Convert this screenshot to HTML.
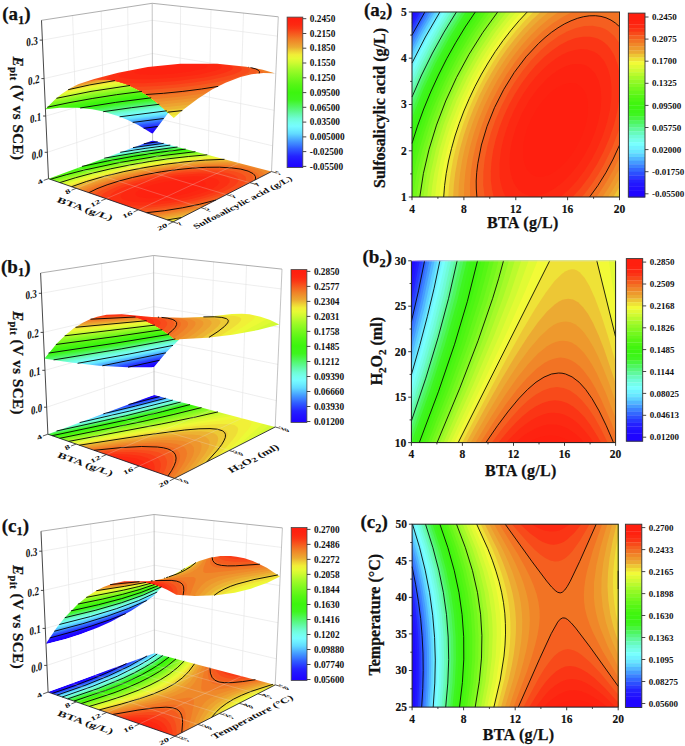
<!DOCTYPE html>
<html><head><meta charset="utf-8"><style>
html,body{margin:0;padding:0;background:#fff;}
body{width:685px;height:746px;overflow:hidden;}
svg{display:block;}
text{font-family:"Liberation Serif",serif;font-weight:bold;fill:#111;}
.h{stroke:#111;stroke-width:0.25px;}
.m{stroke:#111;stroke-width:0.15px;}
</style></head><body>
<svg width="685" height="746" viewBox="0 0 685 746">
<polyline fill="none" points="47.4,152.3 152.5,117.4 272.6,145.8" stroke="#e6e6e6" stroke-width="0.7"/>
<polyline fill="none" points="45.8,116 152.4,85.8 274.2,110.3" stroke="#e6e6e6" stroke-width="0.7"/>
<polyline fill="none" points="44.1,78.6 152.3,53.5 275.8,73.7" stroke="#e6e6e6" stroke-width="0.7"/>
<polyline fill="none" points="42.4,40.1 152.2,20.3 277.4,36.1" stroke="#e6e6e6" stroke-width="0.7"/>
<line x1="77.6" y1="168" x2="72.6" y2="15.6" stroke="#e6e6e6" stroke-width="0.7"/>
<line x1="104.5" y1="158.1" x2="101.2" y2="11.1" stroke="#e6e6e6" stroke-width="0.7"/>
<line x1="129.4" y1="148.9" x2="127.7" y2="7.1" stroke="#e6e6e6" stroke-width="0.7"/>
<line x1="179.6" y1="147.5" x2="180.6" y2="6.3" stroke="#e6e6e6" stroke-width="0.7"/>
<line x1="208.3" y1="155" x2="211" y2="9.6" stroke="#e6e6e6" stroke-width="0.7"/>
<line x1="238.9" y1="163.1" x2="243.5" y2="13" stroke="#e6e6e6" stroke-width="0.7"/>
<polyline fill="none" points="41.5,20.3 152.2,3.3 278.3,16.8" stroke="#999" stroke-width="0.8"/>
<line x1="152.6" y1="140.4" x2="152.2" y2="3.3" stroke="#aaa" stroke-width="0.7"/>
<line x1="271.5" y1="171.6" x2="278.3" y2="16.8" stroke="#aaa" stroke-width="0.7"/>
<mask id="cl1" maskUnits="userSpaceOnUse" x="0" y="0" width="685" height="746"><path fill="#fff" d="M48.5 178.7 173.1 221.9 271.5 171.6 152.6 140.4Z"/></mask>
<g mask="url(#cl1)">
<path fill="#1e00ff" d="M48.5 178.7 173.1 221.9 271.5 171.6 152.6 140.4Z"/>
<path fill-rule="evenodd" fill="#1e00ff" d="M278 171.4 157.3 140 143.3 141.9 41.7 178.9 173.9 225.2 278 171.4Z"/>
<path fill-rule="evenodd" fill="#1f06ff" d="M278 171.4 158.2 140.2 141.8 142.4 41.7 178.9 173.9 225.2 278 171.4Z"/>
<path fill-rule="evenodd" fill="#200dff" d="M278 171.4 159.1 140.4 140.2 143 41.7 178.9 173.9 225.2 278 171.4Z"/>
<path fill-rule="evenodd" fill="#2113ff" d="M278 171.4 159.9 140.7 138.7 143.5 41.7 178.9 173.9 225.2 278 171.4Z"/>
<path fill-rule="evenodd" fill="#221aff" d="M278 171.4 160.8 140.9 137.1 144.1 41.7 178.9 173.9 225.2 278 171.4Z"/>
<path fill-rule="evenodd" fill="#2425ff" d="M278 171.4 161.7 141.1 135.4 144.7 41.7 178.9 173.9 225.2 278 171.4Z"/>
<path fill-rule="evenodd" fill="#2736ff" d="M278 171.4 162.6 141.4 133.7 145.3 41.7 178.9 173.9 225.2 278 171.4Z"/>
<path fill-rule="evenodd" fill="#2b48ff" d="M278 171.4 163.6 141.6 132 146 41.7 178.9 173.9 225.2 278 171.4Z"/>
<path fill-rule="evenodd" fill="#2e59ff" d="M278 171.4 164.5 141.8 130.3 146.6 41.7 178.9 173.9 225.2 278 171.4Z"/>
<path fill-rule="evenodd" fill="#356dff" d="M278 171.4 165.4 142.1 128.5 147.3 41.7 178.9 173.9 225.2 278 171.4Z"/>
<path fill-rule="evenodd" fill="#3b80ff" d="M278 171.4 166.4 142.3 126.6 147.9 41.7 178.9 173.9 225.2 278 171.4Z"/>
<path fill-rule="evenodd" fill="#4294ff" d="M278 171.4 167.4 142.6 124.8 148.6 41.7 178.9 173.9 225.2 278 171.4Z"/>
<path fill-rule="evenodd" fill="#4aa8ff" d="M278 171.4 168.3 142.8 122.8 149.3 41.7 178.9 173.9 225.2 278 171.4Z"/>
<path fill-rule="evenodd" fill="#53bcff" d="M278 171.4 169.3 143.1 144.6 146.4 120.8 150 41.7 178.9 173.9 225.2 278 171.4Z"/>
<path fill-rule="evenodd" fill="#5cd0ff" d="M278 171.4 170.3 143.4 144.5 146.8 118.8 150.8 41.7 178.9 173.9 225.2 278 171.4Z"/>
<path fill-rule="evenodd" fill="#65e3ff" d="M278 171.4 171.4 143.6 144.3 147.2 116.6 151.6 41.7 178.9 173.9 225.2 278 171.4Z"/>
<path fill-rule="evenodd" fill="#6becff" d="M278 171.4 172.4 143.9 143.5 147.7 114.5 152.4 41.7 178.9 173.9 225.2 278 171.4Z"/>
<path fill-rule="evenodd" fill="#72f5ff" d="M278 171.4 173.5 144.2 142.4 148.3 112.2 153.2 41.7 178.9 173.9 225.2 278 171.4Z"/>
<path fill-rule="evenodd" fill="#78ffff" d="M278 171.4 174.5 144.5 142.2 148.8 109.8 154 41.7 178.9 173.9 225.2 278 171.4Z"/>
<path fill-rule="evenodd" fill="#75fef1" d="M278 171.4 175.6 144.7 141.8 149.2 107.4 154.9 41.7 178.9 173.9 225.2 278 171.4Z"/>
<path fill-rule="evenodd" fill="#72fde3" d="M278 171.4 176.8 145 140.5 149.9 104.9 155.9 41.7 178.9 173.9 225.2 278 171.4Z"/>
<path fill-rule="evenodd" fill="#6ffcd5" d="M278 171.4 177.9 145.3 139.7 150.4 102.2 156.8 41.7 178.9 173.9 225.2 278 171.4Z"/>
<path fill-rule="evenodd" fill="#69fbc0" d="M278 171.4 179 145.6 139.4 150.9 99.5 157.8 41.7 178.9 173.9 225.2 278 171.4Z"/>
<path fill-rule="evenodd" fill="#62faa8" d="M278 171.4 180.2 145.9 138.2 151.6 96.6 158.9 41.7 178.9 173.9 225.2 278 171.4Z"/>
<path fill-rule="evenodd" fill="#5cf891" d="M278 171.4 181.4 146.2 137 152.2 93.5 160 41.7 178.9 173.9 225.2 278 171.4Z"/>
<path fill-rule="evenodd" fill="#55f779" d="M278 171.4 182.6 146.6 159.3 149.4 136.5 152.8 112.9 156.8 90.3 161.2 41.7 178.9 173.9 225.2 278 171.4Z"/>
<path fill-rule="evenodd" fill="#4ff762" d="M278 171.4 183.9 146.9 158.9 149.9 134.5 153.6 110.1 157.8 86.8 162.4 41.7 178.9 173.9 225.2 278 171.4Z"/>
<path fill-rule="evenodd" fill="#49f64b" d="M278 171.4 185.1 147.2 159.9 150.3 133.8 154.2 108.2 158.7 83.1 163.8 41.7 178.9 173.9 225.2 278 171.4Z"/>
<path fill-rule="evenodd" fill="#43f533" d="M278 171.4 186.4 147.6 161.3 150.6 136.7 154.2 111.5 158.6 86.9 163.5 79.1 165.2 41.7 178.9 173.9 225.2 278 171.4Z"/>
<path fill-rule="evenodd" fill="#3ef51e" d="M278 171.4 187.8 147.9 163.9 150.7 139.4 154.3 115.6 158.3 91.6 163.1 74.8 166.8 41.7 178.9 173.9 225.2 278 171.4Z"/>
<path fill-rule="evenodd" fill="#3df519" d="M278 171.4 189.1 148.3 166.5 150.9 142.7 154.3 119.8 158.1 97.1 162.5 69.9 168.6 41.7 178.9 173.9 225.2 278 171.4Z"/>
<path fill-rule="evenodd" fill="#3df514" d="M278 171.4 190.5 148.6 168 151.2 145.7 154.3 123.9 157.9 101.3 162.2 64.4 170.6 41.7 178.9 173.9 225.2 278 171.4Z"/>
<path fill-rule="evenodd" fill="#3cf50f" d="M278 171.4 191.9 149 170.2 151.4 149.3 154.3 127.5 157.8 106.4 161.7 82.4 166.9 59.8 172.5 41.7 178.9 173.9 225.2 278 171.4Z"/>
<path fill-rule="evenodd" fill="#43f510" d="M278 171.4 193.4 149.4 152.5 154.4 111.9 161.3 90.7 165.7 70 170.5 49.6 176 41.7 178.9 173.9 225.2 278 171.4Z"/>
<path fill-rule="evenodd" fill="#4bf612" d="M278 171.4 194.9 149.8 155.2 154.5 115.1 161.2 77.4 169.4 59.2 174.1 42.1 179 173.9 225.2 278 171.4Z"/>
<path fill-rule="evenodd" fill="#53f613" d="M278 171.4 196.5 150.2 156.1 155 116.1 161.6 77.9 170 60.1 174.5 43.3 179.4 173.9 225.2 278 171.4Z"/>
<path fill-rule="evenodd" fill="#5df616" d="M278 171.4 198.1 150.6 158.5 155.2 138.4 158.3 117.8 161.9 98.3 165.9 79.2 170.3 61 175.1 44.6 179.9 173.9 225.2 278 171.4Z"/>
<path fill-rule="evenodd" fill="#68f719" d="M278 171.4 199.7 151 179.7 153.1 159.5 155.6 139.3 158.7 119.1 162.3 99.5 166.3 80.3 170.8 62.3 175.5 45.9 180.4 173.9 225.2 278 171.4Z"/>
<path fill-rule="evenodd" fill="#73f81c" d="M278 171.4 201.4 151.5 181.3 153.5 161.3 156 141.3 159 120.9 162.6 100.8 166.7 82.4 171 64.3 175.8 47.3 180.8 173.9 225.2 278 171.4Z"/>
<path fill-rule="evenodd" fill="#7ef820" d="M278 171.4 203.2 151.9 183.2 153.9 162.7 156.4 142.7 159.4 121.7 163.1 102.1 167.1 83.7 171.4 65.6 176.2 48.7 181.3 173.9 225.2 278 171.4Z"/>
<path fill-rule="evenodd" fill="#8bf923" d="M278 171.4 205 152.4 185.3 154.2 165 156.7 144.1 159.8 123.9 163.4 104.2 167.4 85 171.9 67 176.7 50.1 181.8 173.9 225.2 278 171.4Z"/>
<path fill-rule="evenodd" fill="#97fa26" d="M278 171.4 206.9 152.9 187.3 154.7 166.7 157.1 146 160.2 125.3 163.8 104.8 168 86.4 172.3 68.4 177.1 51.6 182.3 173.9 225.2 278 171.4Z"/>
<path fill-rule="evenodd" fill="#a5fa29" d="M278 171.4 208.9 153.4 189.3 155.1 168.3 157.6 147.9 160.5 127.5 164.1 107.6 168.1 87.8 172.8 69.9 177.6 53.1 182.9 173.9 225.2 278 171.4Z"/>
<path fill-rule="evenodd" fill="#b4fa2c" d="M278 171.4 211 154 191.1 155.6 169.9 158 148.9 161 128.3 164.6 107.9 168.8 89.3 173.2 71.4 178.1 54.7 183.4 173.9 225.2 278 171.4Z"/>
<path fill-rule="evenodd" fill="#c4fa2f" d="M278 171.4 213.2 154.5 193 156.1 171.9 158.5 151.1 161.4 130.5 165 110.6 169 90.8 173.7 72.9 178.7 56.3 184 173.9 225.2 278 171.4Z"/>
<path fill-rule="evenodd" fill="#d3fa32" d="M278 171.4 215.6 155.2 213.3 155.3 193.4 156.8 172.4 159.1 151.5 162.1 131 165.6 110.8 169.8 91.6 174.4 73.8 179.4 58 184.6 173.9 225.2 278 171.4Z"/>
<path fill-rule="evenodd" fill="#e0fa34" d="M278 171.4 218.1 155.8 210.1 156.3 191.1 157.8 171 160 150.4 163 130.6 166.5 110.9 170.6 92.5 175.1 75.4 180 59.7 185.2 171.8 224.5 177 223.6 278 171.4Z"/>
<path fill-rule="evenodd" fill="#ecfa36" d="M278 171.4 220.7 156.5 207.9 157.2 188.7 158.8 168.7 161.1 148.6 164.1 129.2 167.6 110.3 171.6 92.7 176 76.5 180.8 61.5 185.8 169.4 223.7 180.5 221.8 278 171.4Z"/>
<path fill-rule="evenodd" fill="#f1f037" d="M278 171.4 223.6 157.3 204.4 158.2 186.2 159.8 167.1 162.1 148.3 165 129.1 168.5 110.5 172.5 93.7 176.8 77.6 181.6 63.4 186.5 167 222.8 184.1 220 278 171.4Z"/>
<path fill-rule="evenodd" fill="#efde37" d="M278 171.4 226.8 158.1 202 159.3 184 160.9 165.6 163.2 146.9 166.1 128.9 169.4 110.8 173.4 94.1 177.8 78.7 182.4 65.4 187.2 164.4 221.9 187.9 218 278 171.4Z"/>
<path fill-rule="evenodd" fill="#edc935" d="M278 171.4 230.4 159 215.2 159.4 198.5 160.4 180.7 162.1 162.8 164.4 144.9 167.3 127.7 170.6 110.4 174.6 94.5 178.8 80 183.3 67.5 187.9 161.8 221 191.9 215.9 278 171.4Z"/>
<path fill-rule="evenodd" fill="#ecb333" d="M278 171.4 234.5 160.1 216.2 160.3 195.6 161.6 177.9 163.4 160.7 165.7 143.6 168.5 126.5 171.9 110.1 175.7 95.1 179.9 81.4 184.3 69.7 188.7 159 220 178.1 217.1 196.1 213.7 278 171.4Z"/>
<path fill-rule="evenodd" fill="#eda330" d="M278 171.4 239.6 161.4 217.1 161.3 192.8 162.8 176 164.5 158.7 166.9 142 169.8 126.3 173 110.7 176.7 96.5 180.7 83.6 185 72.1 189.5 156.1 219 178.4 215.7 200.7 211.4 278 171.4Z"/>
<path fill-rule="evenodd" fill="#ee962d" d="M271.6 169.8 246.8 163.3 239.2 162.7 226.8 162.3 213.3 162.5 184.3 164.6 152.8 168.9 122.6 175 108.5 178.6 95.9 182.3 84.6 186.3 74.6 190.4 153.1 217.9 179.5 214.1 205.7 208.8 275 173 273.4 171 271.6 169.8Z"/>
<path fill-rule="evenodd" fill="#ef892a" d="M261.8 168.2 255 166.3 247.1 164.9 237.4 164 226.8 163.6 201.3 164.3 173.6 166.9 145.4 171.3 118.7 177.2 95.6 184 85.9 187.6 77.4 191.4 149.8 216.8 157.9 215.8 185.4 211.5 211.3 205.9 270.5 175.3 269.8 173.4 268 171.5 265.2 169.7 261.8 168.2Z"/>
<path fill-rule="evenodd" fill="#f17a26" d="M257.2 169.4 251.2 167.6 243.4 166.2 233.7 165.3 222.9 164.9 197.8 165.7 171.3 168.3 144.7 172.7 118.9 178.5 107.6 181.8 96.8 185.3 88 188.8 80.4 192.5 146.2 215.5 160.6 213.9 175.5 211.7 190.5 209 204.8 205.8 218 202.4 265 178.2 265 175.6 263.6 173.2 261.1 171.2 257.2 169.4Z"/>
<path fill-rule="evenodd" fill="#f36b22" d="M249.9 169.8 243.4 168.2 235.1 167.1 225.8 166.5 215.5 166.3 192.1 167.3 167 170.2 141 174.7 117.9 180.3 98.3 186.8 90.4 190.1 83.8 193.6 142.3 214.1 167 211.3 182.9 208.8 198.3 205.6 213 202 226.9 197.8 257.5 181.9 258.7 180 259.3 178.2 259.2 176.6 258.5 174.9 257 173.3 255.1 172 249.9 169.8Z"/>
<path fill-rule="evenodd" fill="#f55b1f" d="M244.1 171 237.5 169.5 229.9 168.5 211 167.8 187.9 169 163.8 172 139.9 176.4 117.9 182 108.4 185.1 100.2 188.3 93.3 191.6 87.7 195 137.8 212.6 154.5 211.2 171.6 208.9 192.4 205.1 212 200.4 228.6 195 241.1 189.7 246.1 186.7 249.8 183.9 252 181.4 253 178.8 252.7 176.5 251.2 174.5 248.3 172.7 244.1 171Z"/>
<path fill-rule="evenodd" fill="#f84b1b" d="M239.9 173.1 234.4 171.5 227.1 170.3 218.8 169.7 208.4 169.5 186.4 170.7 161.8 173.7 138.3 178.4 117.6 184.1 109.2 187.2 102.1 190.3 96.4 193.6 92.5 196.7 132.5 210.7 152.5 209.4 174.2 206.6 192.3 203.2 209.2 199.1 223.7 194.4 235.1 189.5 239.2 187.1 242.7 184.6 245 182.2 246 180.2 246.1 178.2 245.1 176.3 243.2 174.7 239.9 173.1Z"/>
<path fill-rule="evenodd" fill="#fa3c17" d="M233.8 174.9 228.4 173.3 221.1 172.1 212.6 171.5 203 171.4 181.4 172.8 157.5 176.1 135 181.1 125.1 183.9 116.7 186.9 109.6 190.1 103.9 193.3 100.6 196.3 99 199 125.4 208.2 137.5 208.2 150.2 207.5 164.5 206 179.2 203.7 194.3 200.7 208.2 197 219.7 193.2 229.1 189 235.4 184.9 237.2 183.1 238.3 181.1 238.4 179.2 237.8 177.8 236.4 176.4 233.8 174.9Z"/>
<path fill-rule="evenodd" fill="#fc2f13" d="M226.3 176.9 221.8 175.4 215.4 174.3 207.9 173.7 199.3 173.6 178.8 174.9 157.3 178.1 137.4 182.7 128.6 185.4 121.6 188.1 116 190.8 111.8 193.6 109.5 196.2 108.9 198.8 109.5 200.1 110.6 201.2 115.3 203.3 122 204.7 131.3 205.5 142.3 205.5 155 204.7 167.8 203.2 180.6 201.2 193.2 198.5 203.9 195.7 213.9 192.3 221.6 188.8 226.8 185.5 229.4 182.4 229.7 180.7 229.3 179.3 228.2 178.2 226.3 176.9Z"/>
<path fill-rule="evenodd" fill="#fd2711" d="M216.5 179 212.6 177.7 207.7 176.8 194.6 176.2 177.9 177.3 160.4 179.8 144.2 183.6 131 188.1 126.4 190.3 122.8 192.7 120.9 194.8 120.6 196.8 121.3 198.1 122.5 199.1 126.3 200.6 132.2 201.7 139.5 202.3 148.1 202.2 158.3 201.6 168.9 200.4 179.4 198.7 189.7 196.5 198.7 194.1 206.6 191.4 212.7 188.6 217 185.8 219.1 183.3 219.3 182.2 219 181 216.5 179Z"/>
<path fill-rule="evenodd" fill="#fe2210" d="M204.3 182.1 202 181.1 198.9 180.4 189.2 179.7 177.7 180.3 164.7 182.1 153.2 184.7 143.2 188 137.1 191.4 135.8 192.8 135.5 194.4 136.9 195.9 139.3 197 143.4 197.8 148.5 198.2 161.3 197.8 176.2 195.9 189.9 192.7 200 189 203.3 187.1 205.2 185.2 205.5 183.6 204.3 182.1Z"/>
</g>
<path fill="none" stroke="#000" stroke-width="0.9" d="M157.7 141.8 143.8 143.7M163.7 143.3 133 147.6M170.3 145.1 145.1 148.4 120.2 152.3M177.5 147 140.8 151.9 104.3 158.2M185.7 149.1 160.2 152.2 133.4 156.3 107.5 161 82 166.4M195.4 151.7 157.3 156.2 119.6 162.5 83.7 170.2 66.6 174.6 50.4 179.3M207.3 154.8 188.3 156.5 169.1 158.7 149.2 161.6 129.7 165 110.7 168.8 92.6 173.1 75.6 177.7 59.8 182.6M224.5 159.3 205.3 160.1 185 161.8 164.2 164.4 143.9 167.7 123.9 171.6 104.8 176.2 86.7 181.4 71.6 186.7M167.3 219.9 181.4 217.6M255.2 180 255.6 178.1 255.4 176.6 254.5 175 253.1 173.6 248.1 171.1 240.8 169.1 231.4 167.9 219.6 167.2 206.2 167.3 192.4 168.1 176.6 169.7 161.7 171.7 147 174.3 132.4 177.5 119.4 180.9 107.1 184.8 97 188.7 88.9 192.7M146.5 212.7 164.5 210.7 182.4 207.8 199.4 204.3 215.8 200.1"/>
<line x1="77.6" y1="168" x2="201" y2="207.6" stroke="#e8e8e8" stroke-width="0.6" stroke-opacity="0.42"/>
<line x1="104.5" y1="158.1" x2="226.5" y2="194.6" stroke="#e8e8e8" stroke-width="0.6" stroke-opacity="0.42"/>
<line x1="129.4" y1="148.9" x2="249.9" y2="182.7" stroke="#e8e8e8" stroke-width="0.6" stroke-opacity="0.42"/>
<line x1="76.3" y1="188.3" x2="179.6" y2="147.5" stroke="#e8e8e8" stroke-width="0.6" stroke-opacity="0.42"/>
<line x1="106.2" y1="198.7" x2="208.3" y2="155" stroke="#e8e8e8" stroke-width="0.6" stroke-opacity="0.42"/>
<line x1="138.3" y1="209.8" x2="238.9" y2="163.1" stroke="#e8e8e8" stroke-width="0.6" stroke-opacity="0.42"/>
<polyline fill="none" points="48.5,178.7 173.1,221.9 271.5,171.6" stroke="#1a1a28" stroke-width="0.85"/>
<mask id="cl2" maskUnits="userSpaceOnUse" x="0" y="0" width="685" height="746"><path fill="#fff" d="M152.5 133.7 138.2 125 127.8 120 117.8 116 102.2 111.3 92.2 109.3 77.2 107.7 59.5 107.7 45.8 109.3 45.7 108.8 55.5 99 61.2 94.3 70.2 88.3 78.2 84.3 94.2 79 118.2 72.7 147.8 67 180.2 63.7 217.2 63.7 246.2 66.7 262.8 69.7 274.7 73.2 263.5 73 251.5 74.3 240.5 77 225.5 82.7 212.5 89.3 197.8 98.7 182.5 110.3 173.8 118 168.2 113 152.5 133.7ZM275.2 73.7 274.7 73.5 275.2 73.7Z"/></mask>
<g mask="url(#cl2)">
<path fill="#1e00ff" d="M152.5 133.7 138.2 125 127.8 120 117.8 116 102.2 111.3 92.2 109.3 77.2 107.7 59.5 107.7 45.8 109.3 45.7 108.8 55.5 99 61.2 94.3 70.2 88.3 78.2 84.3 94.2 79 118.2 72.7 147.8 67 180.2 63.7 217.2 63.7 246.2 66.7 262.8 69.7 274.7 73.2 263.5 73 251.5 74.3 240.5 77 225.5 82.7 212.5 89.3 197.8 98.7 182.5 110.3 173.8 118 168.2 113 152.5 133.7ZM275.2 73.7 274.7 73.5 275.2 73.7Z"/>
<path fill-rule="evenodd" fill="#1e00ff" d="M154.2 134.5 152.8 133.2 152.2 133.3 150.8 134.6 150.2 134.5 147.5 132.5 137.2 126.5 124.5 120.5 110.8 115.5 102.2 113.2 92.2 111.2 77.2 109.5 59.5 109.5 59.2 109.8 48.5 110.5 45.8 111.2 44.2 110.2 43.8 108.8 44.2 107.8 54.5 97.5 60.2 92.8 69.2 86.8 77.2 82.8 90.8 78.2 110.2 72.8 124.2 69.5 147.8 65.2 160.5 63.5 174.8 62.5 175.2 62.2 179.8 62.2 180.2 61.8 198.8 61.5 217.2 61.8 217.5 62.2 222.2 62.2 222.5 62.5 236.2 63.5 254.2 66.2 268.2 69.2 275.5 71.5 276.8 72.5 277.2 73.5 276.8 74.5 275.2 75.5 269.8 74.8 258.8 75.2 251.5 76.2 242.8 78.2 231.2 82.2 216.5 89.2 205.8 95.5 192.8 104.5 179.5 115.2 174.8 119.5 173.5 119.8 172.5 119.5 168.5 115.5 161.5 124.2 154.2 134.5Z"/>
<path fill-rule="evenodd" fill="#1f06ff" d="M149.5 133.8 137.2 126.5 126.8 121.5 116.8 117.5 102.2 113.2 92.2 111.2 77.2 109.5 59.5 109.5 59.2 109.8 48.5 110.5 45.8 111.2 44.2 110.2 43.8 108.8 44.2 107.8 54.5 97.5 60.2 92.8 69.2 86.8 77.2 82.8 90.8 78.2 110.2 72.8 124.2 69.5 147.8 65.2 160.5 63.5 174.8 62.5 175.2 62.2 179.8 62.2 180.2 61.8 198.8 61.5 217.2 61.8 217.5 62.2 222.2 62.2 222.5 62.5 236.2 63.5 254.2 66.2 268.2 69.2 275.5 71.5 276.8 72.5 277.2 73.5 276.8 74.5 275.2 75.5 269.8 74.8 263.5 74.8 251.5 76.2 240.5 78.8 226.5 84.2 213.5 90.8 198.8 100.2 183.5 111.8 174.8 119.5 173.5 119.8 172.5 119.5 168.5 115.5 161.5 124.2 155.2 133.2 153.5 132 150.8 132.3 149.5 133.8Z"/>
<path fill-rule="evenodd" fill="#200dff" d="M147.8 132.7 137.2 126.5 126.8 121.5 116.8 117.5 102.2 113.2 92.2 111.2 77.2 109.5 59.5 109.5 59.2 109.8 48.5 110.5 45.8 111.2 44.2 110.2 43.8 108.8 44.2 107.8 54.5 97.5 60.2 92.8 69.2 86.8 77.2 82.8 90.8 78.2 110.2 72.8 124.2 69.5 147.8 65.2 160.5 63.5 174.8 62.5 175.2 62.2 179.8 62.2 180.2 61.8 198.8 61.5 217.2 61.8 217.5 62.2 222.2 62.2 222.5 62.5 236.2 63.5 254.2 66.2 268.2 69.2 275.5 71.5 276.8 72.5 277.2 73.5 276.8 74.5 275.2 75.5 269.8 74.8 263.5 74.8 251.5 76.2 240.5 78.8 226.5 84.2 213.5 90.8 198.8 100.2 183.5 111.8 174.8 119.5 173.5 119.8 172.5 119.5 168.5 115.5 161.5 124.2 156.2 131.8 154.5 130.7 149.2 131.4 147.8 132.7Z"/>
<path fill-rule="evenodd" fill="#2113ff" d="M146.2 131.8 137.2 126.5 124.5 120.5 110.8 115.5 102.2 113.2 92.2 111.2 77.2 109.5 59.5 109.5 59.2 109.8 48.5 110.5 45.8 111.2 44.2 110.2 43.8 108.8 44.2 107.8 54.5 97.5 60.2 92.8 69.2 86.8 77.2 82.8 90.8 78.2 110.2 72.8 124.2 69.5 147.8 65.2 160.5 63.5 174.8 62.5 175.2 62.2 179.8 62.2 180.2 61.8 198.8 61.5 217.2 61.8 217.5 62.2 222.2 62.2 222.5 62.5 236.2 63.5 254.2 66.2 268.2 69.2 275.5 71.5 276.8 72.5 277.2 73.5 276.8 74.5 275.2 75.5 269.8 74.8 263.5 74.8 251.5 76.2 240.5 78.8 226.5 84.2 213.5 90.8 198.8 100.2 183.5 111.8 174.8 119.5 173.5 119.8 172.5 119.5 168.5 115.5 157.2 130.1 155.5 129.5 147.5 130.5 146.2 131.8Z"/>
<path fill-rule="evenodd" fill="#221aff" d="M145.2 131.2 137.2 126.5 124.5 120.5 110.8 115.5 99.2 112.5 87.5 110.5 77.2 109.5 59.5 109.5 59.2 109.8 48.5 110.5 45.8 111.2 44.2 110.2 43.8 108.8 44.2 107.8 54.5 97.5 60.2 92.8 69.2 86.8 77.2 82.8 90.8 78.2 110.2 72.8 124.2 69.5 147.8 65.2 160.5 63.5 174.8 62.5 175.2 62.2 179.8 62.2 180.2 61.8 198.8 61.5 217.2 61.8 217.5 62.2 222.2 62.2 222.5 62.5 236.2 63.5 254.2 66.2 268.2 69.2 275.5 71.5 276.8 72.5 277.2 73.5 276.8 74.5 275.2 75.5 269.8 74.8 263.5 74.8 251.5 76.2 240.5 78.8 226.5 84.2 213.5 90.8 198.8 100.2 183.5 111.8 174.8 119.5 173.5 119.8 172.5 119.5 168.5 115.5 161.5 124.2 157.8 129.5 156.5 128.2 146.3 129.5 145.2 131.2Z"/>
<path fill-rule="evenodd" fill="#2425ff" d="M143.5 130.2 130.5 123.2 119.5 118.5 110.8 115.5 99.2 112.5 87.5 110.5 77.2 109.5 59.5 109.5 59.2 109.8 48.5 110.5 45.8 111.2 44.2 110.2 43.8 108.8 44.2 107.8 54.5 97.5 60.2 92.8 69.2 86.8 77.2 82.8 90.8 78.2 110.2 72.8 124.2 69.5 147.8 65.2 160.5 63.5 174.8 62.5 175.2 62.2 179.8 62.2 180.2 61.8 198.8 61.5 217.2 61.8 217.5 62.2 222.2 62.2 222.5 62.5 236.2 63.5 254.2 66.2 268.2 69.2 275.5 71.5 276.8 72.5 277.2 73.5 276.8 74.5 275.2 75.5 269.8 74.8 263.5 74.8 251.5 76.2 240.5 78.8 226.5 84.2 213.5 90.8 198.8 100.2 183.5 111.8 174.8 119.5 173.5 119.8 172.5 119.5 168.5 115.5 158.8 127.7 157.2 127 144.8 128.6 143.5 130.2Z"/>
<path fill-rule="evenodd" fill="#2736ff" d="M141.8 129.2 130.5 123.2 119.5 118.5 110.8 115.5 99.2 112.5 87.5 110.5 77.2 109.5 59.5 109.5 59.2 109.8 48.5 110.5 45.8 111.2 44.2 110.2 43.8 108.8 44.2 107.8 54.5 97.5 60.2 92.8 69.2 86.8 77.2 82.8 90.8 78.2 110.2 72.8 124.2 69.5 147.8 65.2 160.5 63.5 174.8 62.5 175.2 62.2 179.8 62.2 180.2 61.8 198.8 61.5 217.2 61.8 217.5 62.2 222.2 62.2 222.5 62.5 236.2 63.5 254.2 66.2 268.2 69.2 275.5 71.5 276.8 72.5 277.2 73.5 276.8 74.5 275.2 75.5 269.8 74.8 263.5 74.8 253.5 75.8 242.8 78.2 231.2 82.2 216.5 89.2 205.8 95.5 191.5 105.5 179.5 115.2 174.8 119.5 173.5 119.8 172.5 119.5 168.5 115.5 159.8 126.5 158.2 125.7 143.2 127.6 141.8 129.2Z"/>
<path fill-rule="evenodd" fill="#2b48ff" d="M140.2 128.2 130.5 123.2 119.5 118.5 110.8 115.5 99.2 112.5 87.5 110.5 77.2 109.5 59.5 109.5 59.2 109.8 48.5 110.5 45.8 111.2 44.2 110.2 43.8 108.8 44.2 107.8 54.5 97.5 60.2 92.8 69.2 86.8 77.2 82.8 90.8 78.2 110.2 72.8 124.2 69.5 147.8 65.2 160.5 63.5 174.8 62.5 175.2 62.2 179.8 62.2 180.2 61.8 198.8 61.5 217.2 61.8 217.5 62.2 222.2 62.2 222.5 62.5 236.2 63.5 254.2 66.2 268.2 69.2 275.5 71.5 276.8 72.5 277.2 73.5 276.8 74.5 275.2 75.5 269.8 74.8 263.5 74.8 253.5 75.8 242.8 78.2 231.2 82.2 216.5 89.2 205.8 95.5 191.5 105.5 179.5 115.2 174.8 119.5 173.5 119.8 172.5 119.5 168.5 115.5 160.8 125.2 159.2 124.5 141.5 126.7 140.2 128.2Z"/>
<path fill-rule="evenodd" fill="#2e59ff" d="M138.8 127.5 126.8 121.5 116.8 117.5 106.2 114.2 94.2 111.5 77.2 109.5 59.5 109.5 59.2 109.8 48.5 110.5 45.8 111.2 44.2 110.2 43.8 108.8 44.2 107.8 54.5 97.5 60.2 92.8 69.2 86.8 77.2 82.8 90.8 78.2 110.2 72.8 124.2 69.5 147.8 65.2 160.5 63.5 174.8 62.5 175.2 62.2 179.8 62.2 180.2 61.8 198.8 61.5 217.2 61.8 217.5 62.2 222.2 62.2 222.5 62.5 236.2 63.5 254.2 66.2 268.2 69.2 275.5 71.5 276.8 72.5 277.2 73.5 276.8 74.5 275.2 75.5 269.2 74.8 255.8 75.5 242.8 78.2 232.8 81.5 216.5 89.2 205.8 95.5 191.5 105.5 179.5 115.2 174.8 119.5 173.5 119.8 172.5 119.5 168.5 115.5 161.5 124 159.8 123.3 139.6 125.8 138.8 127.5Z"/>
<path fill-rule="evenodd" fill="#356dff" d="M137.2 126.5 126.8 121.5 116.8 117.5 106.2 114.2 94.2 111.5 77.2 109.5 59.5 109.5 59.2 109.8 48.5 110.5 45.8 111.2 44.2 110.2 43.8 108.8 44.2 107.8 54.5 97.5 60.2 92.8 69.2 86.8 77.2 82.8 90.8 78.2 110.2 72.8 124.2 69.5 147.8 65.2 160.5 63.5 174.8 62.5 175.2 62.2 179.8 62.2 180.2 61.8 198.8 61.5 217.2 61.8 217.5 62.2 222.2 62.2 222.5 62.5 236.2 63.5 254.2 66.2 268.2 69.2 275.5 71.5 276.8 72.5 277.2 73.5 276.8 74.5 275.2 75.5 269.2 74.8 255.8 75.5 242.8 78.2 232.8 81.5 216.5 89.2 205.8 95.5 191.5 105.5 179.5 115.2 174.8 119.5 173.5 119.8 172.5 119.5 168.5 115.5 162.5 123.2 160.8 122 142.2 124.3 138.5 124.8 137.2 126.5Z"/>
<path fill-rule="evenodd" fill="#3b80ff" d="M135.2 125.5 126.8 121.5 116.8 117.5 106.2 114.2 94.2 111.5 77.2 109.5 59.5 109.5 59.2 109.8 48.5 110.5 45.8 111.2 44.2 110.2 43.8 108.8 44.2 107.8 54.5 97.5 60.2 92.8 69.2 86.8 77.2 82.8 90.8 78.2 110.2 72.8 124.2 69.5 147.8 65.2 160.5 63.5 174.8 62.5 175.2 62.2 179.8 62.2 180.2 61.8 198.8 61.5 217.2 61.8 217.5 62.2 222.2 62.2 222.5 62.5 236.2 63.5 254.2 66.2 268.2 69.2 275.5 71.5 276.8 72.5 277.2 73.5 276.8 74.5 275.2 75.5 269.8 74.8 263.5 74.8 251.5 76.2 240.5 78.8 226.5 84.2 213.5 90.8 198.8 100.2 183.5 111.8 174.8 119.5 173.5 119.8 172.5 119.5 168.5 115.5 163.5 121.8 161.8 120.8 144.5 122.9 136.5 124 135.2 125.5Z"/>
<path fill-rule="evenodd" fill="#4294ff" d="M133.2 124.5 124.5 120.5 110.8 115.5 94.2 111.5 77.2 109.5 59.5 109.5 59.2 109.8 48.5 110.5 45.8 111.2 44.2 110.2 43.8 108.8 44.2 107.8 54.5 97.5 60.2 92.8 69.2 86.8 77.2 82.8 90.8 78.2 110.2 72.8 124.2 69.5 147.8 65.2 160.5 63.5 174.8 62.5 175.2 62.2 179.8 62.2 180.2 61.8 198.8 61.5 217.2 61.8 217.5 62.2 222.2 62.2 222.5 62.5 236.2 63.5 254.2 66.2 268.2 69.2 275.5 71.5 276.8 72.5 277.2 73.5 276.8 74.5 275.2 75.5 269.8 74.8 263.5 74.8 251.5 76.2 240.5 78.8 226.5 84.2 213.5 90.8 198.8 100.2 183.5 111.8 174.8 119.5 173.5 119.8 172.5 119.5 168.5 115.5 164.2 120.8 162.8 119.5 158.2 120.1 134.5 123.1 133.2 124.5Z"/>
<path fill-rule="evenodd" fill="#4aa8ff" d="M131.8 123.8 119.5 118.5 110.8 115.5 94.2 111.5 77.2 109.5 59.5 109.5 59.2 109.8 48.5 110.5 45.8 111.2 44.2 110.2 43.8 108.8 44.2 107.8 54.5 97.5 60.2 92.8 69.2 86.8 77.2 82.8 90.8 78.2 110.2 72.8 124.2 69.5 147.8 65.2 160.5 63.5 174.8 62.5 175.2 62.2 179.8 62.2 180.2 61.8 198.8 61.5 217.2 61.8 217.5 62.2 222.2 62.2 222.5 62.5 236.2 63.5 254.2 66.2 268.2 69.2 275.5 71.5 276.8 72.5 277.2 73.5 276.8 74.5 275.2 75.5 269.8 74.8 263.5 74.8 251.5 76.2 240.5 78.8 226.5 84.2 213.5 90.8 198.8 100.2 183.5 111.8 174.8 119.5 173.5 119.8 172.5 119.5 168.5 115.5 165.2 119.5 163.8 118.3 142.2 120.9 132.7 122.2 131.8 123.8Z"/>
<path fill-rule="evenodd" fill="#53bcff" d="M129.5 122.8 119.5 118.5 110.8 115.5 102.2 113.2 92.2 111.2 76.5 109.5 59.5 109.5 59.2 109.8 48.5 110.5 45.8 111.2 44.2 110.2 43.8 108.8 44.2 107.8 54.5 97.5 60.2 92.8 69.2 86.8 77.2 82.8 90.8 78.2 110.2 72.8 124.2 69.5 147.8 65.2 160.5 63.5 174.8 62.5 175.2 62.2 179.8 62.2 180.2 61.8 198.8 61.5 217.2 61.8 217.5 62.2 222.2 62.2 222.5 62.5 236.2 63.5 254.2 66.2 268.2 69.2 275.5 71.5 276.8 72.5 277.2 73.5 276.8 74.5 275.2 75.5 269.8 74.8 263.5 74.8 251.5 76.2 240.5 78.8 226.5 84.2 213.5 90.8 198.8 100.2 183.5 111.8 174.8 119.5 173.5 119.8 172.5 119.5 168.5 115.5 166.2 117.9 164.5 117 136.8 120.5 130.8 121.3 129.5 122.8Z"/>
<path fill-rule="evenodd" fill="#5cd0ff" d="M127.5 121.8 110.8 115.5 102.2 113.2 92.2 111.2 76.5 109.5 59.5 109.5 59.2 109.8 48.5 110.5 45.8 111.2 44.2 110.2 43.8 108.8 44.2 107.8 54.5 97.5 60.2 92.8 69.2 86.8 77.2 82.8 90.8 78.2 110.2 72.8 124.2 69.5 147.8 65.2 160.5 63.5 174.8 62.5 175.2 62.2 179.8 62.2 180.2 61.8 198.8 61.5 217.2 61.8 217.5 62.2 222.2 62.2 222.5 62.5 236.2 63.5 257.8 66.8 268.2 69.2 275.5 71.5 276.8 72.5 277.2 73.5 276.8 74.5 275.2 75.5 269.8 74.8 263.5 74.8 263.2 75.2 255.8 75.5 248.2 76.8 235.5 80.5 226.5 84.2 213.5 90.8 198.8 100.2 188.5 107.8 174.8 119.5 173.8 119.8 172.5 119.5 168.5 115.5 167.5 116.5 165.8 115.8 128.8 120.4 127.5 121.8Z"/>
<path fill-rule="evenodd" fill="#65e3ff" d="M125.8 121.2 110.8 115.5 102.2 113.2 92.2 111.2 76.5 109.5 59.5 109.5 59.2 109.8 48.5 110.5 45.8 111.2 44.2 110.2 43.8 108.8 44.2 107.8 54.5 97.5 60.2 92.8 69.2 86.8 77.2 82.8 90.8 78.2 110.2 72.8 124.2 69.5 147.8 65.2 160.5 63.5 174.8 62.5 175.2 62.2 179.8 62.2 180.2 61.8 198.8 61.5 217.2 61.8 217.5 62.2 222.2 62.2 222.5 62.5 236.2 63.5 257.8 66.8 268.2 69.2 275.5 71.5 276.8 72.5 277.2 73.5 276.8 74.5 275.2 75.5 269.8 74.8 263.5 74.8 263.2 75.2 255.8 75.5 248.2 76.8 235.5 80.5 226.5 84.2 213.5 90.8 198.8 100.2 188.5 107.8 174.8 119.5 173.8 119.8 172.5 119.5 168.5 115.5 168.2 115.8 166.8 114.5 126.9 119.5 125.8 121.2Z"/>
<path fill-rule="evenodd" fill="#6becff" d="M123.5 120.2 116.8 117.5 106.2 114.2 94.2 111.5 87.5 110.5 77.2 109.5 59.5 109.5 59.2 109.8 48.5 110.5 45.8 111.2 44.2 110.2 43.8 108.8 44.2 107.8 54.5 97.5 60.2 92.8 69.2 86.8 77.2 82.8 90.8 78.2 110.2 72.8 124.2 69.5 147.8 65.2 160.5 63.5 174.8 62.5 175.2 62.2 179.8 62.2 180.2 61.8 198.8 61.5 217.2 61.8 217.5 62.2 222.2 62.2 222.5 62.5 236.2 63.5 257.8 66.8 268.2 69.2 275.5 71.5 276.8 72.5 277.2 73.5 276.8 74.5 275.2 75.5 269.8 74.8 263.5 74.8 263.2 75.2 255.8 75.5 248.2 76.8 235.5 80.5 226.5 84.2 213.5 90.8 198.8 100.2 188.5 107.8 174.8 119.5 173.8 119.8 172.5 119.5 168.5 115.5 167.8 113.3 124.8 118.6 123.5 120.2Z"/>
<path fill-rule="evenodd" fill="#72f5ff" d="M173.8 119.8 172.5 119.5 168.5 115.5 168.2 112.8 167.5 112.2 122.5 117.8 121.5 119.5 116.8 117.5 106.2 114.2 94.2 111.5 87.5 110.5 77.2 109.5 59.5 109.5 59.2 109.8 48.5 110.5 45.8 111.2 44.2 110.2 43.8 108.8 44.2 107.8 54.5 97.5 60.2 92.8 69.2 86.8 77.2 82.8 90.8 78.2 110.2 72.8 124.2 69.5 147.8 65.2 160.5 63.5 174.8 62.5 175.2 62.2 179.8 62.2 180.2 61.8 198.8 61.5 217.2 61.8 217.5 62.2 222.2 62.2 222.5 62.5 236.2 63.5 254.2 66.2 268.2 69.2 275.5 71.5 276.8 72.5 277.2 73.5 276.8 74.5 275.2 75.5 269.8 74.8 263.5 74.8 251.5 76.2 240.5 78.8 226.5 84.2 213.5 90.8 198.8 100.2 188.5 107.8 174.8 119.5 173.8 119.8Z"/>
<path fill-rule="evenodd" fill="#78ffff" d="M173.8 119.8 172.5 119.5 168.5 115.5 168.2 112.8 166.5 111.2 120.8 116.9 119.8 118.6 106.2 114.2 94.2 111.5 87.5 110.5 77.2 109.5 59.5 109.5 59.2 109.8 48.5 110.5 45.8 111.2 44.2 110.2 43.8 108.8 44.2 107.8 54.5 97.5 60.2 92.8 69.2 86.8 77.2 82.8 90.8 78.2 110.2 72.8 124.2 69.5 147.8 65.2 160.5 63.5 174.8 62.5 175.2 62.2 179.8 62.2 180.2 61.8 198.8 61.5 217.2 61.8 217.5 62.2 222.2 62.2 222.5 62.5 236.2 63.5 254.2 66.2 268.2 69.2 275.5 71.5 276.8 72.5 277.2 73.5 276.8 74.5 275.2 75.5 269.8 74.8 263.5 74.8 251.5 76.2 240.5 78.8 226.5 84.2 213.5 90.8 198.8 100.2 188.5 107.8 174.8 119.5 173.8 119.8Z"/>
<path fill-rule="evenodd" fill="#75fef1" d="M173.8 119.8 172.5 119.5 168.8 115.8 168.2 112.8 165.2 110.2 118.2 116.1 117.2 117.8 110.8 115.5 102.2 113.2 84.8 110.2 77.5 109.8 77.2 109.5 59.5 109.5 59.2 109.8 48.5 110.5 45.8 111.2 44.2 110.2 43.8 108.8 44.2 107.8 54.5 97.5 60.2 92.8 69.2 86.8 77.2 82.8 90.8 78.2 110.2 72.8 124.2 69.5 147.8 65.2 160.5 63.5 174.8 62.5 175.2 62.2 179.8 62.2 180.2 61.8 198.8 61.5 217.2 61.8 217.5 62.2 222.2 62.2 222.5 62.5 236.2 63.5 254.2 66.2 268.2 69.2 275.5 71.5 276.8 72.5 277.2 73.5 276.8 74.5 275.2 75.5 269.8 74.8 263.5 74.8 251.5 76.2 240.5 78.8 226.5 84.2 213.5 90.8 198.8 100.2 188.5 107.8 174.8 119.5 173.8 119.8Z"/>
<path fill-rule="evenodd" fill="#72fde3" d="M173.8 119.8 172.5 119.5 168.8 115.8 168.2 112.8 163.8 109.1 116.2 115.2 115.2 117 102.2 113.2 84.8 110.2 77.5 109.8 77.2 109.5 59.5 109.5 59.2 109.8 48.5 110.5 45.8 111.2 44.2 110.2 43.8 108.8 44.2 107.8 54.5 97.5 60.2 92.8 69.2 86.8 77.2 82.8 90.8 78.2 110.2 72.8 124.2 69.5 147.8 65.2 160.5 63.5 174.8 62.5 175.2 62.2 179.8 62.2 180.2 61.8 198.8 61.5 217.2 61.8 217.5 62.2 222.2 62.2 222.5 62.5 236.2 63.5 254.2 66.2 268.2 69.2 275.5 71.5 276.8 72.5 277.2 73.5 276.8 74.5 275.2 75.5 269.8 74.8 263.5 74.8 251.5 76.2 240.5 78.8 226.5 84.2 213.5 90.8 198.8 100.2 188.5 107.8 174.8 119.5 173.8 119.8Z"/>
<path fill-rule="evenodd" fill="#6ffcd5" d="M173.8 119.8 172.5 119.5 168.8 115.8 168.2 112.8 162.8 108.1 113.2 114.5 112.2 116.1 99.2 112.5 84.8 110.2 77.5 109.8 77.2 109.5 59.5 109.5 59.2 109.8 48.5 110.5 45.8 111.2 44.2 110.2 43.8 108.8 44.2 107.8 54.5 97.5 60.2 92.8 69.2 86.8 77.2 82.8 90.8 78.2 110.2 72.8 124.2 69.5 147.8 65.2 160.5 63.5 174.8 62.5 175.2 62.2 179.8 62.2 180.2 61.8 198.8 61.5 217.2 61.8 217.5 62.2 222.2 62.2 222.5 62.5 236.2 63.5 254.2 66.2 268.2 69.2 275.5 71.5 276.8 72.5 277.2 73.5 276.8 74.5 275.2 75.5 269.8 74.8 263.5 74.8 251.5 76.2 240.5 78.8 226.5 84.2 213.5 90.8 198.8 100.2 188.5 107.8 174.8 119.5 173.8 119.8Z"/>
<path fill-rule="evenodd" fill="#69fbc0" d="M173.8 119.8 172.5 119.5 168.6 115.5 168.2 112.8 162.5 107.5 161.5 107.1 111.2 113.6 110 115.5 99.2 112.5 84.8 110.2 77.5 109.8 77.2 109.5 59.5 109.5 59.2 109.8 48.5 110.5 45.8 111.2 44.2 110.2 43.8 108.8 44.2 107.8 54.5 97.5 60.2 92.8 69.2 86.8 77.2 82.8 90.8 78.2 110.2 72.8 124.2 69.5 147.8 65.2 160.5 63.5 174.8 62.5 175.2 62.2 179.8 62.2 180.2 61.8 198.8 61.5 217.2 61.8 217.5 62.2 222.2 62.2 222.5 62.5 236.2 63.5 254.2 66.2 268.2 69.2 275.5 71.5 276.8 72.5 277.2 73.5 276.8 74.5 275.2 75.5 269.8 74.8 263.5 74.8 251.5 76.2 240.5 78.8 226.5 84.2 213.5 90.8 198.8 100.2 188.5 107.8 174.8 119.5 173.8 119.8Z"/>
<path fill-rule="evenodd" fill="#62faa8" d="M173.8 119.8 172.5 119.5 168.8 115.8 168.2 112.8 160.5 106 108.4 112.8 107.6 114.8 102.2 113.2 94.2 111.5 81.5 109.8 59.5 109.5 59.2 109.8 48.5 110.5 45.8 111.2 44.2 110.2 43.8 108.8 44.2 107.8 54.5 97.5 60.2 92.8 69.2 86.8 77.2 82.8 90.8 78.2 110.2 72.8 124.2 69.5 147.8 65.2 160.5 63.5 174.8 62.5 175.2 62.2 179.8 62.2 180.2 61.8 198.8 61.5 217.2 61.8 217.5 62.2 222.2 62.2 222.5 62.5 236.2 63.5 254.2 66.2 268.2 69.2 275.5 71.5 276.8 72.5 277.2 73.5 276.8 74.5 275.2 75.5 269.8 74.8 263.5 74.8 251.5 76.2 240.5 78.8 226.5 84.2 213.5 90.8 198.8 100.2 188.5 107.8 174.8 119.5 173.8 119.8Z"/>
<path fill-rule="evenodd" fill="#5cf891" d="M173.8 119.8 172.5 119.5 168.8 115.8 168.2 112.8 159.8 105.2 159.2 105 105.2 112.2 104.2 113.8 92.2 111.2 77.2 109.5 59.5 109.5 59.2 109.8 48.5 110.5 45.8 111.2 44.2 110.2 43.8 108.8 44.2 107.8 54.5 97.5 60.2 92.8 69.2 86.8 77.2 82.8 90.8 78.2 110.2 72.8 124.2 69.5 147.8 65.2 160.5 63.5 174.8 62.5 175.2 62.2 179.8 62.2 180.2 61.8 198.8 61.5 217.2 61.8 217.5 62.2 222.2 62.2 222.5 62.5 236.2 63.5 254.2 66.2 268.2 69.2 275.5 71.5 276.8 72.5 277.2 73.5 276.8 74.5 275.2 75.5 269.8 74.8 263.5 74.8 251.5 76.2 240.5 78.8 226.5 84.2 213.5 90.8 198.8 100.2 188.5 107.8 174.8 119.5 173.8 119.8Z"/>
<path fill-rule="evenodd" fill="#55f779" d="M173.8 119.8 172.5 119.5 168.8 115.8 168.3 112.8 158.2 103.9 130.2 107.4 102.5 111.4 101.4 113.2 92.2 111.2 77.2 109.5 59.5 109.5 59.2 109.8 48.5 110.5 45.8 111.2 44.2 110.2 43.8 108.8 44.2 107.8 54.5 97.5 60.2 92.8 69.2 86.8 77.2 82.8 90.8 78.2 110.2 72.8 124.2 69.5 147.8 65.2 160.5 63.5 174.8 62.5 175.2 62.2 179.8 62.2 180.2 61.8 198.8 61.5 217.2 61.8 217.5 62.2 222.2 62.2 222.5 62.5 236.2 63.5 254.2 66.2 268.2 69.2 275.5 71.5 276.8 72.5 277.2 73.5 276.8 74.5 275.2 75.5 269.8 74.8 263.5 74.8 251.5 76.2 240.5 78.8 226.5 84.2 213.5 90.8 198.8 100.2 188.5 107.8 174.8 119.5 173.8 119.8Z"/>
<path fill-rule="evenodd" fill="#4ff762" d="M173.8 119.8 172.5 119.5 168.8 115.8 168.2 112.7 156.8 102.9 128.2 106.5 99.5 110.7 98.4 112.5 87.5 110.5 77.2 109.5 59.5 109.5 59.2 109.8 48.5 110.5 45.8 111.2 44.2 110.2 43.8 108.8 44.2 107.8 54.5 97.5 60.2 92.8 69.2 86.8 77.2 82.8 90.8 78.2 110.2 72.8 124.2 69.5 147.8 65.2 160.5 63.5 174.8 62.5 175.2 62.2 179.8 62.2 180.2 61.8 198.8 61.5 217.2 61.8 217.5 62.2 222.2 62.2 222.5 62.5 236.2 63.5 254.2 66.2 268.2 69.2 275.5 71.5 276.8 72.5 277.2 73.5 276.8 74.5 275.2 75.5 269.8 74.8 263.5 74.8 251.5 76.2 240.5 78.8 226.5 84.2 213.5 90.8 198.8 100.2 188.5 107.8 174.8 119.5 173.8 119.8Z"/>
<path fill-rule="evenodd" fill="#49f64b" d="M173.8 119.8 172.5 119.5 168.8 115.8 168.3 112.8 166.5 111.1 159.8 105.1 155.5 101.9 125.5 105.7 96.2 110 95.1 111.8 87.5 110.5 77.2 109.5 59.5 109.5 59.2 109.8 48.5 110.5 45.8 111.2 44.2 110.2 43.8 108.8 44.2 107.8 54.5 97.5 60.2 92.8 69.2 86.8 77.2 82.8 90.8 78.2 110.2 72.8 124.2 69.5 147.8 65.2 160.5 63.5 174.8 62.5 175.2 62.2 179.8 62.2 180.2 61.8 198.8 61.5 217.2 61.8 217.5 62.2 222.2 62.2 222.5 62.5 236.2 63.5 254.2 66.2 268.2 69.2 275.5 71.5 276.8 72.5 277.2 73.5 276.8 74.5 275.2 75.5 269.8 74.8 263.5 74.8 251.5 76.2 240.5 78.8 226.5 84.2 213.5 90.8 198.8 100.2 188.5 107.8 174.8 119.5 173.8 119.8Z"/>
<path fill-rule="evenodd" fill="#43f533" d="M173.8 119.8 172.5 119.5 168.8 115.8 168.3 112.8 166.5 111.1 154.5 100.9 124.5 104.6 94.8 109.1 92.5 109.5 91.5 111.2 76.5 109.5 59.5 109.5 59.2 109.8 48.5 110.5 45.8 111.2 44.2 110.2 43.8 108.8 44.2 107.8 54.5 97.5 60.2 92.8 69.2 86.8 77.2 82.8 90.8 78.2 110.2 72.8 124.2 69.5 147.8 65.2 160.5 63.5 174.8 62.5 175.2 62.2 179.8 62.2 180.2 61.8 198.8 61.5 217.2 61.8 217.5 62.2 222.2 62.2 222.5 62.5 236.2 63.5 254.2 66.2 268.2 69.2 275.5 71.5 276.8 72.5 277.2 73.5 276.8 74.5 275.2 75.5 269.8 74.8 263.5 74.8 251.5 76.2 240.5 78.8 226.5 84.2 213.5 90.8 198.8 100.2 188.5 107.8 174.8 119.5 173.8 119.8Z"/>
<path fill-rule="evenodd" fill="#3ef51e" d="M173.8 119.8 172.5 119.5 168.8 115.8 168.3 112.8 166.5 111.1 153.2 99.9 120.8 104 89.2 108.8 88.9 110.8 77.2 109.5 59.5 109.5 59.2 109.8 48.5 110.5 45.8 111.2 44.2 110.2 43.8 108.8 44.2 107.8 54.5 97.5 60.2 92.8 69.2 86.8 77.2 82.8 90.8 78.2 110.2 72.8 124.2 69.5 147.8 65.2 160.5 63.5 174.8 62.5 175.2 62.2 179.8 62.2 180.2 61.8 198.8 61.5 217.2 61.8 217.5 62.2 222.2 62.2 222.5 62.5 236.2 63.5 254.2 66.2 268.2 69.2 275.5 71.5 276.8 72.5 277.2 73.5 276.8 74.5 275.2 75.5 269.8 74.8 263.5 74.8 251.5 76.2 240.5 78.8 226.5 84.2 213.5 90.8 198.8 100.2 188.5 107.8 174.8 119.5 173.8 119.8Z"/>
<path fill-rule="evenodd" fill="#3df519" d="M173.8 119.8 172.5 119.5 168.8 115.8 168.3 112.8 166.5 111 159.8 105.1 151.8 98.8 121.2 102.7 90.8 107.4 85.2 108.3 84.1 110.2 77.2 109.5 59.5 109.5 59.2 109.8 48.5 110.5 45.8 111.2 44.2 110.2 43.8 108.8 44.2 107.8 54.5 97.5 60.2 92.8 69.2 86.8 77.2 82.8 90.8 78.2 110.2 72.8 124.2 69.5 147.8 65.2 160.5 63.5 174.8 62.5 175.2 62.2 179.8 62.2 180.2 61.8 198.8 61.5 217.2 61.8 217.5 62.2 222.2 62.2 222.5 62.5 236.2 63.5 254.2 66.2 268.2 69.2 275.5 71.5 276.8 72.5 277.2 73.5 276.8 74.5 275.2 75.5 269.8 74.8 263.5 74.8 251.5 76.2 240.5 78.8 226.5 84.2 213.5 90.8 198.8 100.2 188.5 107.8 174.8 119.5 173.8 119.8Z"/>
<path fill-rule="evenodd" fill="#3df514" d="M173.8 119.8 172.5 119.5 168.8 115.8 168.3 112.8 166.5 111 157.8 103.4 150.5 97.8 117.8 102 86.2 107 81.3 107.8 80.6 109.8 59.5 109.5 59.2 109.8 48.5 110.5 45.8 111.2 44.2 110.2 43.8 108.8 44.2 107.8 54.5 97.5 60.2 92.8 69.2 86.8 77.2 82.8 90.8 78.2 110.2 72.8 124.2 69.5 147.8 65.2 160.5 63.5 174.8 62.5 175.2 62.2 179.8 62.2 180.2 61.8 198.8 61.5 217.2 61.8 217.5 62.2 222.2 62.2 222.5 62.5 236.2 63.5 254.2 66.2 268.2 69.2 275.5 71.5 276.8 72.5 277.2 73.5 276.8 74.5 275.2 75.5 269.8 74.8 263.5 74.8 251.5 76.2 240.5 78.8 226.5 84.2 213.5 90.8 198.8 100.2 188.5 107.8 174.8 119.5 173.8 119.8Z"/>
<path fill-rule="evenodd" fill="#3cf50f" d="M173.8 119.8 172.5 119.5 168.8 115.8 168.3 112.8 166.5 111 157.8 103.4 149.2 96.8 116.5 101 84.5 106.1 76.6 107.5 76.2 109.5 59.5 109.5 59.2 109.8 48.5 110.5 45.8 111.2 44.2 110.2 43.8 108.8 44.2 107.8 54.5 97.5 60.2 92.8 69.2 86.8 77.2 82.8 90.8 78.2 110.2 72.8 124.2 69.5 147.8 65.2 160.5 63.5 174.8 62.5 175.2 62.2 179.8 62.2 180.2 61.8 198.8 61.5 217.2 61.8 217.5 62.2 222.2 62.2 222.5 62.5 236.2 63.5 254.2 66.2 268.2 69.2 275.5 71.5 276.8 72.5 277.2 73.5 276.8 74.5 275.2 75.5 269.8 74.8 263.5 74.8 251.5 76.2 240.5 78.8 226.5 84.2 213.5 90.8 198.8 100.2 188.5 107.8 174.8 119.5 173.8 119.8Z"/>
<path fill-rule="evenodd" fill="#43f510" d="M173.8 119.8 172.5 119.5 168.8 115.8 168.3 112.8 166.5 111 157.8 103.4 147.5 95.9 113.8 100.3 81.5 105.5 70.3 107.5 70.3 109.5 59.5 109.5 59.2 109.8 48.5 110.5 45.8 111.2 44.2 110.2 43.8 108.8 44.2 107.8 54.5 97.5 60.2 92.8 69.2 86.8 77.2 82.8 90.8 78.2 110.2 72.8 124.2 69.5 147.8 65.2 160.5 63.5 174.8 62.5 175.2 62.2 179.8 62.2 180.2 61.8 198.8 61.5 217.2 61.8 217.5 62.2 222.2 62.2 222.5 62.5 236.2 63.5 254.2 66.2 268.2 69.2 275.5 71.5 276.8 72.5 277.2 73.5 276.8 74.5 275.2 75.5 269.8 74.8 263.5 74.8 251.5 76.2 240.5 78.8 226.5 84.2 213.5 90.8 198.8 100.2 188.5 107.8 174.8 119.5 173.8 119.8Z"/>
<path fill-rule="evenodd" fill="#4bf612" d="M173.8 119.8 172.5 119.5 168.8 115.8 168.3 112.8 162.5 107.4 154.5 100.8 146.2 94.8 112.5 99.3 79.8 104.6 64.3 107.5 64.3 109.5 54.8 109.8 45.8 111.2 44.2 110.2 43.8 108.8 44.2 107.8 54.5 97.5 60.2 92.8 69.2 86.8 77.2 82.8 90.8 78.2 110.2 72.8 124.2 69.5 147.8 65.2 160.5 63.5 174.8 62.5 175.2 62.2 179.8 62.2 180.2 61.8 198.8 61.5 217.2 61.8 217.5 62.2 222.2 62.2 222.5 62.5 236.2 63.5 254.2 66.2 268.2 69.2 275.5 71.5 276.8 72.5 277.2 73.5 276.8 74.5 275.2 75.5 269.8 74.8 263.5 74.8 251.5 76.2 240.5 78.8 226.5 84.2 213.5 90.8 198.8 100.2 188.5 107.8 174.8 119.5 173.8 119.8Z"/>
<path fill-rule="evenodd" fill="#53f613" d="M173.8 119.8 172.5 119.5 168.8 115.8 168.4 112.8 162.5 107.4 154.5 100.7 144.5 93.9 110.2 98.4 77.5 103.8 56.9 107.8 56.9 109.8 48.5 110.5 45.8 111.2 44.2 110.2 43.8 108.8 44.2 107.8 54.5 97.5 60.2 92.8 69.2 86.8 77.2 82.8 90.8 78.2 110.2 72.8 124.2 69.5 147.8 65.2 160.5 63.5 174.8 62.5 175.2 62.2 179.8 62.2 180.2 61.8 198.8 61.5 217.2 61.8 217.5 62.2 222.2 62.2 222.5 62.5 236.2 63.5 254.2 66.2 268.2 69.2 275.5 71.5 276.8 72.5 277.2 73.5 276.8 74.5 275.2 75.5 269.8 74.8 263.5 74.8 251.5 76.2 240.5 78.8 226.5 84.2 213.5 90.8 198.8 100.2 188.5 107.8 174.8 119.5 173.8 119.8Z"/>
<path fill-rule="evenodd" fill="#5df616" d="M173.8 119.8 172.5 119.5 168.8 115.8 168.4 112.8 162.5 107.3 154.5 100.7 143.2 92.9 110.5 97.2 79.2 102.4 47 108.8 46.8 110.3 46.2 109.1 43.8 108.8 44.2 107.8 54.5 97.5 60.2 92.8 69.2 86.8 77.2 82.8 90.8 78.2 110.2 72.8 124.2 69.5 147.8 65.2 160.5 63.5 174.8 62.5 175.2 62.2 179.8 62.2 180.2 61.8 198.8 61.5 217.2 61.8 217.5 62.2 222.2 62.2 222.5 62.5 236.2 63.5 254.2 66.2 268.2 69.2 275.5 71.5 276.8 72.5 277.2 73.5 276.8 74.5 275.2 75.5 269.8 74.8 263.5 74.8 251.5 76.2 240.5 78.8 226.5 84.2 213.5 90.8 198.8 100.2 188.5 107.8 174.8 119.5 173.8 119.8Z"/>
<path fill-rule="evenodd" fill="#68f719" d="M173.8 119.8 172.5 119.5 168.8 115.8 168.4 112.8 159.8 105 149.2 96.8 141.5 91.9 92.2 98.9 68.8 103.2 47.2 107.7 45.8 106.2 54.5 97.5 61.5 91.8 69.2 86.8 77.2 82.8 90.8 78.2 110.2 72.8 124.2 69.5 147.8 65.2 160.5 63.5 174.8 62.5 175.2 62.2 179.8 62.2 180.2 61.8 198.8 61.5 217.2 61.8 217.5 62.2 222.2 62.2 222.5 62.5 236.2 63.5 254.2 66.2 268.2 69.2 275.5 71.5 276.8 72.5 277.2 73.5 276.8 74.5 275.2 75.5 269.8 74.8 263.5 74.8 251.5 76.2 240.5 78.8 226.5 84.2 213.5 90.8 198.8 100.2 188.5 107.8 174.8 119.5 173.8 119.8Z"/>
<path fill-rule="evenodd" fill="#73f81c" d="M173.8 119.8 172.5 119.5 168.8 115.8 168.4 112.8 159.8 105 149.2 96.7 139.8 90.9 91.8 97.8 69.5 101.9 48.5 106.3 47.2 104.8 54.5 97.5 63.8 90.2 71.5 85.5 80.5 81.5 101.2 75.2 118.2 70.8 135.8 67.2 152.5 64.5 170.8 62.5 187.2 61.8 187.5 61.5 217.2 61.8 217.5 62.2 222.2 62.2 222.5 62.5 236.2 63.5 254.2 66.2 268.2 69.2 275.5 71.5 276.8 72.5 277.2 73.5 276.8 74.5 275.2 75.5 269.8 74.8 263.5 74.8 251.5 76.2 240.5 78.8 226.5 84.2 213.5 90.8 198.8 100.2 188.5 107.8 174.8 119.5 173.8 119.8Z"/>
<path fill-rule="evenodd" fill="#7ef820" d="M173.8 119.8 172.5 119.5 168.8 115.8 168.4 112.8 159.8 105 149.2 96.7 143.2 92.8 137.8 90 91.5 96.7 49.8 104.9 48.5 103.5 54.5 97.5 63.8 90.2 71.5 85.5 80.5 81.5 101.2 75.2 118.2 70.8 135.8 67.2 152.5 64.5 170.8 62.5 187.2 61.8 187.5 61.5 217.2 61.8 217.5 62.2 222.2 62.2 222.5 62.5 236.2 63.5 254.2 66.2 268.2 69.2 275.5 71.5 276.8 72.5 277.2 73.5 276.8 74.5 275.2 75.5 269.8 74.8 263.5 74.8 251.5 76.2 240.5 78.8 226.5 84.2 213.5 90.8 198.8 100.2 188.5 107.8 174.8 119.5 173.8 119.8Z"/>
<path fill-rule="evenodd" fill="#8bf923" d="M173.8 119.8 172.5 119.5 168.8 115.8 168.4 112.8 157.8 103.3 145.2 94.1 136.2 89.1 91.5 95.6 51.2 103.5 49.8 102.2 56.8 95.5 63.8 90.2 71.5 85.5 80.5 81.5 101.2 75.2 118.2 70.8 135.8 67.2 152.5 64.5 170.8 62.5 187.2 61.8 187.5 61.5 217.2 61.8 217.5 62.2 222.2 62.2 222.5 62.5 236.2 63.5 254.2 66.2 268.2 69.2 275.5 71.5 276.8 72.5 277.2 73.5 276.8 74.5 275.2 75.5 269.8 74.8 263.5 74.8 251.5 76.2 240.5 78.8 226.5 84.2 213.5 90.8 198.8 100.2 188.5 107.8 174.8 119.5 173.8 119.8Z"/>
<path fill-rule="evenodd" fill="#97fa26" d="M173.8 119.8 172.5 119.5 168.8 115.8 168.4 112.8 157.8 103.3 146.2 94.7 134.8 88.2 92.5 94.3 52.8 102.1 51.5 100.5 56.8 95.5 65.8 88.8 74.8 83.8 80.5 81.5 101.2 75.2 118.2 70.8 141.5 66.2 160.5 63.5 174.8 62.5 175.2 62.2 179.8 62.2 180.2 61.8 187.2 61.8 187.5 61.5 209.8 61.5 210.2 61.8 226.5 62.5 241.5 64.2 257.8 66.8 270.5 69.8 275.5 71.5 276.8 72.5 277.2 73.5 276.8 74.5 275.2 75.5 269.8 74.8 263.5 74.8 251.5 76.2 240.5 78.8 226.5 84.2 213.5 90.8 198.8 100.2 188.5 107.8 174.8 119.5 173.8 119.8Z"/>
<path fill-rule="evenodd" fill="#a5fa29" d="M173.8 119.8 172.5 119.5 168.8 115.8 168.4 112.8 157.8 103.3 143.2 92.7 132.8 87.2 91.2 93.4 54.2 100.7 52.8 99.2 60.2 92.8 69.2 86.8 74.8 83.8 85.5 79.8 104.8 74.2 124.2 69.5 141.5 66.2 160.5 63.5 174.8 62.5 175.2 62.2 179.8 62.2 180.2 61.8 187.2 61.8 187.5 61.5 209.8 61.5 210.2 61.8 226.5 62.5 241.5 64.2 257.8 66.8 270.5 69.8 275.5 71.5 276.8 72.5 277.2 73.5 276.8 74.5 275.2 75.5 269.8 74.8 263.5 74.8 251.5 76.2 240.5 78.8 226.5 84.2 213.5 90.8 198.8 100.2 188.5 107.8 174.8 119.5 173.8 119.8Z"/>
<path fill-rule="evenodd" fill="#b4fa2c" d="M173.8 119.8 172.5 119.5 168.8 115.8 168.4 112.8 166.5 110.9 154.5 100.6 143.2 92.7 130.8 86.3 91.2 92.3 55.5 99.4 54.2 97.8 61.5 91.8 69.2 86.8 74.8 83.8 85.5 79.8 104.8 74.2 124.2 69.5 141.5 66.2 160.5 63.5 174.8 62.5 175.2 62.2 179.8 62.2 180.2 61.8 187.2 61.8 187.5 61.5 209.8 61.5 210.2 61.8 226.5 62.5 241.5 64.2 257.8 66.8 270.5 69.8 275.5 71.5 276.8 72.5 277.2 73.5 276.8 74.5 275.2 75.5 269.8 74.8 263.5 74.8 251.5 76.2 240.5 78.8 226.5 84.2 213.5 90.8 198.8 100.2 188.5 107.8 174.8 119.5 173.8 119.8Z"/>
<path fill-rule="evenodd" fill="#c4fa2f" d="M173.8 119.8 172.5 119.5 168.8 115.8 168.4 112.8 166.5 110.9 154.5 100.6 143.2 92.7 137.5 89.4 129.2 85.5 92.5 90.9 57.2 98 55.8 96.5 63.8 90.2 71.5 85.5 77.2 82.8 85.5 79.8 104.8 74.2 124.2 69.5 141.5 66.2 160.5 63.5 174.8 62.5 175.2 62.2 179.8 62.2 180.2 61.8 187.2 61.8 187.5 61.5 209.8 61.5 210.2 61.8 226.5 62.5 241.5 64.2 257.8 66.8 270.5 69.8 275.5 71.5 276.8 72.5 277.2 73.5 276.8 74.5 275.2 75.5 269.8 74.8 263.5 74.8 251.5 76.2 240.5 78.8 226.5 84.2 213.5 90.8 198.8 100.2 188.5 107.8 174.8 119.5 173.8 119.8Z"/>
<path fill-rule="evenodd" fill="#d3fa32" d="M173.8 119.8 172.5 119.5 168.8 115.8 168.5 112.8 166.5 110.9 154.5 100.6 149.2 96.7 139.8 90.7 126.8 84.5 90.5 90.2 58.8 96.6 57.5 95.2 63.8 90.2 71.5 85.5 80.5 81.5 90.8 78.2 104.8 74.2 124.2 69.5 141.5 66.2 160.5 63.5 174.8 62.5 175.2 62.2 179.8 62.2 180.2 61.8 187.2 61.8 187.5 61.5 209.8 61.5 210.2 61.8 226.5 62.5 241.5 64.2 257.8 66.8 270.5 69.8 275.5 71.5 276.8 72.5 277.2 73.5 276.8 74.5 275.2 75.5 269.8 74.8 263.5 74.8 251.5 76.2 240.5 78.8 226.5 84.2 213.5 90.8 198.8 100.2 188.5 107.8 174.8 119.5 173.8 119.8Z"/>
<path fill-rule="evenodd" fill="#e0fa34" d="M173.8 119.8 172.5 119.5 168.8 115.8 168.5 112.8 166.5 110.9 157.8 103.3 149.2 96.6 137.5 89.4 130.8 86.1 124.8 83.8 91.9 88.8 60.5 95.2 59.2 93.8 65.8 88.8 74.8 83.8 80.5 81.5 94.2 77.2 118.2 70.8 135.8 67.2 152.5 64.5 167.2 62.8 179.8 62.2 180.2 61.8 187.2 61.8 187.5 61.5 209.8 61.5 210.2 61.8 226.5 62.5 241.5 64.2 257.8 66.8 270.5 69.8 275.5 71.5 276.8 72.5 277.2 73.5 276.8 74.5 275.2 75.5 269.8 74.8 263.5 74.8 251.5 76.2 240.5 78.8 226.5 84.2 213.5 90.8 198.8 100.2 188.5 107.8 174.8 119.5 173.8 119.8Z"/>
<path fill-rule="evenodd" fill="#ecfa36" d="M173.8 119.8 172.5 119.5 168.8 115.8 168.5 112.8 166.5 110.9 157.8 103.2 149.2 96.6 137.5 89.4 130.8 86.1 123.2 83.2 118.5 83.5 94.5 87.3 62.2 93.9 60.8 92.5 65.8 88.8 74.8 83.8 85.5 79.8 101.2 75.2 118.2 70.8 135.8 67.2 152.5 64.5 167.2 62.8 179.8 62.2 180.2 61.8 187.2 61.8 187.5 61.5 209.8 61.5 210.2 61.8 226.5 62.5 241.5 64.2 257.8 66.8 270.5 69.8 275.5 71.5 276.8 72.5 277.2 73.5 276.8 74.5 275.2 75.5 269.8 74.8 263.5 74.8 251.5 76.2 240.5 78.8 226.5 84.2 213.5 90.8 198.8 100.2 188.5 107.8 174.8 119.5 173.8 119.8Z"/>
<path fill-rule="evenodd" fill="#f1f037" d="M173.8 119.8 172.5 119.5 168.8 115.8 168.5 112.8 166.5 110.9 157.8 103.2 149.2 96.6 139.8 90.7 132.8 87 126.8 84.4 119.8 82.2 90.2 87 64.5 92.4 63.2 90.8 71.5 85.5 80.5 81.5 104.8 74.2 118.2 70.8 135.8 67.2 152.5 64.5 170.8 62.5 187.2 61.8 187.5 61.5 199.5 61.5 209.8 61.5 210.2 61.8 226.5 62.5 241.5 64.2 257.8 66.8 270.5 69.8 275.5 71.5 276.8 72.5 277.2 73.5 276.8 74.5 275.2 75.5 269.8 74.8 263.5 74.8 251.5 76.2 240.5 78.8 226.5 84.2 213.5 90.8 198.8 100.2 188.5 107.8 174.8 119.5 173.8 119.8Z"/>
<path fill-rule="evenodd" fill="#efde37" d="M169.8 116.7 168.8 115.8 168.5 112.8 166.5 110.9 157.8 103.2 149.2 96.6 139.8 90.6 130.8 86 124.2 83.4 117.5 81.5 90.8 85.9 66.5 91.1 66.2 90.8 65.8 91.2 64.5 89.8 71.5 85.5 80.5 81.5 104.8 74.2 118.2 70.8 135.8 67.2 152.5 64.5 170.8 62.5 187.2 61.8 187.5 61.5 199.5 61.5 209.8 61.5 210.2 61.8 226.5 62.5 241.5 64.2 257.8 66.8 270.5 69.8 275.5 71.5 276.8 72.5 277.2 73.5 276.8 74.5 275.2 75.5 269.8 74.8 263.5 74.8 253.5 75.8 242.8 78.2 231.2 82.2 216.5 89.2 205.8 95.5 191.5 105.5 178.8 115.8 177.2 114.7 171.2 115.4 169.8 116.7Z"/>
<path fill-rule="evenodd" fill="#edc935" d="M182.8 112.5 181.5 111.3 168.5 112.7 154.5 100.6 149.2 96.6 139.8 90.6 126.8 84.4 114.5 80.8 89.5 85.1 68.5 89.7 67.2 88.2 74.8 83.8 80.5 81.5 101.2 75.2 118.2 70.8 147.8 65.2 175.2 62.2 187.2 61.8 187.5 61.5 209.8 61.5 210.2 61.8 217.2 61.8 217.5 62.2 233.2 63.2 246.2 64.8 262.8 67.8 275.5 71.5 276.8 72.5 277.2 73.5 276.8 74.5 275.2 75.5 269.8 74.8 263.5 74.8 253.5 75.8 242.8 78.2 231.2 82.2 216.5 89.2 205.8 95.5 192.8 104.5 182.8 112.5Z"/>
<path fill-rule="evenodd" fill="#ecb333" d="M167.8 109.8 165.5 110.1 157.8 103.2 149.2 96.6 137.5 89.3 126.8 84.4 117.5 81.4 110.5 80.4 89.5 84.2 70.8 88.4 70.5 88.1 70.2 88.5 68.8 87.2 74.8 83.8 85.5 79.8 101.2 75.2 118.2 70.8 147.8 65.2 175.2 62.2 187.2 61.8 187.5 61.5 209.8 61.5 210.2 61.8 217.2 61.8 217.5 62.2 233.2 63.2 246.2 64.8 262.8 67.8 275.5 71.5 276.8 72.5 277.2 73.5 276.8 74.5 275.2 75.5 269.2 74.8 255.8 75.5 248.2 76.8 235.5 80.5 226.5 84.2 213.5 90.8 198.8 100.2 187.2 109.2 186.6 109.2 185.5 107.9 167.8 109.8Z"/>
<path fill-rule="evenodd" fill="#eda330" d="M164.8 107.2 162.2 107.2 157.8 103.2 149.2 96.6 137.5 89.3 126.8 84.3 117.5 81.4 107.8 79.9 88.6 83.5 73.2 87.1 72.8 86.8 72.5 87.2 71.2 85.8 80.5 81.5 90.8 78.2 104.8 74.2 124.2 69.5 152.5 64.5 180.2 61.8 209.8 61.5 210.2 61.8 217.2 61.8 217.5 62.2 222.2 62.2 222.5 62.5 236.2 63.5 262.8 67.8 275.5 71.5 276.8 72.5 277.2 73.5 276.8 74.5 275.2 75.5 269.8 74.8 263.5 74.8 251.5 76.2 240.5 78.8 232.8 81.5 226.5 84.2 213.5 90.8 198.8 100.2 191.8 105.5 189.8 104.4 164.8 107.2Z"/>
<path fill-rule="evenodd" fill="#ee962d" d="M161.2 104.5 159.2 104.5 149.2 96.5 137.5 89.3 126.8 84.3 117.5 81.4 107.8 79.8 102.8 79.8 75.8 85.7 75.5 85.5 75.2 85.9 74 84.5 80.5 81.5 94.2 77.2 124.2 69.5 152.5 64.5 180.2 61.8 209.8 61.5 210.2 61.8 217.2 61.8 217.5 62.2 222.2 62.2 222.5 62.5 236.2 63.5 262.8 67.8 275.5 71.5 276.8 72.5 277.2 73.5 276.8 74.5 275.2 75.5 269.2 74.8 255.8 75.5 248.2 76.8 235.5 80.5 226.5 84.2 216.5 89.2 205.8 95.5 196.2 102.2 194.8 100.9 161.2 104.5Z"/>
<path fill-rule="evenodd" fill="#ef892a" d="M156.8 101.9 155.8 101.8 149.2 96.5 137.5 89.2 126.8 84.3 117.5 81.4 107.8 79.8 98.3 79.8 79.2 84.3 78.5 83.8 78.2 84.6 77 83.2 80.5 81.5 94.2 77.2 124.2 69.5 152.5 64.5 180.2 61.8 209.8 61.5 210.2 61.8 217.2 61.8 217.5 62.2 222.2 62.2 222.5 62.5 236.2 63.5 254.2 66.2 268.2 69.2 271.5 70.2 271.3 72.2 273.2 73.2 273.2 75.2 263.5 74.8 263.2 75.2 255.8 75.5 248.2 76.8 235.5 80.5 226.5 84.2 216.5 89.2 205.8 95.5 202.2 98.2 200.2 97.2 178.8 99.8 156.8 101.9Z"/>
<path fill-rule="evenodd" fill="#f17a26" d="M156.2 98.9 152.5 99.1 143.2 92.5 137.5 89.2 126.8 84.3 117.5 81.3 107.8 79.7 97.5 79.8 93.5 80.2 84.5 82.4 84.2 82.2 82.5 83 81.8 82.4 81.5 83.3 80.3 81.8 85.5 79.8 101.2 75.2 124.2 69.5 152.5 64.5 180.2 61.8 209.8 61.5 210.2 61.8 217.2 61.8 217.5 62.2 222.2 62.2 222.5 62.5 236.2 63.5 261.1 67.5 261.1 69.5 262.2 68.2 262.5 69.8 263.2 70 263.6 69.5 263.6 70.2 267 71.5 268.8 72.8 268.8 74.8 258.8 75.2 251.5 76.2 242.8 78.2 235.5 80.5 226.5 84.2 216.5 89.2 207.8 94.5 207.3 94.5 206.2 93.3 181.2 96.5 156.2 98.9Z"/>
<path fill-rule="evenodd" fill="#f36b22" d="M150.2 96.2 147.8 95.8 139.8 90.5 130.8 85.9 124.2 83.3 117.5 81.3 107.8 79.7 96.2 79.7 89.5 81 88.2 80.4 87.8 81.3 86.9 80.5 86.8 79.5 104.8 74.2 118.2 70.8 135.8 67.2 160.5 63.5 174.8 62.5 175.2 62.2 179.8 62.2 180.2 61.8 187.2 61.8 187.5 61.5 209.8 61.5 210.2 61.8 222.2 62.2 238.8 63.8 254.2 66.2 255.7 66.5 255.7 68.5 256.3 68.5 256.8 67.3 257 68.8 262.4 71.2 264.2 74.5 263.2 75.2 258.8 75.2 251.5 76.2 240.5 78.8 226.5 84.2 213.8 90.8 212.5 89.2 182.2 93.3 150.2 96.2ZM85.5 81.9 84.6 81.2 84.5 80.2 85.7 79.8 85.5 81.9Z"/>
<path fill-rule="evenodd" fill="#f55b1f" d="M147.2 93.2 143.8 93.2 137.5 89.2 130.8 85.9 124.2 83.2 117.5 81.3 107.8 79.6 96.2 79.6 89.2 80.9 88.1 80.2 87.8 79.2 89.8 78.7 90 79.5 90.8 80.2 90.9 78.2 94.2 77.2 118.2 70.8 135.8 67.2 160.5 63.5 174.8 62.5 175.2 62.2 179.8 62.2 180.2 61.8 187.2 61.8 187.5 61.5 217.2 61.8 243.8 64.5 246.1 64.8 246.2 66.8 247.2 65.2 248 65.2 248.2 67.2 249.6 65.5 249.6 67.5 250.5 67.7 250.8 67.1 251 67.8 254.7 69.2 256.2 70.2 256.9 71.5 256 73.5 256.5 75.5 248.2 76.8 240.5 78.8 231.2 82.2 223.5 85.8 223 85.8 222.3 84.5 221.8 84.4 204.8 87.3 186.2 89.8 147.2 93.2Z"/>
<path fill-rule="evenodd" fill="#f84b1b" d="M141.8 90.2 138.8 90.2 126.8 84.2 114.5 80.6 107.8 79.6 96.2 79.6 92.3 80.2 95.2 78.7 95.8 78.8 95.8 78.1 96.8 78.5 96.8 76.5 97.8 76.3 98.8 77.8 98.9 75.8 124.2 69.5 152.5 64.5 180.2 61.8 209.8 61.5 210.2 61.8 217.2 61.8 217.5 62.2 222.2 62.2 222.5 62.5 236.2 63.5 240.9 64.2 240.9 66.2 241.8 66.4 242.7 65.2 242.7 66.5 247.9 68.2 249.3 69.2 249.8 70.2 249.4 71.5 247.8 72.9 241.2 76 230.3 79.2 216.2 82.2 199.2 84.9 180.5 87.3 160.8 89.1 141.8 90.2Z"/>
<path fill-rule="evenodd" fill="#fa3c17" d="M139.8 86.8 132.5 86.8 124.2 83.2 114.5 80.5 107.8 79.5 97.7 79.5 103.5 76.5 105.4 76.2 105.5 75.5 106.5 75.8 106.5 74.1 106.5 74.8 107.6 75.5 107.7 73.5 118.2 70.8 147.8 65.2 175.2 62.2 187.2 61.8 187.5 61.5 209.8 61.5 210.2 61.8 226.5 62.5 232.4 63.2 232.4 65.2 233.5 65.4 234.5 64.2 234.5 65.5 239.4 66.8 241.2 67.8 241.9 68.8 241.5 70.2 240 71.5 234.1 74.2 223.5 77.1 209.8 79.9 193.5 82.4 175.7 84.5 157.5 86 139.8 86.8Z"/>
<path fill-rule="evenodd" fill="#fc2f13" d="M143.5 83.2 123.5 83 114.5 80.5 106.6 79.5 106.4 78.5 107.5 77.2 109.7 75.8 115.1 73.8 115.1 73.5 115.5 73.7 116.2 73.2 117.4 73.2 117.5 72.5 118.2 73 118.6 72.8 118.8 70.9 119.8 72.5 120.2 70.6 120.4 71.5 121.3 72.2 121.3 70.2 147.8 65.2 170.8 62.5 187.2 61.8 187.5 61.5 209.8 61.5 210.2 61.8 221.3 62.2 221.3 64.2 222.5 64.3 223.4 62.5 224.1 62.5 224.1 64.5 230.2 65.8 232.2 66.8 232.8 67.8 232.5 68.8 230.9 70.2 225.4 72.5 216.2 75 204.2 77.4 174.5 81.2 143.5 83.2Z"/>
<path fill-rule="evenodd" fill="#fd2711" d="M150.8 79.2 137.2 79.3 126.8 78.6 120.5 77.3 119 76.5 118.6 75.5 119.7 74.2 122.4 72.8 128.7 70.8 128.7 70.5 130.1 70.5 130.2 69.8 130.8 70.4 131.4 70.2 131.5 68.5 131.5 69.2 132.5 70 132.9 69.8 133.2 68.1 133.3 68.8 134.5 69.5 134.5 67.5 135.8 69.3 136.1 67.2 137.8 66.8 140.5 66.5 141.5 68.2 141.6 66.2 170.8 62.5 187.2 61.8 187.5 61.5 207.3 61.5 207.3 63.5 210.2 63.7 211.1 61.8 212.1 61.8 212.1 63.8 219.7 65.2 221.2 65.8 221.9 66.8 220.7 68.5 216.2 70.5 199.5 74.4 175.8 77.5 150.8 79.2Z"/>
<path fill-rule="evenodd" fill="#fe2210" d="M154.5 74.8 139.5 74.3 135.5 73.4 134.5 72.8 134.2 72.2 135.8 70.8 139.3 69.5 149.8 67.2 149.8 66.8 150.2 67.1 151.8 66.8 151.8 66.2 152.5 66.8 154 66.5 154 64.8 155.2 66.4 156.3 66.2 156.3 64.2 157.8 66 158.7 65.8 158.7 63.8 159.6 64.2 159.6 64.8 160.5 65.7 161.4 65.5 161.4 63.5 162.7 63.5 163.7 65.2 164.4 65.2 164.4 63.2 166 63.2 167.2 64.9 167.7 64.8 167.7 62.8 169.7 62.8 170.8 64.6 171.5 64.5 171.5 62.5 174 62.5 175.2 64.3 176 64.2 176 62.2 179 62.2 180.2 64 182.2 63.8 182.2 61.8 186.3 61.8 187.5 63.7 202.1 64.2 206.6 65.2 207.6 66.2 206.4 67.5 203.1 68.8 190.5 71.6 172.5 73.8 154.5 74.8Z"/>
</g>
<path fill="none" stroke="#000" stroke-width="0.9" d="M157.7 126.5 143.7 128.3M163.7 118.5 132.7 122.4M166.8 110.8 119.6 116.8M159.3 104.3 131.4 107.7 103.2 111.7M151.2 97.8 115.5 102.4 80.2 108M141.9 91.4 116.4 94.7 92.2 98.5 69 102.7 47.3 107.2M130 85.5 91 91.4 56.4 98.3M114.9 80.6 89.8 84.9 68.1 89.7M167.6 112.2 182.3 110.6M259.2 73.4 259.5 71.7 258.4 70.3 255.7 68.9 251.2 67.7M250.4 67.5 250 67.4M248.6 67.2 248.2 67.1M85.8 81.8 85.8 81.8M145.8 94.5 163.6 93.3 182.8 91.4 201.5 89 218.2 86.4"/>
<line x1="48.5" y1="178.7" x2="41.5" y2="20.3" stroke="#333" stroke-width="0.9"/>
<line x1="44.7" y1="152.3" x2="47.4" y2="152.3" stroke="#333" stroke-width="0.9"/>
<text transform="matrix(0.740 -0.246 -0.000 1.000 42.8 156.5)" font-size="12" text-anchor="end">0.0</text>
<line x1="43.1" y1="116" x2="45.8" y2="116" stroke="#333" stroke-width="0.9"/>
<text transform="matrix(0.751 -0.212 -0.000 1.000 41.2 120.2)" font-size="12" text-anchor="end">0.1</text>
<line x1="41.4" y1="78.6" x2="44.1" y2="78.6" stroke="#333" stroke-width="0.9"/>
<text transform="matrix(0.760 -0.176 -0.000 1.000 39.5 82.8)" font-size="12" text-anchor="end">0.2</text>
<line x1="39.7" y1="40.1" x2="42.4" y2="40.1" stroke="#333" stroke-width="0.9"/>
<text transform="matrix(0.768 -0.139 -0.000 1.000 37.8 44.3)" font-size="12" text-anchor="end">0.3</text>
<line x1="48.5" y1="178.7" x2="43.7" y2="180.4" stroke="#333" stroke-width="0.8"/>
<text transform="matrix(0.846 -0.432 0.275 0.479 42.5 180.9)" font-size="11" text-anchor="end" dy="3">4</text>
<line x1="76.3" y1="188.3" x2="71.5" y2="190.2" stroke="#333" stroke-width="0.8"/>
<text transform="matrix(0.846 -0.432 0.275 0.479 70.2 190.7)" font-size="11" text-anchor="end" dy="3">8</text>
<line x1="106.2" y1="198.7" x2="101.3" y2="200.7" stroke="#333" stroke-width="0.8"/>
<text transform="matrix(0.846 -0.432 0.275 0.479 100.1 201.3)" font-size="11" text-anchor="end" dy="3">12</text>
<line x1="138.3" y1="209.8" x2="133.5" y2="212.1" stroke="#333" stroke-width="0.8"/>
<text transform="matrix(0.846 -0.432 0.275 0.479 132.3 212.6)" font-size="11" text-anchor="end" dy="3">16</text>
<line x1="173.1" y1="221.9" x2="168.3" y2="224.3" stroke="#333" stroke-width="0.8"/>
<text transform="matrix(0.846 -0.432 0.275 0.479 167.1 224.9)" font-size="11" text-anchor="end" dy="3">20</text>
<line x1="173.1" y1="221.9" x2="178.1" y2="223.7" stroke="#333" stroke-width="0.8"/>
<text transform="matrix(0.897 0.312 0.225 0.445 177.4 223.4)" font-size="11" text-anchor="start" dy="2.6">1</text>
<line x1="201" y1="207.6" x2="206" y2="209.3" stroke="#333" stroke-width="0.8"/>
<text transform="matrix(0.897 0.312 0.225 0.445 205.3 209)" font-size="11" text-anchor="start" dy="2.6">2</text>
<line x1="226.5" y1="194.6" x2="231.4" y2="196.1" stroke="#333" stroke-width="0.8"/>
<text transform="matrix(0.897 0.312 0.225 0.445 230.7 195.9)" font-size="11" text-anchor="start" dy="2.6">3</text>
<line x1="249.9" y1="182.7" x2="254.8" y2="184" stroke="#333" stroke-width="0.8"/>
<text transform="matrix(0.897 0.312 0.225 0.445 254.1 183.8)" font-size="11" text-anchor="start" dy="2.6">4</text>
<line x1="271.5" y1="171.6" x2="276.2" y2="172.9" stroke="#333" stroke-width="0.8"/>
<text transform="matrix(0.897 0.312 0.225 0.445 275.6 172.7)" font-size="11" text-anchor="start" dy="2.6">5</text>
<text transform="matrix(0.945 0.328 -0.310 0.539 85 209)" font-size="13.5" text-anchor="middle" dy="4.3">BTA (g/L)</text>
<text transform="matrix(0.891 -0.455 0.525 0.532 242.6 202.6)" font-size="10.92" text-anchor="middle" dy="3.6">Sulfosalicylic acid (g/L)</text>
<defs><linearGradient id="cbA" x1="0" y1="0" x2="0" y2="1"><stop offset="0.000" stop-color="#ff1e0f"/><stop offset="0.025" stop-color="#fe2110"/><stop offset="0.050" stop-color="#fd2811"/><stop offset="0.075" stop-color="#fa3715"/><stop offset="0.100" stop-color="#f7501c"/><stop offset="0.125" stop-color="#f46922"/><stop offset="0.150" stop-color="#f08228"/><stop offset="0.175" stop-color="#ee972d"/><stop offset="0.200" stop-color="#ecac32"/><stop offset="0.225" stop-color="#eed036"/><stop offset="0.250" stop-color="#f1ee37"/><stop offset="0.275" stop-color="#e6fa35"/><stop offset="0.300" stop-color="#d2fa32"/><stop offset="0.325" stop-color="#b9fa2d"/><stop offset="0.350" stop-color="#a0fa28"/><stop offset="0.375" stop-color="#8cf923"/><stop offset="0.400" stop-color="#78f81e"/><stop offset="0.425" stop-color="#66f719"/><stop offset="0.450" stop-color="#55f614"/><stop offset="0.475" stop-color="#48f611"/><stop offset="0.500" stop-color="#3cf50e"/><stop offset="0.525" stop-color="#3df516"/><stop offset="0.550" stop-color="#3ef51e"/><stop offset="0.575" stop-color="#48f643"/><stop offset="0.600" stop-color="#51f769"/><stop offset="0.625" stop-color="#5bf88e"/><stop offset="0.650" stop-color="#66fab4"/><stop offset="0.675" stop-color="#6ffcd7"/><stop offset="0.700" stop-color="#74feed"/><stop offset="0.725" stop-color="#76fcff"/><stop offset="0.750" stop-color="#6cedff"/><stop offset="0.775" stop-color="#61daff"/><stop offset="0.800" stop-color="#52baff"/><stop offset="0.825" stop-color="#449aff"/><stop offset="0.850" stop-color="#3a7bff"/><stop offset="0.875" stop-color="#2f5bff"/><stop offset="0.900" stop-color="#293fff"/><stop offset="0.925" stop-color="#2423ff"/><stop offset="0.950" stop-color="#2215ff"/><stop offset="0.975" stop-color="#200bff"/><stop offset="1.000" stop-color="#1e00ff"/></linearGradient></defs>
<rect x="287.1" y="17.1" width="15.7" height="150.5" fill="url(#cbA)" stroke="#444" stroke-width="0.8"/>
<line x1="302.8" y1="18.7" x2="306.3" y2="18.7" stroke="#333" stroke-width="0.9"/>
<text x="309.8" y="21.9" font-size="9.3">0.2450</text>
<line x1="302.8" y1="33.5" x2="306.3" y2="33.5" stroke="#333" stroke-width="0.9"/>
<text x="309.8" y="36.6" font-size="9.3">0.2150</text>
<line x1="302.8" y1="48.2" x2="306.3" y2="48.2" stroke="#333" stroke-width="0.9"/>
<text x="309.8" y="51.4" font-size="9.3">0.1850</text>
<line x1="302.8" y1="63" x2="306.3" y2="63" stroke="#333" stroke-width="0.9"/>
<text x="309.8" y="66.2" font-size="9.3">0.1550</text>
<line x1="302.8" y1="77.8" x2="306.3" y2="77.8" stroke="#333" stroke-width="0.9"/>
<text x="309.8" y="80.9" font-size="9.3">0.1250</text>
<line x1="302.8" y1="92.6" x2="306.3" y2="92.6" stroke="#333" stroke-width="0.9"/>
<text x="309.8" y="95.7" font-size="9.3">0.09500</text>
<line x1="302.8" y1="107.3" x2="306.3" y2="107.3" stroke="#333" stroke-width="0.9"/>
<text x="309.8" y="110.5" font-size="9.3">0.06500</text>
<line x1="302.8" y1="122.1" x2="306.3" y2="122.1" stroke="#333" stroke-width="0.9"/>
<text x="309.8" y="125.3" font-size="9.3">0.03500</text>
<line x1="302.8" y1="136.9" x2="306.3" y2="136.9" stroke="#333" stroke-width="0.9"/>
<text x="309.8" y="140" font-size="9.3">0.005000</text>
<line x1="302.8" y1="151.6" x2="306.3" y2="151.6" stroke="#333" stroke-width="0.9"/>
<text x="309.8" y="154.8" font-size="9.3">-0.02500</text>
<line x1="302.8" y1="166.4" x2="306.3" y2="166.4" stroke="#333" stroke-width="0.9"/>
<text x="309.8" y="169.6" font-size="9.3">-0.05500</text>
<polyline fill="none" points="46.7,407.2 154.1,371.6 276.3,400.6" stroke="#e6e6e6" stroke-width="0.7"/>
<polyline fill="none" points="45,370.3 153.9,339.5 277.9,364.4" stroke="#e6e6e6" stroke-width="0.7"/>
<polyline fill="none" points="43.3,332.4 153.8,306.6 279.5,327.2" stroke="#e6e6e6" stroke-width="0.7"/>
<polyline fill="none" points="41.5,293.3 153.7,272.9 281.1,288.9" stroke="#e6e6e6" stroke-width="0.7"/>
<line x1="105" y1="413.2" x2="101.6" y2="263.6" stroke="#e6e6e6" stroke-width="0.7"/>
<line x1="181.6" y1="402.4" x2="182.6" y2="258.6" stroke="#e6e6e6" stroke-width="0.7"/>
<line x1="210.8" y1="410" x2="213.5" y2="261.8" stroke="#e6e6e6" stroke-width="0.7"/>
<line x1="242" y1="418.2" x2="246.5" y2="265.3" stroke="#e6e6e6" stroke-width="0.7"/>
<polyline fill="none" points="40.6,273 153.6,255.5 282,269.1" stroke="#999" stroke-width="0.8"/>
<line x1="154.1" y1="395.1" x2="153.6" y2="255.5" stroke="#aaa" stroke-width="0.7"/>
<line x1="275.2" y1="427" x2="282" y2="269.1" stroke="#aaa" stroke-width="0.7"/>
<mask id="cl3" maskUnits="userSpaceOnUse" x="0" y="0" width="685" height="746"><path fill="#fff" d="M47.9 434.2 174.5 478.4 275.2 427 154.1 395.1Z"/></mask>
<g mask="url(#cl3)">
<path fill="#1e00ff" d="M47.9 434.2 174.5 478.4 275.2 427 154.1 395.1Z"/>
<path fill-rule="evenodd" fill="#1e00ff" d="M281.9 426.8 157.9 394.4 132.6 401 40.9 434.4 175.3 481.8 281.9 426.8Z"/>
<path fill-rule="evenodd" fill="#1f06ff" d="M281.9 426.8 158.8 394.6 128.5 402.5 40.9 434.4 175.3 481.8 281.9 426.8Z"/>
<path fill-rule="evenodd" fill="#200dff" d="M281.9 426.8 159.7 394.9 124.5 403.9 40.9 434.4 175.3 481.8 281.9 426.8Z"/>
<path fill-rule="evenodd" fill="#2113ff" d="M281.9 426.8 160.6 395.1 120.6 405.4 40.9 434.4 175.3 481.8 281.9 426.8Z"/>
<path fill-rule="evenodd" fill="#221aff" d="M281.9 426.8 161.5 395.3 116.6 406.8 40.9 434.4 175.3 481.8 281.9 426.8Z"/>
<path fill-rule="evenodd" fill="#2425ff" d="M281.9 426.8 162.4 395.6 112.8 408.2 40.9 434.4 175.3 481.8 281.9 426.8Z"/>
<path fill-rule="evenodd" fill="#2736ff" d="M281.9 426.8 163.4 395.8 108.9 409.6 40.9 434.4 175.3 481.8 281.9 426.8Z"/>
<path fill-rule="evenodd" fill="#2b48ff" d="M281.9 426.8 164.3 396.1 105.1 411 40.9 434.4 175.3 481.8 281.9 426.8Z"/>
<path fill-rule="evenodd" fill="#2e59ff" d="M281.9 426.8 165.3 396.3 134.9 404.2 101.4 412.4 40.9 434.4 175.3 481.8 281.9 426.8Z"/>
<path fill-rule="evenodd" fill="#356dff" d="M281.9 426.8 166.3 396.6 134 405 97.6 413.7 40.9 434.4 175.3 481.8 281.9 426.8Z"/>
<path fill-rule="evenodd" fill="#3b80ff" d="M281.9 426.8 167.3 396.8 133 405.7 93.9 415.1 40.9 434.4 175.3 481.8 281.9 426.8Z"/>
<path fill-rule="evenodd" fill="#4294ff" d="M281.9 426.8 168.3 397.1 132 406.5 90.3 416.4 40.9 434.4 175.3 481.8 281.9 426.8Z"/>
<path fill-rule="evenodd" fill="#4aa8ff" d="M281.9 426.8 169.3 397.4 131.1 407.3 86.6 417.8 40.9 434.4 175.3 481.8 281.9 426.8Z"/>
<path fill-rule="evenodd" fill="#53bcff" d="M281.9 426.8 170.4 397.7 130.1 408 83 419.1 40.9 434.4 175.3 481.8 281.9 426.8Z"/>
<path fill-rule="evenodd" fill="#5cd0ff" d="M281.9 426.8 171.4 397.9 129.1 408.8 79.3 420.4 40.9 434.4 175.3 481.8 281.9 426.8Z"/>
<path fill-rule="evenodd" fill="#65e3ff" d="M281.9 426.8 172.5 398.2 128.2 409.6 75.8 421.7 40.9 434.4 175.3 481.8 281.9 426.8Z"/>
<path fill-rule="evenodd" fill="#6becff" d="M281.9 426.8 173.6 398.5 127.2 410.4 72.2 423 40.9 434.4 175.3 481.8 281.9 426.8Z"/>
<path fill-rule="evenodd" fill="#72f5ff" d="M281.9 426.8 174.8 398.8 126.2 411.2 68.6 424.3 40.9 434.4 175.3 481.8 281.9 426.8Z"/>
<path fill-rule="evenodd" fill="#78ffff" d="M281.9 426.8 175.9 399.1 125.2 412 65.1 425.6 40.9 434.4 175.3 481.8 281.9 426.8Z"/>
<path fill-rule="evenodd" fill="#75fef1" d="M281.9 426.8 177.1 399.4 124.9 412.6 61.5 426.9 40.9 434.4 175.3 481.8 281.9 426.8Z"/>
<path fill-rule="evenodd" fill="#72fde3" d="M281.9 426.8 178.3 399.7 124 413.4 58 428.2 40.9 434.4 175.3 481.8 281.9 426.8Z"/>
<path fill-rule="evenodd" fill="#6ffcd5" d="M281.9 426.8 179.5 400 123.7 414.1 54.5 429.5 40.9 434.4 175.3 481.8 281.9 426.8Z"/>
<path fill-rule="evenodd" fill="#69fbc0" d="M281.9 426.8 180.7 400.4 153.1 407.6 123.4 414.8 51 430.7 40.9 434.4 175.3 481.8 281.9 426.8Z"/>
<path fill-rule="evenodd" fill="#62faa8" d="M281.9 426.8 182 400.7 153.6 408.1 122.5 415.6 47.5 432 40.9 434.4 175.3 481.8 281.9 426.8Z"/>
<path fill-rule="evenodd" fill="#5cf891" d="M281.9 426.8 183.3 401 157.5 407.8 128.6 414.8 89.5 423.6 44.1 433.3 40.9 434.4 175.3 481.8 281.9 426.8Z"/>
<path fill-rule="evenodd" fill="#55f779" d="M281.9 426.8 184.6 401.4 155.5 408.9 122 417 41 434.5 175.3 481.8 281.9 426.8Z"/>
<path fill-rule="evenodd" fill="#4ff762" d="M281.9 426.8 186 401.7 156.8 409.3 123.2 417.3 84.8 425.9 42 434.8 175.3 481.8 281.9 426.8Z"/>
<path fill-rule="evenodd" fill="#49f64b" d="M281.9 426.8 187.4 402.1 157.5 409.8 124.4 417.7 85.9 426.2 43 435.2 175.3 481.8 281.9 426.8Z"/>
<path fill-rule="evenodd" fill="#43f533" d="M281.9 426.8 188.8 402.5 158.9 410.2 125.7 418.1 87.8 426.4 44.1 435.5 175.3 481.8 281.9 426.8Z"/>
<path fill-rule="evenodd" fill="#3ef51e" d="M281.9 426.8 190.3 402.9 160.9 410.5 127 418.5 89 426.8 45.1 435.9 175.3 481.8 281.9 426.8Z"/>
<path fill-rule="evenodd" fill="#3df519" d="M281.9 426.8 191.8 403.3 162.4 410.9 129.8 418.5 91.8 426.9 46.2 436.3 175.3 481.8 281.9 426.8Z"/>
<path fill-rule="evenodd" fill="#3df514" d="M281.9 426.8 193.4 403.7 164.5 411.1 131.2 418.9 93.1 427.3 47.3 436.7 175.3 481.8 281.9 426.8Z"/>
<path fill-rule="evenodd" fill="#3cf50f" d="M281.9 426.8 195 404.1 166.7 411.4 133.3 419.2 94.3 427.7 48.4 437.1 175.3 481.8 281.9 426.8Z"/>
<path fill-rule="evenodd" fill="#43f510" d="M281.9 426.8 196.7 404.5 167.6 412 134 419.8 94.8 428.3 49.5 437.5 175.3 481.8 281.9 426.8Z"/>
<path fill-rule="evenodd" fill="#4bf612" d="M281.9 426.8 198.4 405 169.9 412.3 137 419.9 97.7 428.3 50.7 437.9 175.3 481.8 281.9 426.8Z"/>
<path fill-rule="evenodd" fill="#53f613" d="M281.9 426.8 200.2 405.5 171.6 412.7 137.8 420.5 99.1 428.8 51.8 438.3 175.3 481.8 281.9 426.8Z"/>
<path fill-rule="evenodd" fill="#5df616" d="M281.9 426.8 202.1 406 174.1 413.1 140.1 420.8 99.7 429.4 53 438.7 175.3 481.8 281.9 426.8Z"/>
<path fill-rule="evenodd" fill="#68f719" d="M281.9 426.8 204.1 406.5 175.9 413.6 142.5 421.2 102.8 429.5 54.3 439.1 175.3 481.8 281.9 426.8Z"/>
<path fill-rule="evenodd" fill="#73f81c" d="M281.9 426.8 206.2 407 178.5 414 145 421.5 105.1 429.8 55.5 439.6 175.3 481.8 281.9 426.8Z"/>
<path fill-rule="evenodd" fill="#7ef820" d="M281.9 426.8 208.4 407.6 179.9 414.7 146.8 422 56.8 440 175.3 481.8 281.9 426.8Z"/>
<path fill-rule="evenodd" fill="#8bf923" d="M281.9 426.8 210.8 408.2 183.4 414.9 149.4 422.4 58.1 440.5 175.3 481.8 281.9 426.8Z"/>
<path fill-rule="evenodd" fill="#97fa26" d="M281.9 426.8 213.3 408.9 186.3 415.4 152.9 422.7 59.5 441 175.3 481.8 281.9 426.8Z"/>
<path fill-rule="evenodd" fill="#a5fa29" d="M281.9 426.8 216 409.6 189.5 415.9 156.5 423 60.8 441.4 175.3 481.8 281.9 426.8Z"/>
<path fill-rule="evenodd" fill="#b4fa2c" d="M281.9 426.8 219 410.4 192.8 416.5 159.4 423.5 62.3 441.9 175.3 481.8 281.9 426.8Z"/>
<path fill-rule="evenodd" fill="#c4fa2f" d="M279.7 426.2 222.3 411.2 196.3 417.1 163.3 423.9 63.7 442.5 175.3 481.8 269 433.4 280.4 426.4 279.7 426.2Z"/>
<path fill-rule="evenodd" fill="#d3fa32" d="M276 425.3 226.2 412.2 201.7 417.5 167.4 424.3 65.2 443 175.3 481.8 251.2 442.6 263.8 433.4 276 425.3Z"/>
<path fill-rule="evenodd" fill="#e0fa34" d="M270.9 423.9 230.8 413.4 175.8 424.1 66.8 443.5 175.3 481.8 238.5 449.2 256 435 270.9 423.9Z"/>
<path fill-rule="evenodd" fill="#ecfa36" d="M263.8 422.1 237.1 415.1 68.4 444.1 175.3 481.8 227.8 454.7 264.3 422.2 263.8 422.1Z"/>
<path fill-rule="evenodd" fill="#f1f037" d="M248.9 419.8 244.2 419 236.5 419 224.5 420.1 209.4 422.1 159.8 429.7 70.1 444.7 175.3 481.8 218.2 459.7 237.6 441.2 247.9 429.8 250.5 425.9 251.4 423.3 251 421.4 248.9 419.8Z"/>
<path fill-rule="evenodd" fill="#efde37" d="M234.5 425.1 229 424 220.5 423.9 208.9 424.7 194.2 426.3 147.3 433.1 71.8 445.3 175.3 481.8 209.4 464.2 210.8 462.8 227 446.5 232.3 440.3 235.6 435.9 237.6 432.1 238.2 429.1 237.3 426.9 234.5 425.1Z"/>
<path fill-rule="evenodd" fill="#edc935" d="M224.3 429.9 218.7 428.3 210.8 427.8 200 428.2 186.1 429.4 142.3 435.2 73.6 445.9 175.3 481.8 201.1 468.5 211.3 458.1 220.9 447.2 224.3 442.6 226.4 438.7 227.4 435.8 227.4 433.2 226.5 431.5 224.3 429.9Z"/>
<path fill-rule="evenodd" fill="#ecb333" d="M214.3 433.5 208.6 431.9 201 431.3 190.4 431.5 176.9 432.5 137.3 437.3 75.5 446.6 175.3 481.8 193.2 472.6 203 462.3 209.7 454.6 215.6 446.3 217.1 443.2 218 440.5 218.1 438.2 217.5 436.3 216.2 434.8 214.3 433.5Z"/>
<path fill-rule="evenodd" fill="#eda330" d="M205 436.8 199.3 435.2 191.7 434.5 181.4 434.5 168.1 435.4 130.7 439.6 77.4 447.3 175.3 481.8 185.7 476.5 197.2 464 205.1 453.8 208.6 447.4 209.6 442.9 209.4 441.3 208.5 439.5 207.1 438 205 436.8Z"/>
<path fill-rule="evenodd" fill="#ee962d" d="M197.5 440.3 192.2 438.5 185 437.5 175.1 437.3 163.7 437.8 129.2 441.2 79.5 448 175.3 481.8 178.4 480.2 187.7 470.1 194.6 461.5 199.3 454.3 201.2 449.6 201.6 445.6 200.5 442.8 197.5 440.3Z"/>
<path fill-rule="evenodd" fill="#ef892a" d="M188.1 442.5 183 441.1 175.6 440.2 166.7 440 155.4 440.4 124.3 443.2 81.6 448.8 173.8 481.3 181.4 472.7 186.5 466.2 190.9 459.7 193.2 454.9 194.1 450.9 193.6 447.2 191.7 444.7 188.1 442.5Z"/>
<path fill-rule="evenodd" fill="#f17a26" d="M181.4 445.6 176.5 444.1 169.4 443 160.9 442.6 149.9 442.8 122.7 444.9 84 449.6 170.9 480.3 177.1 472.9 181.5 466.8 184.6 461.5 186.4 457 187 453.2 186.3 450 184.4 447.5 181.4 445.6Z"/>
<path fill-rule="evenodd" fill="#f36b22" d="M174.3 448.3 169.5 446.7 163.5 445.7 155.3 445.1 145.8 445.1 121 446.7 86.4 450.5 167.9 479.2 172.5 473.2 176.3 467.5 178.6 462.9 179.9 459 180.1 455.9 179.3 452.8 177.4 450.3 174.3 448.3Z"/>
<path fill-rule="evenodd" fill="#f55b1f" d="M168.6 451.5 164.2 449.7 158.6 448.4 151.8 447.7 142.9 447.4 120.6 448.4 89.1 451.4 164.7 478.1 170.5 469.1 172.3 465.1 173.3 461.5 173.5 458.5 172.8 455.9 171.3 453.7 168.6 451.5Z"/>
<path fill-rule="evenodd" fill="#f84b1b" d="M159 452.6 154.5 451.4 149.3 450.5 135.3 449.7 115.8 450.4 92 452.4 161.3 476.9 164 472.3 165.8 468.2 166.8 464.7 167 461.6 166.4 458.9 164.7 456.2 162.5 454.4 159 452.6Z"/>
<path fill-rule="evenodd" fill="#fa3c17" d="M154.4 455.9 150.4 454.3 145.5 453.2 133.6 452.1 116.5 452.2 95.2 453.6 157.5 475.5 160.2 469.1 160.7 466.4 160.7 463.4 160.1 461.3 158.7 459 157 457.5 154.4 455.9Z"/>
<path fill-rule="evenodd" fill="#fc2f13" d="M147.5 457.9 140.1 455.7 129.5 454.4 115.5 454.1 98.9 454.9 153.4 474.1 154.6 468.7 154.6 466.3 154 464.2 153 462.3 151.6 460.6 147.5 457.9Z"/>
<path fill-rule="evenodd" fill="#fd2711" d="M142.4 460.8 136.3 458.5 127.5 456.9 116.7 456.3 103.2 456.4 148.5 472.4 148.5 468.6 147.5 465.5 145.4 462.9 142.4 460.8Z"/>
<path fill-rule="evenodd" fill="#fe2210" d="M134.5 462.1 130.2 460.7 124.2 459.5 117.3 458.7 108.7 458.3 142.5 470.2 141.5 467.7 139.8 465.5 137.4 463.7 134.5 462.1Z"/>
</g>
<path fill="none" stroke="#000" stroke-width="0.9" d="M159.5 396.6 128.5 404.5M165.8 398.2 135.6 406 103.4 413.8M172.8 400.1 129.8 411 79.6 422.6M180.7 402.1 125.4 415.9 56.5 431M190 404.6 162.5 411.6 131 419 52.1 435.7M201.5 407.6 173.9 414.4 142.1 421.6 59.7 438.3M218 411.9 193.3 417.5 161.3 424 68.6 441.4M206.8 461.9 217.5 450.1 221.6 444.7 223.9 440.8 225.3 437.5 225.5 434.8 224.7 432.6 222.3 430.7 217.2 429.2 210 428.6 198.9 428.8 184.6 430 143.7 435.3 79.4 445.2M167.9 476.1 171.6 470.6 174.2 465.7 175.7 461.5 176.1 458.1 175.5 454.9 173.9 452.4 171.3 450.5 167.8 448.9 163.4 447.8 157.4 447 141.6 446.5 121.2 447.6 94 450.3"/>
<line x1="105" y1="413.2" x2="229.2" y2="450.5" stroke="#e8e8e8" stroke-width="0.6" stroke-opacity="0.42"/>
<line x1="76.1" y1="444.1" x2="181.6" y2="402.4" stroke="#e8e8e8" stroke-width="0.6" stroke-opacity="0.42"/>
<line x1="106.4" y1="454.6" x2="210.8" y2="410" stroke="#e8e8e8" stroke-width="0.6" stroke-opacity="0.42"/>
<line x1="139.1" y1="466.1" x2="242" y2="418.2" stroke="#e8e8e8" stroke-width="0.6" stroke-opacity="0.42"/>
<polyline fill="none" points="47.9,434.2 174.5,478.4 275.2,427" stroke="#1a1a28" stroke-width="0.85"/>
<mask id="cl4" maskUnits="userSpaceOnUse" x="0" y="0" width="685" height="746"><path fill="#fff" d="M153.8 367.3 127.2 367.3 98.8 365.7 68.8 362.3 45.2 358.7 44.7 358.2 57 343.2 65.8 334.7 73.8 328.3 82.8 322.7 90.5 319 97.2 316.7 106.5 314.7 121.8 314.3 151.8 317 182.2 317.7 207.8 316.7 231.8 314 241.8 313.7 249.5 314.3 260.5 316.7 270.2 320 279.3 324.5 258.2 330 232.5 334.7 207.5 337.7 179.5 339.3 166.3 352.2 153.8 367.3Z"/></mask>
<g mask="url(#cl4)">
<path fill="#1e00ff" d="M153.8 367.3 127.2 367.3 98.8 365.7 68.8 362.3 45.2 358.7 44.7 358.2 57 343.2 65.8 334.7 73.8 328.3 82.8 322.7 90.5 319 97.2 316.7 106.5 314.7 121.8 314.3 151.8 317 182.2 317.7 207.8 316.7 231.8 314 241.8 313.7 249.5 314.3 260.5 316.7 270.2 320 279.3 324.5 258.2 330 232.5 334.7 207.5 337.7 179.5 339.3 166.3 352.2 153.8 367.3Z"/>
<path fill-rule="evenodd" fill="#1e00ff" d="M151.8 369.2 127.2 369.2 126.8 368.8 112.5 368.5 112.2 368.2 107.5 368.2 107.2 367.8 91.5 366.8 68.8 364.2 45.2 360.5 43.5 359.5 42.8 358.2 44.5 355.2 55.5 342.2 64.8 333.2 72.8 326.8 81.8 321.2 89.5 317.5 97.2 314.8 106.5 312.8 121.8 312.5 132.5 313.8 151.5 314.8 151.8 315.2 182.2 315.8 182.5 315.5 195.8 315.5 196.2 315.2 207.8 314.8 208.2 314.5 223.2 313.5 231.8 312.2 241.8 311.8 242.2 312.2 249.5 312.5 260.5 314.8 271.2 318.5 279.8 322.5 280.8 323.5 281.2 324.5 280.8 325.5 278.5 326.8 258.2 331.8 240.8 335.2 227.8 337.2 207.5 339.5 180.2 341.2 167.8 353.2 155.8 367.8 154.5 366.6 151.9 367.2 151.8 369.2Z"/>
<path fill-rule="evenodd" fill="#1f06ff" d="M147.5 369.2 118.8 368.8 118.5 368.5 112.5 368.5 112.2 368.2 107.5 368.2 107.2 367.8 91.5 366.8 68.8 364.2 45.2 360.5 43.5 359.5 42.8 358.2 44.5 355.2 55.5 342.2 64.8 333.2 72.8 326.8 81.8 321.2 89.5 317.5 97.2 314.8 106.5 312.8 121.8 312.5 132.5 313.8 151.5 314.8 151.8 315.2 182.2 315.8 182.5 315.5 195.8 315.5 196.2 315.2 207.8 314.8 208.2 314.5 223.2 313.5 231.8 312.2 241.8 311.8 242.2 312.2 249.5 312.5 260.5 314.8 271.2 318.5 279.8 322.5 280.8 323.5 281.2 324.5 280.8 325.5 278.5 326.8 258.2 331.8 240.8 335.2 227.8 337.2 207.5 339.5 180.2 341.2 167.8 353.2 156.8 366.5 155.2 365.5 147.8 367.2 147.5 369.2Z"/>
<path fill-rule="evenodd" fill="#200dff" d="M143.5 369.2 118.8 368.8 118.5 368.5 107.5 368.2 107.2 367.8 102.8 367.8 102.5 367.5 85.2 366.2 68.8 364.2 45.2 360.5 43.5 359.5 42.8 358.2 44.5 355.2 55.5 342.2 64.8 333.2 72.8 326.8 81.8 321.2 89.5 317.5 97.2 314.8 106.5 312.8 121.8 312.5 132.5 313.8 151.5 314.8 151.8 315.2 182.2 315.8 182.5 315.5 195.8 315.5 196.2 315.2 207.8 314.8 208.2 314.5 223.2 313.5 231.8 312.2 241.8 311.8 253.5 313.2 263.8 315.8 271.2 318.5 279.8 322.5 281.2 324.5 280.2 326.2 276.2 327.5 258.2 331.8 236.8 335.8 207.5 339.5 180.2 341.2 167.8 353.2 157.8 365.2 155.8 364.4 143.5 367.2 143.5 369.2Z"/>
<path fill-rule="evenodd" fill="#2113ff" d="M139.2 369.2 112.5 368.5 112.2 368.2 102.8 367.8 82.2 365.8 45.2 360.5 43.5 359.5 42.8 358.2 44.5 355.2 55.5 342.2 64.8 333.2 72.8 326.8 81.8 321.2 89.5 317.5 97.2 314.8 106.5 312.8 121.8 312.5 132.5 313.8 151.5 314.8 151.8 315.2 182.2 315.8 182.5 315.5 195.8 315.5 196.2 315.2 207.8 314.8 208.2 314.5 223.2 313.5 231.8 312.2 241.8 311.8 253.5 313.2 263.8 315.8 271.2 318.5 279.8 322.5 281.2 324.5 280.2 326.2 276.2 327.5 258.2 331.8 236.8 335.8 207.5 339.5 180.2 341.2 167.8 353.2 158.8 363.8 157.2 363.1 139.2 367.2 139.2 369.2Z"/>
<path fill-rule="evenodd" fill="#221aff" d="M134.5 369.2 107.5 368.2 76.5 365.2 45.2 360.5 43.5 359.5 42.8 358.2 44.5 355.2 55.5 342.2 64.8 333.2 72.8 326.8 81.8 321.2 89.5 317.5 97.2 314.8 106.5 312.8 121.8 312.5 132.5 313.8 151.5 314.8 151.8 315.2 182.2 315.8 182.5 315.5 195.8 315.5 196.2 315.2 207.8 314.8 208.2 314.5 223.2 313.5 231.8 312.2 241.8 311.8 253.5 313.2 263.8 315.8 271.2 318.5 279.8 322.5 281.2 324.5 280.2 326.2 276.2 327.5 258.2 331.8 236.8 335.8 207.5 339.5 180.2 341.2 167.8 353.2 159.5 363.2 157.8 362 134.7 367.2 134.5 369.2Z"/>
<path fill-rule="evenodd" fill="#2425ff" d="M129.8 369.2 102.8 367.8 73.8 364.8 45.2 360.5 43.5 359.5 42.8 358.2 44.5 355.2 55.5 342.2 64.8 333.2 72.8 326.8 81.8 321.2 89.5 317.5 97.2 314.8 106.5 312.8 121.8 312.5 132.5 313.8 151.5 314.8 151.8 315.2 182.2 315.8 182.5 315.5 195.8 315.5 196.2 315.2 207.8 314.8 208.2 314.5 223.2 313.5 231.8 312.2 241.8 311.8 253.5 313.2 263.8 315.8 271.2 318.5 279.8 322.5 281.2 324.5 280.2 326.2 276.2 327.5 258.2 331.8 236.8 335.8 207.5 339.5 180.2 341.2 167.8 353.2 160.5 361.8 158.8 360.8 130.1 367.2 129.8 369.2Z"/>
<path fill-rule="evenodd" fill="#2736ff" d="M125.8 368.8 118.8 368.8 118.5 368.5 102.8 367.8 73.8 364.8 45.2 360.5 43.5 359.5 42.8 358.2 44.5 355.2 55.5 342.2 64.8 333.2 72.8 326.8 81.8 321.2 89.5 317.5 97.2 314.8 106.5 312.8 121.8 312.5 132.5 313.8 151.5 314.8 151.8 315.2 182.2 315.8 182.5 315.5 195.8 315.5 196.2 315.2 207.8 314.8 208.2 314.5 223.2 313.5 231.8 312.2 241.8 311.8 253.5 313.2 263.8 315.8 271.2 318.5 279.8 322.5 281.2 324.5 280.2 326.2 276.2 327.5 258.2 331.8 236.8 335.8 207.5 339.5 180.2 341.2 167.8 353.2 161.5 360.4 159.8 359.7 126.9 366.8 125.8 368.8Z"/>
<path fill-rule="evenodd" fill="#2b48ff" d="M121.8 368.8 98.8 367.5 68.8 364.2 45.2 360.5 43.5 359.5 42.8 358.2 44.5 355.2 55.5 342.2 64.8 333.2 72.8 326.8 81.8 321.2 89.5 317.5 97.2 314.8 106.5 312.8 121.8 312.5 132.5 313.8 151.5 314.8 151.8 315.2 182.2 315.8 182.5 315.5 195.8 315.5 196.2 315.2 207.8 314.8 208.2 314.5 223.2 313.5 231.8 312.2 241.8 311.8 253.5 313.2 263.8 315.8 271.2 318.5 279.8 322.5 281.2 324.5 280.2 326.2 276.2 327.5 258.2 331.8 236.8 335.8 207.5 339.5 180.2 341.2 167.8 353.2 162.5 359.5 160.8 358.5 122.1 366.8 121.8 368.8Z"/>
<path fill-rule="evenodd" fill="#2e59ff" d="M117.5 368.5 98.8 367.5 68.8 364.2 45.2 360.5 43.5 359.5 42.8 358.2 44.5 355.2 55.5 342.2 64.8 333.2 72.8 326.8 81.8 321.2 89.5 317.5 97.2 314.8 106.5 312.8 121.8 312.5 132.5 313.8 151.5 314.8 151.8 315.2 182.2 315.8 182.5 315.5 195.8 315.5 196.2 315.2 207.8 314.8 208.2 314.5 223.2 313.5 231.8 312.2 241.8 311.8 253.5 313.2 263.8 315.8 271.2 318.5 279.8 322.5 281.2 324.5 280.2 326.2 276.2 327.5 258.2 331.8 236.8 335.8 207.5 339.5 180.2 341.2 167.8 353.2 163.5 358.2 161.5 357.4 118.7 366.5 117.5 368.5Z"/>
<path fill-rule="evenodd" fill="#356dff" d="M113.5 368.5 91.5 366.8 59.5 362.8 45.2 360.5 43.5 359.5 42.8 358.2 44.5 355.2 55.5 342.2 64.8 333.2 72.8 326.8 81.8 321.2 89.5 317.5 97.2 314.8 106.5 312.8 121.8 312.5 132.5 313.8 151.5 314.8 151.8 315.2 182.2 315.8 182.5 315.5 195.8 315.5 196.2 315.2 207.8 314.8 208.2 314.5 223.2 313.5 231.8 312.2 241.8 311.8 253.5 313.2 263.8 315.8 271.2 318.5 279.8 322.5 281.2 324.5 280.2 326.2 276.2 327.5 258.2 331.8 236.8 335.8 207.5 339.5 180.2 341.2 167.8 353.2 164.5 357.2 162.8 356.2 113.6 366.5 113.5 368.5Z"/>
<path fill-rule="evenodd" fill="#3b80ff" d="M109.8 368.2 85.2 366.2 59.5 362.8 45.2 360.5 43.5 359.5 42.8 358.2 44.5 355.2 55.5 342.2 64.8 333.2 72.8 326.8 81.8 321.2 89.5 317.5 97.2 314.8 106.5 312.8 121.8 312.5 132.5 313.8 151.5 314.8 151.8 315.2 182.2 315.8 182.5 315.5 195.8 315.5 196.2 315.2 207.8 314.8 208.2 314.5 223.2 313.5 231.8 312.2 241.8 311.8 253.5 313.2 263.8 315.8 271.2 318.5 279.8 322.5 281.2 324.5 280.2 326.2 276.2 327.5 258.2 331.8 236.8 335.8 207.5 339.5 180.2 341.2 165.5 355.8 163.5 355.1 110.1 366.2 109.8 368.2Z"/>
<path fill-rule="evenodd" fill="#4294ff" d="M106.2 367.8 85.2 366.2 59.5 362.8 45.2 360.5 43.5 359.5 42.8 358.2 44.5 355.2 55.5 342.2 64.8 333.2 72.8 326.8 81.8 321.2 89.5 317.5 97.2 314.8 106.5 312.8 121.8 312.5 132.5 313.8 151.5 314.8 151.8 315.2 182.2 315.8 182.5 315.5 195.8 315.5 196.2 315.2 207.8 314.8 208.2 314.5 223.2 313.5 231.8 312.2 241.8 311.8 253.5 313.2 263.8 315.8 271.2 318.5 279.8 322.5 281.2 324.5 280.2 326.2 276.2 327.5 258.2 331.8 236.8 335.8 207.5 339.5 180.2 341.2 166.5 354.8 164.8 353.8 106.4 365.8 106.2 367.8Z"/>
<path fill-rule="evenodd" fill="#4aa8ff" d="M101.5 367.5 82.2 365.8 55.2 362.2 45.2 360.5 43.5 359.5 42.8 358.2 44.5 355.2 55.5 342.2 64.8 333.2 72.8 326.8 81.8 321.2 89.5 317.5 97.2 314.8 106.5 312.8 121.8 312.5 132.5 313.8 151.5 314.8 151.8 315.2 182.2 315.8 182.5 315.5 195.8 315.5 196.2 315.2 207.8 314.8 208.2 314.5 223.2 313.5 231.8 312.2 241.8 311.8 253.5 313.2 263.8 315.8 271.2 318.5 279.8 322.5 281.2 324.5 280.2 326.2 276.2 327.5 258.2 331.8 236.8 335.8 207.5 339.5 180.2 341.2 167.5 353.8 165.8 352.7 102.7 365.5 101.5 367.5Z"/>
<path fill-rule="evenodd" fill="#53bcff" d="M97.5 367.2 76.5 365.2 55.2 362.2 45.2 360.5 43.5 359.5 42.8 358.2 44.5 355.2 55.5 342.2 64.8 333.2 72.8 326.8 81.8 321.2 89.5 317.5 97.2 314.8 106.5 312.8 121.8 312.5 132.5 313.8 151.5 314.8 151.8 315.2 182.2 315.8 182.5 315.5 195.8 315.5 196.2 315.2 207.8 314.8 208.2 314.5 223.2 313.5 231.8 312.2 241.8 311.8 253.5 313.2 263.8 315.8 271.2 318.5 279.8 322.5 281.2 324.5 280.2 326.2 276.2 327.5 258.2 331.8 236.8 335.8 207.5 339.5 180.2 341.2 168.2 352.8 166.8 351.5 98.8 365.2 97.5 367.2Z"/>
<path fill-rule="evenodd" fill="#5cd0ff" d="M93.8 366.8 73.8 364.8 45.2 360.5 43.5 359.5 42.8 358.2 44.5 355.2 55.5 342.2 64.8 333.2 72.8 326.8 81.8 321.2 89.5 317.5 97.2 314.8 106.5 312.8 121.8 312.5 132.5 313.8 151.5 314.8 151.8 315.2 182.2 315.8 182.5 315.5 195.8 315.5 196.2 315.2 207.8 314.8 208.2 314.5 223.2 313.5 231.8 312.2 241.8 311.8 253.5 313.2 263.8 315.8 271.2 318.5 279.8 322.5 281.2 324.5 280.2 326.2 276.2 327.5 258.2 331.8 236.8 335.8 207.5 339.5 180.2 341.2 169.5 351.5 167.8 350.4 94.9 364.8 93.8 366.8Z"/>
<path fill-rule="evenodd" fill="#65e3ff" d="M90.2 366.5 68.8 364.2 45.2 360.5 43.5 359.5 42.8 358.2 44.5 355.2 55.5 342.2 64.8 333.2 72.8 326.8 79.5 322.5 87.2 318.5 97.2 314.8 102.5 313.5 109.2 312.5 121.8 312.5 132.5 313.8 151.5 314.8 151.8 315.2 182.2 315.8 182.5 315.5 195.8 315.5 196.2 315.2 207.8 314.8 208.2 314.5 223.2 313.5 231.8 312.2 241.8 311.8 253.5 313.2 263.8 315.8 271.2 318.5 279.8 322.5 281.2 324.5 280.2 326.2 276.2 327.5 258.2 331.8 236.8 335.8 207.5 339.5 180.2 341.2 170.8 350.2 169.2 349.1 132.5 356.6 90.8 364.5 90.2 366.5Z"/>
<path fill-rule="evenodd" fill="#6becff" d="M86.5 366.2 68.8 364.2 45.2 360.5 43.5 359.5 42.8 358.2 44.5 355.2 55.5 342.2 64.8 333.2 72.8 326.8 79.5 322.5 87.2 318.5 97.2 314.8 102.5 313.5 109.2 312.5 121.8 312.5 132.5 313.8 151.5 314.8 151.8 315.2 182.2 315.8 182.5 315.5 195.8 315.5 196.2 315.2 207.8 314.8 208.2 314.5 223.2 313.5 231.8 312.2 241.8 311.8 253.5 313.2 263.8 315.8 271.2 318.5 279.8 322.5 281.2 324.5 280.2 326.2 276.2 327.5 258.2 331.8 236.8 335.8 207.5 339.5 180.2 341.2 171.8 349.2 170.2 348 131.2 355.9 86.6 364.2 86.5 366.2Z"/>
<path fill-rule="evenodd" fill="#72f5ff" d="M82.2 365.8 45.2 360.5 43.5 359.5 42.8 358.2 44.5 355.2 55.5 342.2 64.8 333.2 72.8 326.8 79.5 322.5 87.2 318.5 97.2 314.8 102.5 313.5 109.2 312.5 121.8 312.5 132.5 313.8 151.5 314.8 151.8 315.2 182.2 315.8 182.5 315.5 195.8 315.5 196.2 315.2 207.8 314.8 208.2 314.5 223.2 313.5 231.8 312.2 241.8 311.8 253.5 313.2 263.8 315.8 271.2 318.5 279.8 322.5 281.2 324.5 280.2 326.2 276.2 327.5 258.2 331.8 236.8 335.8 207.5 339.5 180.2 341.2 173.2 347.8 171.5 346.8 130.2 355.1 82.3 363.8 82.2 365.8Z"/>
<path fill-rule="evenodd" fill="#78ffff" d="M78.2 365.2 68.8 364.2 45.2 360.5 43.5 359.5 42.8 358.2 44.5 355.2 55.5 342.2 64.8 333.2 72.8 326.8 79.5 322.5 87.2 318.5 97.2 314.8 102.5 313.5 109.2 312.5 121.8 312.5 132.5 313.8 151.5 314.8 151.8 315.2 182.2 315.8 182.5 315.5 195.8 315.5 196.2 315.2 207.8 314.8 208.2 314.5 223.2 313.5 231.8 312.2 241.8 311.8 253.5 313.2 263.8 315.8 271.2 318.5 279.8 322.5 281.2 324.5 280.2 326.2 276.2 327.5 258.2 331.8 236.8 335.8 207.5 339.5 180.2 341.2 174.2 346.8 172.5 345.7 129.5 354.2 79.5 363.2 78.2 365.2Z"/>
<path fill-rule="evenodd" fill="#75fef1" d="M75.2 364.8 45.2 360.5 43.5 359.5 42.8 358.2 44.5 355.2 55.5 342.2 64.8 333.2 72.8 326.8 79.5 322.5 87.2 318.5 97.2 314.8 102.5 313.5 109.2 312.5 121.8 312.5 132.5 313.8 151.5 314.8 151.8 315.2 182.2 315.8 182.5 315.5 195.8 315.5 196.2 315.2 207.8 314.8 208.2 314.5 223.2 313.5 231.8 312.2 241.8 311.8 253.5 313.2 263.8 315.8 271.2 318.5 279.8 322.5 281.2 324.5 280.2 326.2 276.2 327.5 258.2 331.8 236.8 335.8 207.5 339.5 180.2 341.2 175.5 345.5 173.8 344.5 128.5 353.4 75.2 362.8 75.2 364.8Z"/>
<path fill-rule="evenodd" fill="#72fde3" d="M70.2 364.2 45.2 360.5 43.5 359.5 42.8 358.2 44.5 355.2 55.5 342.2 64.8 333.2 72.8 326.8 79.5 322.5 87.2 318.5 97.2 314.8 102.5 313.5 109.2 312.5 121.8 312.5 132.5 313.8 151.5 314.8 151.8 315.2 182.2 315.8 182.5 315.5 195.8 315.5 196.2 315.2 207.8 314.8 208.2 314.5 223.2 313.5 231.8 312.2 241.8 311.8 253.5 313.2 263.8 315.8 271.2 318.5 279.8 322.5 281.2 324.5 280.2 326.2 276.2 327.5 246.5 334.2 232.5 336.5 214.2 338.8 199.8 339.8 199.5 340.2 195.2 340.2 194.8 340.5 180.2 341.2 176.5 344.5 174.8 343.3 127.5 352.5 71.5 362.3 70.2 364.2Z"/>
<path fill-rule="evenodd" fill="#6ffcd5" d="M67.5 363.8 45.2 360.5 43.5 359.5 42.8 358.2 44.5 355.2 55.5 342.2 64.8 333.2 72.8 326.8 79.5 322.5 87.2 318.5 97.2 314.8 102.5 313.5 109.2 312.5 121.8 312.5 132.5 313.8 151.5 314.8 151.8 315.2 182.2 315.8 182.5 315.5 195.8 315.5 196.2 315.2 207.8 314.8 208.2 314.5 223.2 313.5 231.8 312.2 241.8 311.8 253.5 313.2 263.8 315.8 271.2 318.5 279.8 322.5 281.2 324.5 280.2 326.2 276.2 327.5 246.5 334.2 232.5 336.5 214.2 338.8 199.8 339.8 199.5 340.2 195.2 340.2 194.8 340.5 180.2 341.2 177.8 343.2 176.2 342.1 126.8 351.6 67.7 361.8 67.5 363.8Z"/>
<path fill-rule="evenodd" fill="#69fbc0" d="M62.8 363.2 45.2 360.5 43.5 359.5 42.8 358.2 44.5 355.2 55.5 342.2 64.8 333.2 72.8 326.8 79.5 322.5 87.2 318.5 97.2 314.8 102.5 313.5 109.2 312.5 121.8 312.5 132.5 313.8 151.5 314.8 151.8 315.2 182.2 315.8 182.5 315.5 195.8 315.5 196.2 315.2 207.8 314.8 208.2 314.5 223.2 313.5 231.8 312.2 241.8 311.8 253.5 313.2 263.8 315.8 271.2 318.5 279.8 322.5 281.2 324.5 280.2 326.2 276.2 327.5 246.5 334.2 227.8 337.2 207.5 339.5 189.5 340.5 189.2 340.8 182.8 340.8 180.2 341.2 178.8 342.2 177.2 341 126.2 350.7 64.2 361.3 62.8 363.2Z"/>
<path fill-rule="evenodd" fill="#62faa8" d="M59.5 362.8 45.2 360.5 43.5 359.5 42.8 358.2 44.5 355.2 55.5 342.2 64.8 333.2 72.8 326.8 79.5 322.5 87.2 318.5 97.2 314.8 102.5 313.5 109.2 312.5 121.8 312.5 132.5 313.8 151.5 314.8 151.8 315.2 182.2 315.8 182.5 315.5 195.8 315.5 196.2 315.2 207.8 314.8 208.2 314.5 223.2 313.5 231.8 312.2 241.8 311.8 253.5 313.2 263.8 315.8 271.2 318.5 279.8 322.5 281.2 324.5 280.2 326.2 276.2 327.5 258.2 331.8 240.8 335.2 217.2 338.5 199.8 339.8 199.5 340.2 180.2 341.2 178.8 339.8 125.5 349.8 59.7 360.8 59.5 362.8Z"/>
<path fill-rule="evenodd" fill="#5cf891" d="M56.2 362.2 45.2 360.5 43.5 359.5 42.8 358.2 44.5 355.2 55.5 342.2 67.2 331.2 77.8 323.5 89.5 317.5 102.5 313.5 109.2 312.5 121.8 312.5 132.5 313.8 151.5 314.8 151.8 315.2 182.2 315.8 182.5 315.5 195.8 315.5 196.2 315.2 207.8 314.8 208.2 314.5 223.2 313.5 231.8 312.2 241.8 311.8 253.5 313.2 263.8 315.8 271.2 318.5 279.8 322.5 281.2 324.5 280.2 326.2 276.2 327.5 258.2 331.8 240.8 335.2 217.2 338.5 199.8 339.8 199.5 340.2 195.2 340.2 194.8 340.5 180.2 341.2 179.5 339.5 175.7 339.5 122.2 349.4 56.6 360.2 56.2 362.2Z"/>
<path fill-rule="evenodd" fill="#55f779" d="M51.8 361.5 44.2 360.2 43.2 359.2 42.8 358.2 43.2 357.2 52.2 345.8 64.8 333.2 72.8 326.8 77.8 323.5 87.2 318.5 97.2 314.8 106.5 312.8 121.8 312.5 132.5 313.8 151.5 314.8 151.8 315.2 182.2 315.8 182.5 315.5 195.8 315.5 196.2 315.2 207.8 314.8 208.2 314.5 223.2 313.5 231.8 312.2 241.8 311.8 253.5 313.2 263.8 315.8 271.2 318.5 279.8 322.5 281.2 324.5 280.2 326.2 276.2 327.5 258.2 331.8 236.8 335.8 207.5 339.5 189.5 340.5 189.2 340.8 182.8 340.8 182.5 341.2 180.2 341.2 179.5 339.5 174.8 339.5 174.2 338.9 120.2 348.7 53.2 359.5 51.8 361.5Z"/>
<path fill-rule="evenodd" fill="#4ff762" d="M47.8 360.8 45.2 360.5 43.5 359.5 42.8 358.2 43.5 356.5 55.5 342.2 67.2 331.2 77.8 323.5 87.2 318.5 97.2 314.8 106.5 312.8 121.8 312.5 132.5 313.8 151.5 314.8 151.8 315.2 182.2 315.8 182.5 315.5 195.8 315.5 196.2 315.2 207.8 314.8 208.2 314.5 223.2 313.5 231.8 312.2 241.8 311.8 253.5 313.2 263.8 315.8 271.2 318.5 279.8 322.5 281.2 324.5 280.2 326.2 276.2 327.5 258.2 331.8 236.8 335.8 207.5 339.5 189.5 340.5 189.2 340.8 182.8 340.8 182.5 341.2 180.2 341.2 179.5 339.5 174.8 339.5 173.1 338.2 117.8 348 49.2 359 47.8 360.8Z"/>
<path fill-rule="evenodd" fill="#49f64b" d="M43.8 359.7 42.8 358.2 43.5 356.5 52.2 345.8 61.5 336.2 72.8 326.8 81.8 321.2 89.5 317.5 97.2 314.8 106.5 312.8 121.8 312.5 132.5 313.8 151.5 314.8 151.8 315.2 182.2 315.8 182.5 315.5 195.8 315.5 196.2 315.2 207.8 314.8 208.2 314.5 223.2 313.5 231.8 312.2 241.8 311.8 253.5 313.2 263.8 315.8 271.2 318.5 279.8 322.5 281.2 324.5 280.8 325.5 279.5 326.5 264.2 330.5 246.5 334.2 232.5 336.5 207.5 339.5 189.5 340.5 189.2 340.8 182.8 340.8 182.5 341.2 180.2 341.2 179.5 339.5 174.8 339.5 172.2 337.4 115.8 347.3 45.2 358.4 43.8 359.7Z"/>
<path fill-rule="evenodd" fill="#43f533" d="M47.5 356.8 45.8 357.1 44.5 355.8 44.5 355.2 50.2 348.2 61.5 336.2 72.8 326.8 81.8 321.2 89.5 317.5 97.2 314.8 106.5 312.8 121.8 312.5 132.5 313.8 151.5 314.8 151.8 315.2 182.2 315.8 182.5 315.5 195.8 315.5 196.2 315.2 207.8 314.8 208.2 314.5 223.2 313.5 231.8 312.2 241.8 311.8 253.5 313.2 263.8 315.8 271.2 318.5 279.8 322.5 281.2 324.5 280.8 325.5 279.5 326.5 264.2 330.5 246.5 334.2 227.8 337.2 207.5 339.5 180.2 341.2 179.5 339.4 174.8 339.5 171.2 336.7 116.2 346.2 47.5 356.8Z"/>
<path fill-rule="evenodd" fill="#3ef51e" d="M48.5 355.5 46.8 355.7 45.5 354.2 50.2 348.2 61.5 336.2 72.8 326.8 81.8 321.2 89.5 317.5 97.2 314.8 106.5 312.8 121.8 312.5 132.5 313.8 151.5 314.8 151.8 315.2 182.2 315.8 182.5 315.5 195.8 315.5 196.2 315.2 207.8 314.8 208.2 314.5 223.2 313.5 231.8 312.2 241.8 311.8 253.5 313.2 263.8 315.8 271.2 318.5 279.8 322.5 281.2 324.5 280.8 325.5 279.5 326.5 264.2 330.5 246.5 334.2 227.8 337.2 207.5 339.5 180.2 341.2 179.5 339.4 174.8 339.4 170.2 336 116.2 345.2 48.5 355.5Z"/>
<path fill-rule="evenodd" fill="#3df519" d="M49.5 354.2 47.8 354.4 46.5 352.8 50.2 348.2 61.5 336.2 72.8 326.8 81.8 321.2 89.5 317.5 97.2 314.8 106.5 312.8 121.8 312.5 132.5 313.8 151.5 314.8 151.8 315.2 182.2 315.8 182.5 315.5 195.8 315.5 196.2 315.2 207.8 314.8 208.2 314.5 223.2 313.5 231.8 312.2 241.8 311.8 253.5 313.2 263.8 315.8 271.2 318.5 279.8 322.5 281.2 324.5 280.8 325.5 279.5 326.5 264.2 330.5 246.5 334.2 227.8 337.2 207.5 339.5 180.2 341.2 179.5 339.4 174.8 339.4 169.5 335.2 116.2 344.1 49.5 354.2Z"/>
<path fill-rule="evenodd" fill="#3df514" d="M50.5 352.8 48.2 353 47.2 351.8 55.5 342.2 61.5 336.2 72.8 326.8 81.8 321.2 91.2 316.8 102.5 313.5 109.2 312.5 121.8 312.5 132.5 313.8 151.5 314.8 151.8 315.2 182.2 315.8 182.5 315.5 195.8 315.5 196.2 315.2 207.8 314.8 208.2 314.5 223.2 313.5 231.8 312.2 241.8 311.8 253.5 313.2 263.8 315.8 271.2 318.5 279.8 322.5 281.2 324.5 280.2 326.2 278.5 326.8 258.2 331.8 236.8 335.8 217.2 338.5 199.8 339.8 199.5 340.2 180.3 341.2 179.5 339.4 174.8 339.4 168.3 334.5 116.2 343.1 50.5 352.8Z"/>
<path fill-rule="evenodd" fill="#3cf50f" d="M51.5 351.5 49.5 351.4 48.5 350.7 48.5 350.2 55.5 342.2 61.5 336.2 72.8 326.8 81.8 321.2 91.2 316.8 102.5 313.5 109.2 312.5 121.8 312.5 132.5 313.8 151.5 314.8 151.8 315.2 182.2 315.8 182.5 315.5 195.8 315.5 196.2 315.2 207.8 314.8 208.2 314.5 223.2 313.5 231.8 312.2 241.8 311.8 253.5 313.2 263.8 315.8 271.2 318.5 279.8 322.5 281.2 324.5 280.2 326.2 278.5 326.8 258.2 331.8 236.8 335.8 217.2 338.5 199.8 339.8 199.5 340.2 180.3 341.2 179.5 339.4 174.8 339.4 169.2 334.8 167.2 333.8 115.8 342.1 51.5 351.5Z"/>
<path fill-rule="evenodd" fill="#43f510" d="M52.5 350.2 51.2 350.4 49.8 348.8 55.5 342.2 67.2 331.2 77.8 323.5 91.2 316.8 102.5 313.5 109.2 312.5 121.8 312.5 132.5 313.8 151.5 314.8 151.8 315.2 182.2 315.8 182.5 315.5 195.8 315.5 196.2 315.2 207.8 314.8 208.2 314.5 223.2 313.5 231.8 312.2 241.8 311.8 253.5 313.2 263.8 315.8 271.2 318.5 279.8 322.5 281.2 324.5 280.2 326.2 278.5 326.8 258.2 331.8 236.8 335.8 217.2 338.5 199.8 339.8 199.5 340.2 180.3 341.2 179.5 339.4 174.8 339.4 169.2 334.8 166.2 333 115.8 341 52.5 350.2Z"/>
<path fill-rule="evenodd" fill="#4bf612" d="M53.5 348.8 52.2 349 50.8 347.5 55.5 342.2 67.2 331.2 77.8 323.5 91.2 316.8 102.5 313.5 109.2 312.5 121.8 312.5 132.5 313.8 151.5 314.8 151.8 315.2 182.2 315.8 182.5 315.5 195.8 315.5 196.2 315.2 207.8 314.8 208.2 314.5 223.2 313.5 231.8 312.2 241.8 311.8 253.5 313.2 263.8 315.8 271.2 318.5 279.8 322.5 281.2 324.5 280.2 326.2 278.5 326.8 258.2 331.8 236.8 335.8 214.2 338.8 199.8 339.8 199.5 340.2 195.2 340.2 194.8 340.5 180.3 341.2 179.5 339.4 174.8 339.4 169.2 334.8 165.2 332.3 115.5 340 53.5 348.8Z"/>
<path fill-rule="evenodd" fill="#53f613" d="M54.5 347.5 53.5 347.7 52.2 346.5 52.2 345.8 55.5 342.2 67.2 331.2 77.8 323.5 91.2 316.8 102.5 313.5 109.2 312.5 121.8 312.5 132.5 313.8 151.5 314.8 151.8 315.2 182.2 315.8 182.5 315.5 195.8 315.5 196.2 315.2 207.8 314.8 208.2 314.5 223.2 313.5 231.8 312.2 241.8 311.8 253.5 313.2 263.8 315.8 271.2 318.5 279.8 322.5 281.2 324.5 280.2 326.2 278.5 326.8 258.2 331.8 236.8 335.8 214.2 338.8 199.8 339.8 199.5 340.2 195.2 340.2 194.8 340.5 180.3 341.2 179.5 339.4 174.8 339.4 164.5 331.5 115.8 338.9 54.5 347.5Z"/>
<path fill-rule="evenodd" fill="#5df616" d="M55.5 346.2 54.5 346.3 53.2 344.8 55.5 342.2 67.2 331.2 77.8 323.5 91.2 316.8 102.5 313.5 109.2 312.5 121.8 312.5 132.5 313.8 151.5 314.8 151.8 315.2 182.2 315.8 182.5 315.5 195.8 315.5 196.2 315.2 207.8 314.8 208.2 314.5 223.2 313.5 231.8 312.2 241.8 311.8 253.5 313.2 263.8 315.8 271.2 318.5 279.8 322.5 281.2 324.5 280.2 326.2 278.5 326.8 258.2 331.8 232.5 336.5 207.5 339.5 180.3 341.2 179.5 339.4 174.8 339.4 169.2 334.8 163.1 330.8 115.5 338 55.5 346.2Z"/>
<path fill-rule="evenodd" fill="#68f719" d="M56.8 344.8 55.8 345 54.5 343.7 55.5 342.2 67.2 331.2 77.8 323.5 91.2 316.8 102.5 313.5 109.2 312.5 121.8 312.5 132.5 313.8 151.5 314.8 151.8 315.2 182.2 315.8 182.5 315.5 195.8 315.5 196.2 315.2 207.8 314.8 208.2 314.5 223.2 313.5 231.8 312.2 241.8 311.8 253.5 313.2 263.8 315.8 271.2 318.5 279.8 322.5 281.2 324.5 280.2 326.2 278.5 326.8 258.2 331.8 232.5 336.5 207.5 339.5 180.3 341.2 179.5 339.4 174.8 339.4 169.2 334.7 162.5 330.2 161.8 330.1 56.8 344.8Z"/>
<path fill-rule="evenodd" fill="#73f81c" d="M57.8 343.5 56.5 343.4 55.5 342.7 55.5 342.2 67.2 331.2 77.8 323.5 91.2 316.8 102.5 313.5 109.2 312.5 121.8 312.5 132.5 313.8 151.5 314.8 151.8 315.2 182.2 315.8 182.5 315.5 195.8 315.5 196.2 315.2 207.8 314.8 208.2 314.5 223.2 313.5 231.8 312.2 241.8 311.8 253.5 313.2 263.8 315.8 271.2 318.5 279.8 322.5 281.2 324.5 280.2 326.2 278.5 326.8 258.2 331.8 232.5 336.5 207.5 339.5 180.3 341.2 179.5 339.3 174.8 339.3 169.2 334.7 160.8 329.4 57.8 343.5Z"/>
<path fill-rule="evenodd" fill="#7ef820" d="M59.2 342.2 58.2 342.3 56.8 340.8 61.5 336.2 68.8 329.8 79.5 322.5 91.2 316.8 102.5 313.5 109.2 312.5 121.8 312.5 132.5 313.8 151.5 314.8 151.8 315.2 182.2 315.8 182.5 315.5 195.8 315.5 196.2 315.2 207.8 314.8 208.2 314.5 223.2 313.5 231.8 312.2 241.8 311.8 253.5 313.2 263.8 315.8 271.2 318.5 279.8 322.5 281.2 324.5 280.2 326.2 276.2 327.5 246.5 334.2 227.8 337.2 199.5 340.2 180.3 341.2 179.5 339.3 174.8 339.3 169.2 334.7 159.8 328.6 59.2 342.2Z"/>
<path fill-rule="evenodd" fill="#8bf923" d="M182.5 341.2 180.4 341.2 179.5 339.3 174.8 339.3 169.2 334.7 158.8 327.9 59.5 340.9 58.2 339.5 68.8 329.8 81.8 321.2 89.5 317.5 97.2 314.8 109.2 312.5 121.8 312.5 132.5 313.8 151.5 314.8 151.8 315.2 182.2 315.8 182.5 315.5 195.8 315.5 196.2 315.2 207.8 314.8 208.2 314.5 223.2 313.5 231.8 312.2 241.8 311.8 253.5 313.2 263.8 315.8 271.2 318.5 279.8 322.5 281.2 324.5 280.2 326.2 276.2 327.5 258.2 331.8 240.8 335.2 214.2 338.8 199.8 339.8 199.5 340.2 195.2 340.2 194.8 340.5 182.8 340.8 182.5 341.2Z"/>
<path fill-rule="evenodd" fill="#97fa26" d="M182.5 341.2 180.4 341.2 179.5 339.3 174.8 339.3 164.5 331.4 157.5 327.2 60.8 339.6 59.5 338.2 68.8 329.8 81.8 321.2 89.5 317.5 97.2 314.8 109.2 312.5 121.8 312.5 132.5 313.8 151.5 314.8 151.8 315.2 182.2 315.8 182.5 315.5 195.8 315.5 196.2 315.2 207.8 314.8 208.2 314.5 223.2 313.5 231.8 312.2 241.8 311.8 253.5 313.2 263.8 315.8 271.2 318.5 279.8 322.5 281.2 324.5 280.2 326.2 276.2 327.5 258.2 331.8 240.8 335.2 214.2 338.8 199.8 339.8 199.5 340.2 195.2 340.2 194.8 340.5 182.8 340.8 182.5 341.2Z"/>
<path fill-rule="evenodd" fill="#a5fa29" d="M182.5 341.2 180.4 341.2 179.5 339.3 174.8 339.3 164.5 331.4 156.5 326.5 62.2 338.3 60.8 336.8 72.8 326.8 81.8 321.2 89.5 317.5 97.2 314.8 109.2 312.5 121.8 312.5 132.5 313.8 151.5 314.8 151.8 315.2 182.2 315.8 182.5 315.5 195.8 315.5 196.2 315.2 207.8 314.8 208.2 314.5 223.2 313.5 231.8 312.2 241.8 311.8 253.5 313.2 263.8 315.8 271.2 318.5 279.8 322.5 281.2 324.5 280.2 326.2 276.2 327.5 258.2 331.8 240.8 335.2 214.2 338.8 199.8 339.8 199.5 340.2 195.2 340.2 194.8 340.5 182.8 340.8 182.5 341.2Z"/>
<path fill-rule="evenodd" fill="#b4fa2c" d="M182.5 341.2 180.4 341.2 179.5 339.3 174.8 339.3 164.5 331.4 154.8 325.8 63.8 336.9 62.5 335.5 67.2 331.2 72.8 326.8 79.5 322.5 87.2 318.5 97.2 314.8 109.2 312.5 121.8 312.5 132.5 313.8 151.5 314.8 151.8 315.2 182.2 315.8 182.5 315.5 195.8 315.5 196.2 315.2 207.8 314.8 208.2 314.5 223.2 313.5 231.8 312.2 241.8 311.8 253.5 313.2 263.8 315.8 277.2 321.2 279.8 322.5 281.2 324.5 280.2 326.2 276.2 327.5 258.2 331.8 240.8 335.2 214.2 338.8 199.8 339.8 199.5 340.2 195.2 340.2 194.8 340.5 182.8 340.8 182.5 341.2Z"/>
<path fill-rule="evenodd" fill="#c4fa2f" d="M182.5 341.2 180.4 341.2 179.5 339.3 174.8 339.3 164.5 331.4 157.2 326.8 153.5 325.1 65.2 335.6 63.8 334.2 72.8 326.8 79.5 322.5 87.2 318.5 97.2 314.8 109.2 312.5 121.8 312.5 132.5 313.8 151.5 314.8 151.8 315.2 182.2 315.8 182.5 315.5 195.8 315.5 196.2 315.2 207.8 314.8 208.2 314.5 223.2 313.5 231.8 312.2 241.8 311.8 253.5 313.2 263.8 315.8 277.2 321.2 279.8 322.5 281.2 324.5 280.2 326.2 276.2 327.5 258.2 331.8 240.8 335.2 214.2 338.8 199.8 339.8 199.5 340.2 195.2 340.2 194.8 340.5 182.8 340.8 182.5 341.2Z"/>
<path fill-rule="evenodd" fill="#d3fa32" d="M182.5 341.2 180.4 341.2 179.5 339.3 174.8 339.3 169.2 334.6 162.5 330 154.8 325.5 152.2 324.4 66.8 334.2 65.5 332.8 68.8 329.8 77.8 323.5 87.2 318.5 97.2 314.8 109.2 312.5 121.8 312.5 132.5 313.8 151.5 314.8 151.8 315.2 182.2 315.8 182.5 315.5 195.8 315.5 196.2 315.2 207.8 314.8 208.2 314.5 223.2 313.5 231.8 312.2 241.8 311.8 242.2 312.2 249.5 312.5 260.5 314.8 269.5 317.8 279.2 322.2 278.5 323.9 271.9 326.5 272 328.5 246.5 334.2 232.5 336.5 214.2 338.8 199.8 339.8 199.5 340.2 195.2 340.2 194.8 340.5 182.8 340.8 182.5 341.2Z"/>
<path fill-rule="evenodd" fill="#e0fa34" d="M182.5 341.2 180.4 341.2 179.5 339.3 174.8 339.3 169.2 334.6 161.5 329.4 154.8 325.4 150.8 323.7 68.2 332.9 66.8 331.5 77.8 323.5 87.2 318.5 97.2 314.8 109.2 312.5 121.8 312.5 132.5 313.8 151.5 314.8 151.8 315.2 182.2 315.8 182.5 315.5 195.8 315.5 196.2 315.2 207.8 314.8 208.2 314.5 223.2 313.5 231.8 312.2 241.8 311.8 242.2 312.2 249.5 312.5 260.5 314.8 269.5 317.8 273.8 319.8 273.1 321.5 254 330.5 254.3 332.5 253.2 332.8 236.8 335.8 217.2 338.5 199.8 339.8 199.5 340.2 195.2 340.2 194.8 340.5 182.8 340.8 182.5 341.2Z"/>
<path fill-rule="evenodd" fill="#ecfa36" d="M182.5 341.2 180.4 341.2 179.5 339.2 174.8 339.2 169.2 334.6 161.5 329.4 154.8 325.4 149.5 323 69.8 331.5 68.5 330.2 77.8 323.5 87.2 318.5 97.2 314.8 109.2 312.5 121.8 312.5 132.5 313.8 151.5 314.8 151.8 315.2 182.2 315.8 182.5 315.5 195.8 315.5 196.2 315.2 207.8 314.8 223.5 313.2 225.1 313.2 226.2 314.9 226.4 312.8 228.1 312.8 229.2 314.6 229.5 314.5 229.5 312.5 230.7 312.5 231.8 314.3 232.7 314.2 232.7 312.2 241.8 311.8 255.2 313.5 267.5 317.2 266.8 318.9 240.6 333.2 240.6 335.2 214.2 338.8 199.8 339.8 199.5 340.2 195.2 340.2 194.8 340.5 182.8 340.8 182.5 341.2Z"/>
<path fill-rule="evenodd" fill="#f1f037" d="M182.5 341.2 180.4 341.2 179.5 339.2 174.8 339.2 169.2 334.6 161.5 329.3 154.8 325.4 148.2 322.3 71.8 330.2 70.8 328.5 79.5 322.5 89.5 317.5 97.2 314.8 109.2 312.5 121.8 312.5 128.8 313.5 145.8 314.5 146.2 314.8 159.2 315.2 159.5 315.5 173.2 315.5 173.5 315.8 195.8 315.5 196.2 315.2 202.5 315.2 202.8 314.8 215.5 314.2 216.5 315.9 216.6 313.8 219.1 313.8 220.1 315.5 220.8 315.5 220.8 313.5 222.3 313.5 223.5 315.3 225.2 315.2 225.2 313.5 225.2 314.2 226.2 315.1 246.8 314.3 247.6 312.5 254.5 313.5 254.2 315.5 254.8 316.2 254.9 317.2 252.9 319.8 245.2 325.5 229.7 334.8 229.7 336.8 207.5 339.5 189.5 340.5 189.2 340.8 182.8 340.8 182.5 341.2Z"/>
<path fill-rule="evenodd" fill="#efde37" d="M182.5 341.2 180.4 341.2 179.5 339.2 174.8 339.2 169.2 334.6 161.5 329.3 154.8 325.4 146.8 321.6 73.5 328.9 72.2 327.5 79.5 322.5 89.5 317.5 97.2 314.8 109.2 312.5 121.8 312.5 132.5 313.8 151.5 314.8 151.8 315.2 159.2 315.2 159.5 315.5 182.2 315.8 182.5 315.5 195.8 315.5 196.2 315.2 207.2 314.8 208.2 316.5 208.2 314.5 211.7 314.5 212.8 316.3 214.1 316.2 214.1 314.2 215.2 314.2 216.5 316.1 227.2 315.8 234.8 316.1 239.2 317 241.2 318.5 241 320.5 238.4 323.5 231.4 328.8 219.8 336.2 219.8 338.2 199.5 340.2 182.8 340.8 182.5 341.2Z"/>
<path fill-rule="evenodd" fill="#edc935" d="M182.5 341.2 180.5 341.2 179.5 339.2 174.8 339.2 169.2 334.6 158.8 327.7 151.5 323.7 145.2 321 75.5 327.5 74.5 325.8 81.8 321.2 91.2 316.8 102.5 313.5 109.2 312.5 121.8 312.5 132.5 313.8 151.5 314.8 151.8 315.2 159.2 315.2 159.5 315.5 182.2 315.8 182.5 315.5 201.7 315.2 202.8 316.9 203.8 316.8 203.8 314.8 206.9 314.8 208.2 316.8 223.3 317.2 227.8 318.2 230.1 319.8 229.9 322.2 227.6 325.2 221.4 330.2 210.7 337.2 210.7 339.2 195.2 340.2 194.8 340.5 182.8 340.8 182.5 341.2Z"/>
<path fill-rule="evenodd" fill="#ecb333" d="M182.5 341.2 180.5 341.2 179.5 339.2 174.8 339.2 169.2 334.6 158.8 327.6 150.8 323.4 143.8 320.3 77.5 326.2 76.4 324.8 76.8 324.2 81.8 321.2 91.2 316.8 102.5 313.5 109.2 312.5 121.8 312.5 132.5 313.8 151.5 314.8 151.8 315.2 159.2 315.2 159.5 315.5 181.5 315.8 182.5 315.5 195.1 315.5 196.2 317.3 207.2 317.3 215.1 318.2 218.4 319.2 220.3 320.8 220.3 323.2 218.1 326.2 212.2 331.2 202.4 337.8 202.4 339.8 189.5 340.5 189.2 340.8 182.8 340.8 182.5 341.2Z"/>
<path fill-rule="evenodd" fill="#eda330" d="M182.5 341.2 180.5 341.2 179.5 339.2 174.8 339.2 169.2 334.6 158.8 327.6 146.2 321.1 142.2 319.7 79.5 324.9 78.4 323.5 81.8 321.2 91.2 316.8 102.5 313.5 109.2 312.5 121.8 312.5 132.5 313.8 151.5 314.8 151.8 315.2 159.2 315.2 159.5 315.5 181.5 315.8 182.5 315.5 194.3 315.5 194.3 317.5 205.4 318.5 208.9 319.5 211.3 321.2 211.6 323.5 209.5 326.8 203.8 331.8 194.1 338.5 194.1 340.5 182.8 340.8 182.5 341.2Z"/>
<path fill-rule="evenodd" fill="#ee962d" d="M182.5 341.2 180.5 341.2 179.5 339.2 174.8 339.2 169.2 334.5 158.8 327.6 146.2 321.1 141.2 319.2 81.8 323.6 80.7 322.2 81.8 321.2 91.2 316.8 102.5 313.5 109.2 312.5 121.8 312.5 132.5 313.8 151.5 314.8 151.8 315.2 181.4 315.8 182.5 317.6 195.6 318.5 199.7 319.5 202.6 321.2 203.4 322.5 203.3 324.2 202.2 326.2 200.2 328.5 194.7 333.2 186.5 338.8 186.5 340.8 182.8 340.8 182.5 341.2Z"/>
<path fill-rule="evenodd" fill="#ef892a" d="M178.8 339.2 174.8 339.2 169.2 334.5 157.2 326.6 146.2 321 139.5 318.5 84.2 322.3 83 320.8 91.2 316.8 102.5 313.5 109.2 312.5 121.8 312.5 132.5 313.8 151.5 314.8 151.8 315.2 173 315.5 173.2 317.5 174.2 315.8 181.1 315.8 181.1 317.8 190.3 319.2 194.6 321.2 195.5 322.5 195.5 324.2 193.4 327.8 187.5 333.2 178.8 339.2Z"/>
<path fill-rule="evenodd" fill="#f17a26" d="M173.8 337.9 173.5 338.1 164.5 331.2 154.8 325.3 146.2 321 137.5 317.9 86.8 321.1 85.6 319.5 91.2 316.8 102.5 313.5 109.2 312.5 121.8 312.5 128.8 313.5 145.8 314.5 146.2 314.8 169.4 315.5 169.4 317.5 173.5 317.8 174.5 316.5 174.5 317.8 181.4 318.8 186.5 320.8 187.8 322.2 188.1 323.5 187.8 325.2 186.7 327.2 182.1 331.8 173.8 337.9Z"/>
<path fill-rule="evenodd" fill="#f36b22" d="M170.2 335.5 164.5 331.2 154.8 325.2 146.2 321 136.5 317.5 120.8 317.9 89.2 319.9 88.2 318.2 97.2 314.8 109.2 312.5 121.8 312.5 141.2 314.5 165.3 315.5 165.3 317.5 171.2 318.2 176.8 319.5 179.4 320.8 180.9 322.8 180.7 325.2 178.8 328.2 175 331.8 170.2 335.5Z"/>
<path fill-rule="evenodd" fill="#f55b1f" d="M166.5 332.8 161.5 329.2 154.8 325.2 143.8 320 134.2 316.8 92.2 318.7 91 317.2 97.2 314.8 109.2 312.5 121.8 312.5 141.2 314.5 157.5 315.2 157.5 317.2 159.2 317.4 159.7 317.2 160.5 315.5 161 315.5 161 317.5 170.3 319.5 172.6 320.8 173.8 322.5 173.9 324.5 172.5 327.2 169.5 330.5 166.5 332.8Z"/>
<path fill-rule="evenodd" fill="#f84b1b" d="M162.8 330.2 154.8 325.2 146.2 320.9 139.5 318.3 132.8 316.5 119.5 316.5 96.2 317.5 95.8 317.2 95.2 317.5 94.2 315.8 102.5 313.5 109.2 312.5 121.8 312.5 132.5 313.8 150.9 314.8 150.9 316.8 151.5 316.9 152 316.8 152.7 315.2 154.2 315.2 154.2 317.2 162.4 318.8 165.2 320.2 166.8 321.8 167.2 323.5 166.7 325.5 165.1 327.8 162.8 330.2Z"/>
<path fill-rule="evenodd" fill="#fa3c17" d="M158.5 327.5 154.8 325.2 146.2 320.9 139.5 318.3 131.5 316.1 121.8 315.8 99.8 316.4 98.6 314.5 109.2 312.5 121.8 312.5 132.5 313.8 145.1 314.5 145.1 316.5 145.8 316.6 146.3 316.5 147.1 314.8 148 314.8 148 316.8 155.8 318.5 159.7 320.8 160.5 322.2 160.5 323.8 158.5 327.5Z"/>
<path fill-rule="evenodd" fill="#fc2f13" d="M153.5 324.5 142.2 319.2 130.2 315.7 122.2 315.2 104.5 315.4 103.2 313.5 109.2 312.5 121.8 312.5 128.8 313.5 136.5 313.8 136.5 315.8 137.5 314.2 139.9 314.2 139.9 316.2 141.2 316.4 142.4 314.5 142.4 316.5 148.5 317.8 152.6 319.8 154.1 322.2 153.5 324.5Z"/>
<path fill-rule="evenodd" fill="#fd2711" d="M125.5 315 122.7 314.8 122.5 314.2 122.2 314.8 109.2 314.6 108.1 312.8 109.2 312.5 121.8 312.5 125.2 312.8 126.4 313.2 125.5 315ZM147.5 321.5 136.5 317.2 130.2 315.6 127.2 315.3 126.9 313.2 135 313.8 135 315.8 140.3 316.8 144.2 318.2 146.7 319.8 147.5 321.5Z"/>
<path fill-rule="evenodd" fill="#fe2210" d="M122.2 314.6 121.4 314.5 121.4 312.5 122.9 312.8 122.2 314.6ZM125.5 314.9 124.7 314.8 124.7 312.8 126.2 313.2 125.5 314.9ZM127.8 315.2 127.1 315.2 127.1 313.2 128 313.2 127.8 315.2ZM130.2 315.5 128.8 315.5 129.7 313.5 130.3 313.5 130.2 315.5ZM137.5 317.5 130.5 315.9 130.5 315.6 137.5 317.5ZM138.2 317.8 137.8 317.6 138.2 317.8Z"/>
</g>
<path fill="none" stroke="#000" stroke-width="0.9" d="M159.5 360.3 128 367.2M165.9 352.8 102.3 365.8M173 345.4 129.3 354 77.6 363.3M175.4 339 121.2 348.9 53.6 359.9M169 334.4 115.1 343.2 48.5 353.1M162.3 329.7 115 336.6 55.9 344.5M154.9 325.1 64.7 335.8M208.9 337.4 218 331.5 224.4 326.5 227.6 322.9 228.2 321.4 228.2 320.4 227.6 319.5 226.3 318.6 221.8 317.4 214.4 316.8 203.4 316.9M146.6 320.7 75.5 327.3M168.1 334 172.5 330.3 175.3 327.3 176.6 324.7 176.6 322.5 175.2 320.8 172.2 319.3 167.8 318.2 161.5 317.4M159.1 317.2 157.9 317.1M135.5 317 90.5 319.2"/>
<line x1="47.9" y1="434.2" x2="40.6" y2="273" stroke="#333" stroke-width="0.9"/>
<line x1="44" y1="407.2" x2="46.7" y2="407.2" stroke="#333" stroke-width="0.9"/>
<text transform="matrix(0.740 -0.246 -0.000 1.000 42.1 411.4)" font-size="12" text-anchor="end">0.0</text>
<line x1="42.3" y1="370.3" x2="45" y2="370.3" stroke="#333" stroke-width="0.9"/>
<text transform="matrix(0.751 -0.212 -0.000 1.000 40.4 374.5)" font-size="12" text-anchor="end">0.1</text>
<line x1="40.6" y1="332.4" x2="43.3" y2="332.4" stroke="#333" stroke-width="0.9"/>
<text transform="matrix(0.760 -0.177 -0.000 1.000 38.7 336.6)" font-size="12" text-anchor="end">0.2</text>
<line x1="38.8" y1="293.3" x2="41.5" y2="293.3" stroke="#333" stroke-width="0.9"/>
<text transform="matrix(0.767 -0.139 -0.000 1.000 36.9 297.5)" font-size="12" text-anchor="end">0.3</text>
<line x1="47.9" y1="434.2" x2="42.9" y2="436" stroke="#333" stroke-width="0.8"/>
<text transform="matrix(0.846 -0.432 0.275 0.479 41.7 436.5)" font-size="11" text-anchor="end" dy="3">4</text>
<line x1="76.1" y1="444.1" x2="71.1" y2="446" stroke="#333" stroke-width="0.8"/>
<text transform="matrix(0.846 -0.432 0.275 0.479 69.9 446.5)" font-size="11" text-anchor="end" dy="3">8</text>
<line x1="106.4" y1="454.6" x2="101.5" y2="456.8" stroke="#333" stroke-width="0.8"/>
<text transform="matrix(0.846 -0.432 0.275 0.479 100.3 457.3)" font-size="11" text-anchor="end" dy="3">12</text>
<line x1="139.1" y1="466.1" x2="134.3" y2="468.3" stroke="#333" stroke-width="0.8"/>
<text transform="matrix(0.846 -0.432 0.275 0.479 133 468.9)" font-size="11" text-anchor="end" dy="3">16</text>
<line x1="174.5" y1="478.4" x2="169.7" y2="480.9" stroke="#333" stroke-width="0.8"/>
<text transform="matrix(0.846 -0.432 0.275 0.479 168.5 481.5)" font-size="11" text-anchor="end" dy="3">20</text>
<line x1="174.5" y1="478.4" x2="179.7" y2="480.2" stroke="#333" stroke-width="0.8"/>
<text transform="matrix(0.897 0.313 0.225 0.445 178.9 479.9)" font-size="11" text-anchor="start" dy="2.6">10</text>
<line x1="229.2" y1="450.5" x2="234.2" y2="452" stroke="#333" stroke-width="0.8"/>
<text transform="matrix(0.897 0.313 0.225 0.445 233.5 451.8)" font-size="11" text-anchor="start" dy="2.6">20</text>
<line x1="275.2" y1="427" x2="280.1" y2="428.3" stroke="#333" stroke-width="0.8"/>
<text transform="matrix(0.897 0.313 0.225 0.445 279.4 428.1)" font-size="11" text-anchor="start" dy="2.6">30</text>
<text transform="matrix(0.944 0.330 -0.310 0.539 85.3 464.3)" font-size="13.5" text-anchor="middle" dy="4.3">BTA (g/L)</text>
<text transform="matrix(0.891 -0.455 0.525 0.532 253.8 458.8)" font-size="12.48" text-anchor="middle" dy="3.6">H<tspan font-size="10" dy="1.5">2</tspan><tspan dy="-1.5">O</tspan><tspan font-size="10" dy="1.5">2</tspan><tspan dy="-1.5"> (ml)</tspan></text>
<defs><linearGradient id="cbB" x1="0" y1="0" x2="0" y2="1"><stop offset="0.000" stop-color="#ff1e0f"/><stop offset="0.025" stop-color="#fe2110"/><stop offset="0.050" stop-color="#fd2811"/><stop offset="0.075" stop-color="#fa3715"/><stop offset="0.100" stop-color="#f7501c"/><stop offset="0.125" stop-color="#f46922"/><stop offset="0.150" stop-color="#f08228"/><stop offset="0.175" stop-color="#ee972d"/><stop offset="0.200" stop-color="#ecac32"/><stop offset="0.225" stop-color="#eed036"/><stop offset="0.250" stop-color="#f1ee37"/><stop offset="0.275" stop-color="#e6fa35"/><stop offset="0.300" stop-color="#d2fa32"/><stop offset="0.325" stop-color="#b9fa2d"/><stop offset="0.350" stop-color="#a0fa28"/><stop offset="0.375" stop-color="#8cf923"/><stop offset="0.400" stop-color="#78f81e"/><stop offset="0.425" stop-color="#66f719"/><stop offset="0.450" stop-color="#55f614"/><stop offset="0.475" stop-color="#48f611"/><stop offset="0.500" stop-color="#3cf50e"/><stop offset="0.525" stop-color="#3df516"/><stop offset="0.550" stop-color="#3ef51e"/><stop offset="0.575" stop-color="#48f643"/><stop offset="0.600" stop-color="#51f769"/><stop offset="0.625" stop-color="#5bf88e"/><stop offset="0.650" stop-color="#66fab4"/><stop offset="0.675" stop-color="#6ffcd7"/><stop offset="0.700" stop-color="#74feed"/><stop offset="0.725" stop-color="#76fcff"/><stop offset="0.750" stop-color="#6cedff"/><stop offset="0.775" stop-color="#61daff"/><stop offset="0.800" stop-color="#52baff"/><stop offset="0.825" stop-color="#449aff"/><stop offset="0.850" stop-color="#3a7bff"/><stop offset="0.875" stop-color="#2f5bff"/><stop offset="0.900" stop-color="#293fff"/><stop offset="0.925" stop-color="#2423ff"/><stop offset="0.950" stop-color="#2215ff"/><stop offset="0.975" stop-color="#200bff"/><stop offset="1.000" stop-color="#1e00ff"/></linearGradient></defs>
<rect x="291" y="269.6" width="15.9" height="152.8" fill="url(#cbB)" stroke="#444" stroke-width="0.8"/>
<line x1="306.9" y1="271.4" x2="310.4" y2="271.4" stroke="#333" stroke-width="0.9"/>
<text x="313.9" y="274.6" font-size="9.3">0.2850</text>
<line x1="306.9" y1="286.4" x2="310.4" y2="286.4" stroke="#333" stroke-width="0.9"/>
<text x="313.9" y="289.6" font-size="9.3">0.2577</text>
<line x1="306.9" y1="301.4" x2="310.4" y2="301.4" stroke="#333" stroke-width="0.9"/>
<text x="313.9" y="304.6" font-size="9.3">0.2304</text>
<line x1="306.9" y1="316.4" x2="310.4" y2="316.4" stroke="#333" stroke-width="0.9"/>
<text x="313.9" y="319.6" font-size="9.3">0.2031</text>
<line x1="306.9" y1="331.4" x2="310.4" y2="331.4" stroke="#333" stroke-width="0.9"/>
<text x="313.9" y="334.6" font-size="9.3">0.1758</text>
<line x1="306.9" y1="346.4" x2="310.4" y2="346.4" stroke="#333" stroke-width="0.9"/>
<text x="313.9" y="349.6" font-size="9.3">0.1485</text>
<line x1="306.9" y1="361.5" x2="310.4" y2="361.5" stroke="#333" stroke-width="0.9"/>
<text x="313.9" y="364.6" font-size="9.3">0.1212</text>
<line x1="306.9" y1="376.5" x2="310.4" y2="376.5" stroke="#333" stroke-width="0.9"/>
<text x="313.9" y="379.6" font-size="9.3">0.09390</text>
<line x1="306.9" y1="391.5" x2="310.4" y2="391.5" stroke="#333" stroke-width="0.9"/>
<text x="313.9" y="394.6" font-size="9.3">0.06660</text>
<line x1="306.9" y1="406.5" x2="310.4" y2="406.5" stroke="#333" stroke-width="0.9"/>
<text x="313.9" y="409.7" font-size="9.3">0.03930</text>
<line x1="306.9" y1="421.5" x2="310.4" y2="421.5" stroke="#333" stroke-width="0.9"/>
<text x="313.9" y="424.7" font-size="9.3">0.01200</text>
<polyline fill="none" points="46.9,665.4 154.3,630 276.4,658.8" stroke="#e6e6e6" stroke-width="0.7"/>
<polyline fill="none" points="45.3,628.4 154.3,598 278,622.7" stroke="#e6e6e6" stroke-width="0.7"/>
<polyline fill="none" points="43.6,590.4 154.2,565.2 279.8,585.6" stroke="#e6e6e6" stroke-width="0.7"/>
<polyline fill="none" points="41.9,551.2 154.2,531.6 281.5,547.4" stroke="#e6e6e6" stroke-width="0.7"/>
<line x1="72.1" y1="683.4" x2="66.7" y2="527.5" stroke="#e6e6e6" stroke-width="0.7"/>
<line x1="94.6" y1="675.1" x2="90.7" y2="523.9" stroke="#e6e6e6" stroke-width="0.7"/>
<line x1="115.7" y1="667.4" x2="113.2" y2="520.6" stroke="#e6e6e6" stroke-width="0.7"/>
<line x1="135.6" y1="660.1" x2="134.3" y2="517.4" stroke="#e6e6e6" stroke-width="0.7"/>
<line x1="181.8" y1="660.4" x2="183" y2="517.5" stroke="#e6e6e6" stroke-width="0.7"/>
<line x1="210.9" y1="668.1" x2="213.9" y2="520.8" stroke="#e6e6e6" stroke-width="0.7"/>
<line x1="242" y1="676.2" x2="247" y2="524.2" stroke="#e6e6e6" stroke-width="0.7"/>
<polyline fill="none" points="41,531.3 154.1,514.5 282.4,527.9" stroke="#999" stroke-width="0.8"/>
<line x1="154.4" y1="653.3" x2="154.1" y2="514.5" stroke="#aaa" stroke-width="0.7"/>
<line x1="275.2" y1="684.9" x2="282.4" y2="527.9" stroke="#aaa" stroke-width="0.7"/>
<mask id="cl5" maskUnits="userSpaceOnUse" x="0" y="0" width="685" height="746"><path fill="#fff" d="M48.1 692.1 174.9 736.2 275.2 684.9 154.4 653.3Z"/></mask>
<g mask="url(#cl5)">
<path fill="#1e00ff" d="M48.1 692.1 174.9 736.2 275.2 684.9 154.4 653.3Z"/>
<path fill-rule="evenodd" fill="#1e00ff" d="M281.8 684.7 153.9 651.5 118.9 664.2 101 672.4 80.6 680.7 44.3 693.5 175.7 739.6 281.8 684.7Z"/>
<path fill-rule="evenodd" fill="#1f06ff" d="M281.8 684.7 153.9 651.5 123 662.7 104.3 671.5 83.6 680 65.2 686.8 45 693.7 175.7 739.6 281.8 684.7Z"/>
<path fill-rule="evenodd" fill="#200dff" d="M281.8 684.7 153.9 651.5 126.8 661.3 108.1 670.4 86.7 679.3 67.2 686.6 45.7 693.9 175.7 739.6 281.8 684.7Z"/>
<path fill-rule="evenodd" fill="#2113ff" d="M281.8 684.7 153.9 651.5 130.3 660 111.3 669.5 89.1 678.9 69.2 686.4 46.4 694.2 175.7 739.6 281.8 684.7Z"/>
<path fill-rule="evenodd" fill="#221aff" d="M281.8 684.7 153.9 651.5 133.5 658.9 114.4 668.6 92.2 678.2 71.2 686.2 47.1 694.4 175.7 739.6 281.8 684.7Z"/>
<path fill-rule="evenodd" fill="#2425ff" d="M281.8 684.7 153.9 651.5 136.6 657.7 117.1 667.9 94.6 677.8 72.6 686.2 47.8 694.7 175.7 739.6 281.8 684.7Z"/>
<path fill-rule="evenodd" fill="#2736ff" d="M281.8 684.7 153.9 651.5 139.5 656.7 120.2 667 97.6 677.1 74.6 686 48.5 694.9 175.7 739.6 281.8 684.7Z"/>
<path fill-rule="evenodd" fill="#2b48ff" d="M281.8 684.7 153.9 651.5 142.3 655.7 122.8 666.3 100 676.7 76.7 685.8 49.2 695.2 175.7 739.6 281.8 684.7Z"/>
<path fill-rule="evenodd" fill="#2e59ff" d="M281.8 684.7 153.9 651.5 144.9 654.7 125.3 665.7 102.4 676.2 78.1 685.8 50 695.5 175.7 739.6 281.8 684.7Z"/>
<path fill-rule="evenodd" fill="#356dff" d="M281.8 684.7 153.9 651.5 147.4 653.8 138.1 659.4 127.9 665 105.3 675.6 80.1 685.6 50.7 695.7 175.7 739.6 281.8 684.7Z"/>
<path fill-rule="evenodd" fill="#3b80ff" d="M281.8 684.7 153.9 651.5 149.8 652.9 138.9 659.7 127.4 665.9 107.2 675.4 81.5 685.6 51.5 696 175.7 739.6 281.8 684.7Z"/>
<path fill-rule="evenodd" fill="#4294ff" d="M281.8 684.7 153.9 651.5 152.2 652.1 141.9 658.5 131.2 664.6 110.1 674.7 83.5 685.4 52.2 696.2 175.7 739.6 281.8 684.7Z"/>
<path fill-rule="evenodd" fill="#4aa8ff" d="M281.8 684.7 154.1 651.5 144.6 657.6 134.5 663.4 123.6 669.1 112 674.5 85 685.5 53 696.5 175.7 739.6 281.8 684.7Z"/>
<path fill-rule="evenodd" fill="#53bcff" d="M281.8 684.7 154.9 651.7 145.7 657.6 135.7 663.4 124.9 669.1 112.8 674.8 85.8 685.7 53.8 696.8 175.7 739.6 281.8 684.7Z"/>
<path fill-rule="evenodd" fill="#5cd0ff" d="M281.8 684.7 155.6 651.9 146.2 658.1 136.2 663.9 125.3 669.6 113.7 675 86.7 686 54.6 697.1 175.7 739.6 281.8 684.7Z"/>
<path fill-rule="evenodd" fill="#65e3ff" d="M281.8 684.7 156.4 652.1 147.4 658.1 137.4 663.9 126.6 669.6 114.5 675.3 87.5 686.3 55.4 697.4 175.7 739.6 281.8 684.7Z"/>
<path fill-rule="evenodd" fill="#6becff" d="M281.8 684.7 157.2 652.3 147.8 658.5 137.9 664.4 127.1 670.1 115.4 675.6 88.4 686.6 56.2 697.6 175.7 739.6 281.8 684.7Z"/>
<path fill-rule="evenodd" fill="#72f5ff" d="M281.8 684.7 158 652.5 149 658.5 139.2 664.4 128.4 670.1 116.3 675.8 89.2 686.9 57 697.9 175.7 739.6 281.8 684.7Z"/>
<path fill-rule="evenodd" fill="#78ffff" d="M281.8 684.7 158.8 652.7 149.5 659 139.6 664.9 128.9 670.6 117.2 676.1 90.1 687.1 57.8 698.2 175.7 739.6 281.8 684.7Z"/>
<path fill-rule="evenodd" fill="#75fef1" d="M281.8 684.7 159.6 652.9 150.8 659 140.9 664.9 130.2 670.6 118.2 676.4 91 687.4 58.7 698.5 175.7 739.6 281.8 684.7Z"/>
<path fill-rule="evenodd" fill="#72fde3" d="M281.8 684.7 160.5 653.2 151.3 659.5 141.5 665.4 130.7 671.1 119.1 676.7 106.2 682.2 92 687.7 59.5 698.8 175.7 739.6 281.8 684.7Z"/>
<path fill-rule="evenodd" fill="#6ffcd5" d="M281.8 684.7 161.3 653.4 152.5 659.5 142.8 665.4 131.7 671.4 120.1 676.9 107.1 682.5 92.9 688 60.4 699.1 175.7 739.6 281.8 684.7Z"/>
<path fill-rule="evenodd" fill="#69fbc0" d="M281.8 684.7 162.2 653.6 153.1 659.9 143.3 665.9 132.6 671.7 121 677.2 108.1 682.8 93.8 688.3 61.3 699.4 175.7 739.6 281.8 684.7Z"/>
<path fill-rule="evenodd" fill="#62faa8" d="M281.8 684.7 163 653.8 154 660.2 144.3 666.2 133.6 672 122 677.5 109.1 683.1 94.8 688.7 62.2 699.7 175.7 739.6 281.8 684.7Z"/>
<path fill-rule="evenodd" fill="#5cf891" d="M281.8 684.7 163.9 654.1 154.9 660.4 145.3 666.4 134.6 672.3 123 677.8 110.1 683.4 96.4 688.7 63.1 700.1 175.7 739.6 281.8 684.7Z"/>
<path fill-rule="evenodd" fill="#55f779" d="M281.8 684.7 164.8 654.3 155.9 660.7 146.3 666.7 135.6 672.6 124.1 678.1 111.1 683.7 97.4 689.1 64 700.4 175.7 739.6 281.8 684.7Z"/>
<path fill-rule="evenodd" fill="#4ff762" d="M281.8 684.7 165.7 654.5 156.9 661 147.3 667 136.7 672.9 125.1 678.5 112.7 683.8 98.4 689.4 64.9 700.7 175.7 739.6 281.8 684.7Z"/>
<path fill-rule="evenodd" fill="#49f64b" d="M281.8 684.7 166.7 654.8 157.9 661.2 148.3 667.3 137.7 673.2 126.2 678.8 113.8 684.1 99.4 689.7 65.9 701 175.7 739.6 281.8 684.7Z"/>
<path fill-rule="evenodd" fill="#43f533" d="M281.8 684.7 167.6 655 158.9 661.5 149.8 667.4 139.3 673.2 127.8 678.9 114.9 684.5 100.5 690.1 66.8 701.4 175.7 739.6 281.8 684.7Z"/>
<path fill-rule="evenodd" fill="#3ef51e" d="M281.8 684.7 168.6 655.3 159.9 661.8 150.4 667.9 140.4 673.6 128.9 679.2 116 684.8 101.6 690.4 67.8 701.7 175.7 739.6 281.8 684.7Z"/>
<path fill-rule="evenodd" fill="#3df519" d="M281.8 684.7 169.6 655.5 160.9 662.1 151.5 668.2 141.5 673.9 130 679.6 117.1 685.2 102.7 690.8 68.8 702.1 175.7 739.6 281.8 684.7Z"/>
<path fill-rule="evenodd" fill="#3df514" d="M281.8 684.7 170.6 655.8 162 662.3 152.7 668.5 142.6 674.2 131.2 679.9 118.2 685.5 103.8 691.1 69.8 702.4 175.7 739.6 281.8 684.7Z"/>
<path fill-rule="evenodd" fill="#3cf50f" d="M281.8 684.7 171.6 656 163.1 662.6 153.8 668.8 143.8 674.6 132.4 680.3 119.4 685.9 104.9 691.5 70.8 702.8 175.7 739.6 281.8 684.7Z"/>
<path fill-rule="evenodd" fill="#43f510" d="M281.8 684.7 172.6 656.3 164.2 662.9 155 669.2 145 674.9 133.6 680.6 121.2 686 106.7 691.6 90.1 697.4 71.9 703.1 175.7 739.6 281.8 684.7Z"/>
<path fill-rule="evenodd" fill="#4bf612" d="M281.8 684.7 173.7 656.6 165.4 663.3 156.2 669.5 146.3 675.3 134.9 681 122.4 686.4 107.9 692 91.9 697.6 73 703.5 175.7 739.6 281.8 684.7Z"/>
<path fill-rule="evenodd" fill="#53f613" d="M281.8 684.7 174.7 656.9 166.5 663.6 157.4 669.8 147.6 675.6 136.1 681.4 123.7 686.8 109.2 692.4 93.1 698 74 703.9 175.7 739.6 281.8 684.7Z"/>
<path fill-rule="evenodd" fill="#5df616" d="M281.8 684.7 175.9 657.1 167.7 663.9 158.7 670.2 148.9 676 137.5 681.8 125 687.2 110.4 692.8 94.3 698.4 75.2 704.3 175.7 739.6 281.8 684.7Z"/>
<path fill-rule="evenodd" fill="#68f719" d="M281.8 684.7 177 657.4 169 664.2 160 670.6 149.8 676.7 138.8 682.2 126.3 687.6 111.7 693.2 95.5 698.8 76.3 704.7 175.7 739.6 281.8 684.7Z"/>
<path fill-rule="evenodd" fill="#73f81c" d="M281.8 684.7 178.1 657.7 170.2 664.6 161.4 670.9 151.2 677.1 140.2 682.6 127.7 688.1 113 693.7 96.8 699.2 77.5 705.1 175.7 739.6 281.8 684.7Z"/>
<path fill-rule="evenodd" fill="#7ef820" d="M281.8 684.7 179.3 658.1 171.5 664.9 162.8 671.3 153.1 677.2 141.7 683 129.2 688.5 114.4 694.1 98 699.6 78.6 705.5 175.7 739.6 281.8 684.7Z"/>
<path fill-rule="evenodd" fill="#8bf923" d="M281.8 684.7 180.5 658.4 172.6 665.5 163.8 672 154.1 677.9 143.2 683.5 130.6 689 115.8 694.6 99.4 700.1 79.9 705.9 175.7 739.6 281.8 684.7Z"/>
<path fill-rule="evenodd" fill="#97fa26" d="M281.8 684.7 181.8 658.7 174 665.9 165.7 672.2 156.1 678.1 144.7 684 132.2 689.4 117.9 694.8 100.7 700.5 81.1 706.4 175.7 739.6 281.8 684.7Z"/>
<path fill-rule="evenodd" fill="#a5fa29" d="M281.8 684.7 183.1 659 175.7 666 167.2 672.6 157.7 678.6 146.9 684.2 134.3 689.7 119.4 695.3 102.1 701 82.4 706.8 175.7 739.6 281.8 684.7Z"/>
<path fill-rule="evenodd" fill="#b4fa2c" d="M281.8 684.7 184.4 659.4 176.9 666.7 168.8 673 159.4 679.1 148.6 684.7 136 690.2 121 695.8 103.6 701.5 83.7 707.3 175.7 739.6 281.8 684.7Z"/>
<path fill-rule="evenodd" fill="#c4fa2f" d="M281.8 684.7 185.8 659.7 178.7 666.9 170.5 673.5 161.1 679.6 150.3 685.2 137.7 690.8 123.3 696.1 105.8 701.8 85 707.8 175.7 739.6 281.8 684.7Z"/>
<path fill-rule="evenodd" fill="#d3fa32" d="M281.8 684.7 187.2 660.1 180.1 667.5 171.9 674.3 162.6 680.4 152.2 685.8 139.5 691.3 125 696.6 107.3 702.3 86.4 708.2 175.7 739.6 281.8 684.7Z"/>
<path fill-rule="evenodd" fill="#e0fa34" d="M281.8 684.7 188.7 660.5 181.5 668.3 173.8 674.8 164.5 680.9 154.2 686.4 141.4 691.9 126.8 697.2 109.7 702.6 87.8 708.7 175.7 739.6 235.4 708.7 242.4 703.9 250.9 699.1 260.1 694.7 271.1 690.2 281.8 684.7Z"/>
<path fill-rule="evenodd" fill="#ecfa36" d="M281.8 684.7 190.2 660.9 183.2 668.7 175.7 675.3 167 681.3 156.8 686.8 144 692.3 129.3 697.6 110.6 703.4 89.3 709.3 175.7 739.6 226.5 713.3 236 705.8 247.5 698.9 260 693.2 278.6 686.3 281.8 684.7Z"/>
<path fill-rule="evenodd" fill="#f1f037" d="M280.3 684.3 191.8 661.3 185.1 669.2 177.8 675.9 169.2 681.9 159 687.4 146.8 692.7 131.3 698.2 113.2 703.7 90.8 709.8 175.7 739.6 219.7 716.8 224.7 711.9 230 707.4 236 703.3 243 699.2 257.7 692.6 280.9 684.5 280.3 684.3Z"/>
<path fill-rule="evenodd" fill="#efde37" d="M278.9 683.9 193.4 661.7 187.1 669.8 179.7 676.8 171.6 682.6 161.4 688.2 149.1 693.4 134.1 698.7 115.8 704.1 92.4 710.4 175.7 739.6 213.8 719.9 219.1 713.7 224.9 708.4 231 703.9 238.4 699.5 246 695.8 255.2 691.9 278.9 683.9Z"/>
<path fill-rule="evenodd" fill="#edc935" d="M276.7 683.4 195.1 662.2 189 670.6 182.2 677.5 174.2 683.4 164.6 688.7 152.2 694 137 699.2 117.7 704.8 94.1 710.9 175.7 739.6 208.6 722.6 213.7 715.7 219.3 709.8 225.4 704.7 233 700 241 695.9 250.4 692 276.7 683.4Z"/>
<path fill-rule="evenodd" fill="#ecb333" d="M274.5 682.8 197 662.6 191.2 671.2 184.8 678.2 177.2 684.2 167.5 689.6 155.6 694.6 140.2 699.7 121.4 705.1 95.8 711.5 175.7 739.6 203.8 725.1 208.9 717 214.3 710.5 220.5 705 227.8 700.1 235.8 696 245.8 691.9 257.1 688 274.5 682.8Z"/>
<path fill-rule="evenodd" fill="#eda330" d="M272.3 682.2 198.9 663.1 193.5 672.2 187.6 679.4 180.5 685.2 171.4 690.4 160 695.1 145.1 700 124.4 705.6 97.6 712.2 175.7 739.6 199.3 727.4 204.1 718.3 209.5 710.8 215.6 704.8 222.7 699.8 231.2 695.5 241.4 691.4 253.7 687.4 272.3 682.2Z"/>
<path fill-rule="evenodd" fill="#ee962d" d="M269.5 681.5 201 663.7 196 673.6 190.5 680.9 184.1 686.6 176 691.3 165.6 695.6 150.4 700.3 129.3 705.8 99.4 712.8 175.7 739.6 195 729.6 200 718.4 204.6 710.6 210.1 704.4 216.9 699.3 224.8 695.2 234.7 691.5 249.4 687 270.1 681.6 269.5 681.5Z"/>
<path fill-rule="evenodd" fill="#ef892a" d="M267.3 680.9 203.2 664.2 198.6 675.7 194.3 683.1 191.7 686.1 189.1 688.4 182.5 692.4 173 696.2 158.7 700.3 135.4 705.9 101.4 713.5 175.7 739.6 191 731.7 195.8 718 199.9 709.1 204.2 703.1 206.9 700.5 210.1 698.2 217.2 694.6 227.6 691 242.4 686.9 267.3 680.9Z"/>
<path fill-rule="evenodd" fill="#f17a26" d="M192.2 698.1 190.6 697.7 186.9 697.8 176.3 699.5 103.5 714.2 175.7 739.6 187.1 733.7 191.9 714.1 193.8 704.5 193.8 700 193.1 698.7 192.2 698.1ZM264.5 680.2 205.6 664.9 201.9 681 201.1 688.2 201.7 690 203 691 205.6 691.3 209.7 691 225.8 688.2 264.8 680.3 264.5 680.2Z"/>
<path fill-rule="evenodd" fill="#f36b22" d="M181.3 706.4 177.9 705.2 174.2 704.7 168.1 704.8 160.7 705.5 138.8 708.8 105.7 715 175.7 739.6 183.4 735.6 184.3 730.5 185.6 720.2 185.5 713.6 184.1 709.1 181.3 706.4ZM261.6 679.4 208.2 665.6 207.8 673.7 208.6 678.9 209.6 680.9 210.9 682.3 212.7 683.5 215.2 684.3 221.6 684.9 230.5 684.4 244.4 682.5 261.6 679.4Z"/>
<path fill-rule="evenodd" fill="#f55b1f" d="M174.7 711.2 171.5 709.9 167.3 709 161.9 708.7 155.4 709 135.8 711.2 108.1 715.9 175.7 739.6 179.8 737.5 180.6 730.4 180.7 724.5 180.2 719.8 179.1 716.1 177.4 713.4 174.7 711.2ZM258.1 678.5 211.2 666.3 211.9 671.9 213.9 676.1 217.1 679 221.1 680.6 227 681.4 235.9 681.3 258.6 678.6 258.1 678.5Z"/>
<path fill-rule="evenodd" fill="#f84b1b" d="M167.5 714 163.8 712.9 159.2 712.2 148.4 712.1 133.1 713.5 110.7 716.8 175.7 739.6 176.3 739.3 176.6 731.7 176.3 726.7 175.4 722.8 174.1 719.7 172.5 717.5 170.3 715.6 167.5 714ZM254.6 677.6 214.6 667.2 216.1 671 218.5 674.1 221.3 676.2 225.4 677.7 230.8 678.7 236.8 678.9 245 678.6 254.6 677.6Z"/>
<path fill-rule="evenodd" fill="#fa3c17" d="M162.9 717.3 159.3 716.1 155 715.3 145 714.8 130.7 715.7 113.6 717.8 173 738.6 172.4 730.6 170.5 724.5 167.6 720.5 165.3 718.6 162.9 717.3ZM249.8 676.4 218.8 668.3 220.7 670.8 222.9 672.6 225.7 674.2 229.3 675.4 238.4 676.7 250.2 676.5 249.8 676.4Z"/>
<path fill-rule="evenodd" fill="#fc2f13" d="M159.6 720.7 153.1 718.5 144.2 717.4 132.8 717.5 116.8 718.9 169.3 737.3 168.3 732 166.4 727.2 163.6 723.6 159.6 720.7ZM243.6 674.8 225 669.9 228.5 672 232.7 673.4 238 674.4 243.6 674.8Z"/>
<path fill-rule="evenodd" fill="#fd2711" d="M156 723.6 149.7 721.2 142.3 720 133.1 719.6 120.6 720.2 165.1 735.9 163.6 731.7 161.5 728.3 159.1 725.8 156 723.6Z"/>
<path fill-rule="evenodd" fill="#fe2210" d="M151.5 725.7 146.6 723.8 140.5 722.6 133.1 721.9 125.2 721.9 160.1 734.1 156.7 729.4 154.3 727.4 151.5 725.7Z"/>
</g>
<path fill="none" stroke="#000" stroke-width="0.9" d="M126.5 663.5 111 671 93.6 678.4 74 685.9 52 693.5M147.1 655.9 129.3 666.1 108.5 675.9 84.9 685.4 56.9 695.2M157.2 654 148.6 659.7 138.8 665.5 117.5 676.1 92.1 686.5 62.1 697M162.8 655.5 154.1 661.5 144.8 667.2 134.7 672.7 123.7 678 98.2 688.5 67.7 698.9M169 657.1 160.7 663.3 152 668.9 142.1 674.5 131.3 679.9 119.1 685.2 105.6 690.5 74 701.1M176 658.9 168.2 665.3 159.6 671.4 150.2 676.9 139.5 682.3 127.7 687.5 114 692.8 81.1 703.6M184.2 661.1 177.2 667.8 169.2 674.1 160.3 679.8 150 685.1 138.2 690.3 124.1 695.6 107.8 700.9 89.2 706.4M194.5 663.8 188.7 671.6 182.2 678 174.7 683.6 165.1 688.9 153.5 693.9 139.3 698.8 121.2 704.1 99.2 709.9M211.5 717.5 216.3 711.9 220.9 707.6 226.7 703.3 233.6 699.1 241.3 695.4 250.2 691.7 272.9 684.3M181.8 732.6 182.6 722.5 182.4 718.5 181.7 715.5 180.5 712.7 178.9 710.7 176.6 709.1 174.1 708.2 170 707.5 165.9 707.2 154.2 707.9 137.9 710.1 112.6 714.5M209.9 667.8 210.4 673.2 212 677.3 214.8 680.2 219 682 224.7 682.7 232.1 682.6 242.5 681.6 255.4 679.7"/>
<line x1="72.1" y1="683.4" x2="197.9" y2="724.4" stroke="#e8e8e8" stroke-width="0.6" stroke-opacity="0.42"/>
<line x1="94.6" y1="675.1" x2="219.3" y2="713.5" stroke="#e8e8e8" stroke-width="0.6" stroke-opacity="0.42"/>
<line x1="115.7" y1="667.4" x2="239.2" y2="703.3" stroke="#e8e8e8" stroke-width="0.6" stroke-opacity="0.42"/>
<line x1="135.6" y1="660.1" x2="257.8" y2="693.8" stroke="#e8e8e8" stroke-width="0.6" stroke-opacity="0.42"/>
<line x1="76.4" y1="701.9" x2="181.8" y2="660.4" stroke="#e8e8e8" stroke-width="0.6" stroke-opacity="0.42"/>
<line x1="106.7" y1="712.5" x2="210.9" y2="668.1" stroke="#e8e8e8" stroke-width="0.6" stroke-opacity="0.42"/>
<line x1="139.5" y1="723.9" x2="242" y2="676.2" stroke="#e8e8e8" stroke-width="0.6" stroke-opacity="0.42"/>
<polyline fill="none" points="48.1,692.1 174.9,736.2 275.2,684.9" stroke="#1a1a28" stroke-width="0.85"/>
<mask id="cl6" maskUnits="userSpaceOnUse" x="0" y="0" width="685" height="746"><path fill="#fff" d="M47.2 643.7 46 643.5 57.3 626.8 65.7 616.5 77.2 604.7 87.8 596 96.2 590.7 103.5 587 112.5 583.7 124.2 581.3 146.5 581.3 153.2 580.7 162.8 578.7 173.2 575 190.5 565 199.2 561 209.8 557.7 220.5 556 230.8 556 236.5 556.7 244.5 558.3 252.8 561 266.8 567.7 280 576.5 267.5 582.7 250.8 588.7 234.8 592.7 216.2 595.3 194.8 596 176.2 594.7 167.2 589.7 161.5 587.3 153.8 595.7 146.8 600.7 131.2 610.7 110.8 621.7 98.5 627.3 80.5 634.3 65.8 639 47.2 643.7Z"/></mask>
<g mask="url(#cl6)">
<path fill="#1e00ff" d="M47.2 643.7 46 643.5 57.3 626.8 65.7 616.5 77.2 604.7 87.8 596 96.2 590.7 103.5 587 112.5 583.7 124.2 581.3 146.5 581.3 153.2 580.7 162.8 578.7 173.2 575 190.5 565 199.2 561 209.8 557.7 220.5 556 230.8 556 236.5 556.7 244.5 558.3 252.8 561 266.8 567.7 280 576.5 267.5 582.7 250.8 588.7 234.8 592.7 216.2 595.3 194.8 596 176.2 594.7 167.2 589.7 161.5 587.3 153.8 595.7 146.8 600.7 131.2 610.7 110.8 621.7 98.5 627.3 80.5 634.3 65.8 639 47.2 643.7Z"/>
<path fill-rule="evenodd" fill="#1e00ff" d="M46.5 645.5 44.5 644.5 44.2 643.5 44.5 642.5 51.5 631.8 64.2 615.5 76.2 603.2 86.8 594.5 95.2 589.2 104.8 584.5 112.5 581.8 124.2 579.5 135.5 579.2 135.8 579.5 146.5 579.5 153.2 578.8 162.8 576.8 172.2 573.5 178.2 570.5 189.5 563.5 198.2 559.5 209.8 555.8 220.5 554.2 230.8 554.2 236.5 554.8 244.5 556.5 253.8 559.5 262.2 563.2 271.2 568.2 280.5 574.5 281.8 576.5 280.5 578.5 273.8 581.8 263.5 586.2 250.8 590.5 236.5 594.2 219.5 596.8 212.2 597.2 211.8 597.5 204.8 597.5 204.5 597.8 194.8 597.8 194.5 597.5 187.5 597.5 187.2 597.2 176.2 596.5 165.5 590.8 161.8 589.5 154.8 597.2 147.8 602.2 128.2 614.5 111.8 623.2 92.8 631.5 92.3 631.5 91.7 630.2 91.2 630.1 90.8 631 90.2 630.4 69.5 637 46.5 643.5 46.5 645.5Z"/>
<path fill-rule="evenodd" fill="#1f06ff" d="M46.8 642.6 45.5 642.2 45.2 641.5 55.8 625.8 64.2 615.5 76.2 603.2 86.8 594.5 95.2 589.2 104.8 584.5 112.5 581.8 124.2 579.5 135.5 579.2 135.8 579.5 146.5 579.5 153.2 578.8 162.8 576.8 172.2 573.5 178.2 570.5 189.5 563.5 198.2 559.5 209.8 555.8 220.5 554.2 230.8 554.2 236.5 554.8 244.5 556.5 253.8 559.5 262.2 563.2 271.2 568.2 280.5 574.5 281.8 576.5 280.5 578.5 273.8 581.8 263.5 586.2 250.8 590.5 236.5 594.2 219.5 596.8 212.2 597.2 211.8 597.5 204.8 597.5 204.5 597.8 194.8 597.8 194.5 597.5 187.5 597.5 187.2 597.2 176.2 596.5 165.5 590.8 161.8 589.5 154.8 597.2 142.8 605.5 122.2 617.8 105.5 626.2 102.5 627.2 101.5 625.8 101.5 627.8 100.8 627.5 100.5 626.5 99.8 626.4 75.2 634.4 46.8 642.6Z"/>
<path fill-rule="evenodd" fill="#200dff" d="M47.5 641.5 45.8 640.8 46.2 639.8 55.8 625.8 64.2 615.5 76.2 603.2 86.8 594.5 95.2 589.2 104.8 584.5 112.5 581.8 124.2 579.5 135.5 579.2 135.8 579.5 146.5 579.5 153.2 578.8 162.8 576.8 172.2 573.5 178.2 570.5 189.5 563.5 198.2 559.5 209.8 555.8 220.5 554.2 230.8 554.2 236.5 554.8 244.5 556.5 253.8 559.5 262.2 563.2 271.2 568.2 280.5 574.5 281.8 576.5 280.5 578.5 273.8 581.8 263.5 586.2 250.8 590.5 236.5 594.2 219.5 596.8 212.2 597.2 211.8 597.5 204.8 597.5 204.5 597.8 194.8 597.8 194.5 597.5 187.5 597.5 187.2 597.2 176.2 596.5 165.5 590.8 161.8 589.5 154.8 597.2 147.8 602.2 128.2 614.5 111.8 623.2 108.8 624.2 107.8 622.8 80.2 632.1 47.5 641.5Z"/>
<path fill-rule="evenodd" fill="#2113ff" d="M49.2 640.2 47.8 640.1 46.8 639.4 46.8 638.8 55.8 625.8 64.2 615.5 76.2 603.2 86.8 594.5 95.2 589.2 104.8 584.5 112.5 581.8 124.2 579.5 135.5 579.2 135.8 579.5 146.5 579.5 153.2 578.8 162.8 576.8 172.2 573.5 178.2 570.5 189.5 563.5 198.2 559.5 209.8 555.8 220.5 554.2 230.8 554.2 236.5 554.8 244.5 556.5 253.8 559.5 262.2 563.2 271.2 568.2 280.5 574.5 281.8 576.5 280.5 578.5 273.8 581.8 263.5 586.2 250.8 590.5 236.5 594.2 219.5 596.8 212.2 597.2 211.8 597.5 204.8 597.5 204.5 597.8 194.8 597.8 194.5 597.5 187.5 597.5 187.2 597.2 176.2 596.5 165.5 590.8 161.8 589.5 154.8 597.2 147.8 602.2 132.2 612.2 115.8 621.2 115.1 620.8 114.7 619.8 114.2 619.8 84.5 630 49.2 640.2Z"/>
<path fill-rule="evenodd" fill="#221aff" d="M49.5 639.3 47.8 638.7 47.5 637.8 55.8 625.8 64.2 615.5 76.2 603.2 86.8 594.5 95.2 589.2 104.8 584.5 112.5 581.8 124.2 579.5 135.5 579.2 135.8 579.5 146.5 579.5 153.2 578.8 162.8 576.8 172.2 573.5 178.2 570.5 189.5 563.5 198.2 559.5 209.8 555.8 220.5 554.2 230.8 554.2 236.5 554.8 244.5 556.5 253.8 559.5 262.2 563.2 271.2 568.2 280.5 574.5 281.8 576.5 280.5 578.5 273.8 581.8 263.5 586.2 250.8 590.5 236.5 594.2 219.5 596.8 212.2 597.2 211.8 597.5 204.8 597.5 204.5 597.8 194.8 597.8 194.5 597.5 187.5 597.5 187.2 597.2 176.2 596.5 165.5 590.8 161.8 589.5 154.8 597.2 151.2 599.8 133.8 611.2 120.2 618.8 119.4 618.5 119.1 617.5 118.5 617.4 87.5 628.3 49.5 639.3Z"/>
<path fill-rule="evenodd" fill="#2425ff" d="M50.2 638.2 48.5 637.7 48.2 636.8 55.8 625.8 67.2 612.2 76.2 603.2 81.2 598.8 86.8 594.5 95.2 589.2 106.5 583.8 119.5 580.2 127.8 579.2 139.5 579.5 150.5 579.2 158.8 577.8 165.2 576.2 172.2 573.5 178.2 570.5 186.5 565.2 193.5 561.5 207.2 556.5 217.2 554.5 225.2 554.2 234.2 554.5 244.5 556.5 253.8 559.5 264.8 564.5 276.8 571.8 280.5 574.5 281.8 576.5 280.5 578.5 273.8 581.8 263.5 586.2 250.8 590.5 236.5 594.2 219.5 596.8 212.2 597.2 211.8 597.5 204.8 597.5 204.5 597.8 194.8 597.8 194.5 597.5 187.5 597.5 187.2 597.2 176.2 596.5 165.5 590.8 161.8 589.5 157.5 594.5 153.5 598.2 138.2 608.5 125.2 616.2 124.6 616.2 124 614.8 123.5 614.8 108.2 620.6 90.8 626.5 50.2 638.2Z"/>
<path fill-rule="evenodd" fill="#2736ff" d="M50.8 637.2 49.2 636.7 48.8 635.8 55.8 625.8 67.2 612.2 76.2 603.2 81.2 598.8 86.8 594.5 95.2 589.2 106.5 583.8 119.5 580.2 127.8 579.2 139.5 579.5 150.5 579.2 158.8 577.8 165.2 576.2 172.2 573.5 178.2 570.5 186.5 565.2 193.5 561.5 207.2 556.5 217.2 554.5 225.2 554.2 234.2 554.5 244.5 556.5 253.8 559.5 264.8 564.5 276.8 571.8 280.5 574.5 281.8 576.5 280.5 578.5 273.8 581.8 263.5 586.2 250.8 590.5 236.5 594.2 219.5 596.8 212.2 597.2 211.8 597.5 204.8 597.5 204.5 597.8 194.8 597.8 194.5 597.5 187.5 597.5 187.2 597.2 176.2 596.5 165.5 590.8 161.8 589.5 157.5 594.5 153.5 598.2 142.8 605.5 129.2 613.8 127.5 612.6 111.2 618.8 93.2 625 50.8 637.2Z"/>
<path fill-rule="evenodd" fill="#2b48ff" d="M51.2 636.2 49.8 635.7 49.5 634.8 58.2 622.8 67.2 612.2 76.2 603.2 81.2 598.8 86.8 594.5 95.2 589.2 106.5 583.8 119.5 580.2 127.8 579.2 139.5 579.5 150.5 579.2 158.8 577.8 165.2 576.2 172.2 573.5 178.2 570.5 186.5 565.2 193.5 561.5 207.2 556.5 217.2 554.5 225.2 554.2 234.2 554.5 244.5 556.5 253.8 559.5 264.8 564.5 276.8 571.8 280.5 574.5 281.8 576.5 280.5 578.5 273.8 581.8 263.5 586.2 250.8 590.5 236.5 594.2 219.5 596.8 212.2 597.2 211.8 597.5 204.8 597.5 204.5 597.8 194.8 597.8 194.5 597.5 187.5 597.5 187.2 597.2 176.2 596.5 165.5 590.8 161.8 589.5 154.8 597.2 142.8 605.5 133.2 611.5 131.2 610.4 114.5 616.9 95.8 623.4 74.8 629.8 51.2 636.2Z"/>
<path fill-rule="evenodd" fill="#2e59ff" d="M51.8 635.2 50.5 634.6 50.2 633.8 58.2 622.8 67.2 612.2 76.2 603.2 81.2 598.8 86.8 594.5 95.2 589.2 106.5 583.8 119.5 580.2 127.8 579.2 139.5 579.5 150.5 579.2 158.8 577.8 165.2 576.2 172.2 573.5 178.2 570.5 186.5 565.2 193.5 561.5 207.2 556.5 217.2 554.5 225.2 554.2 234.2 554.5 244.5 556.5 253.8 559.5 264.8 564.5 276.8 571.8 280.5 574.5 281.8 576.5 280.5 578.5 273.8 581.8 263.5 586.2 250.8 590.5 236.5 594.2 219.5 596.8 212.2 597.2 211.8 597.5 204.8 597.5 204.5 597.8 194.8 597.8 194.5 597.5 187.5 597.5 187.2 597.2 176.2 596.5 165.5 590.8 161.8 589.5 154.8 597.2 135.8 609.8 135.1 609.5 134.7 608.5 134.2 608.5 117.2 615.3 98.2 621.9 76.5 628.5 51.8 635.2Z"/>
<path fill-rule="evenodd" fill="#356dff" d="M53.5 633.9 51.8 634 50.8 632.8 58.2 622.8 67.2 612.2 76.2 603.2 81.2 598.8 86.8 594.5 95.2 589.2 106.5 583.8 119.5 580.2 127.8 579.2 139.5 579.5 150.5 579.2 158.8 577.8 165.2 576.2 172.2 573.5 178.2 570.5 186.5 565.2 193.5 561.5 207.2 556.5 217.2 554.5 225.2 554.2 234.2 554.5 244.5 556.5 253.8 559.5 264.8 564.5 276.8 571.8 280.5 574.5 281.8 576.5 280.5 578.5 273.8 581.8 263.5 586.2 250.8 590.5 236.5 594.2 219.5 596.8 212.2 597.2 211.8 597.5 204.8 597.5 204.5 597.8 194.8 597.8 194.5 597.5 187.5 597.5 187.2 597.2 176.2 596.5 165.5 590.8 161.8 589.5 154.8 597.2 140.2 607.2 138.2 606.1 120.8 613.2 101.2 620.2 78.8 627 53.5 633.9Z"/>
<path fill-rule="evenodd" fill="#3b80ff" d="M54.2 632.9 52.5 633 51.5 631.8 64.2 615.5 76.2 603.2 86.8 594.5 95.2 589.2 102.5 585.5 112.5 581.8 121.5 579.8 127.8 579.2 146.5 579.5 153.2 578.8 162.8 576.8 172.2 573.5 176.8 571.2 186.5 565.2 193.5 561.5 200.8 558.5 209.8 555.8 220.5 554.2 230.8 554.2 238.5 555.2 246.8 557.2 255.5 560.2 264.8 564.5 276.8 571.8 280.5 574.5 281.8 576.5 280.5 578.5 273.8 581.8 263.5 586.2 250.8 590.5 236.5 594.2 219.5 596.8 212.2 597.2 211.8 597.5 204.8 597.5 204.5 597.8 194.8 597.8 194.5 597.5 187.5 597.5 187.2 597.2 176.2 596.5 165.5 590.8 161.8 589.5 154.8 597.2 142.2 605.8 141.5 605.5 141.1 604.5 140.5 604.5 123.2 611.7 103.2 618.8 80.2 625.8 54.2 632.9Z"/>
<path fill-rule="evenodd" fill="#4294ff" d="M54.5 631.9 52.8 631.4 52.5 630.5 55.8 625.8 64.2 615.5 76.2 603.2 86.8 594.5 95.2 589.2 102.5 585.5 112.5 581.8 121.5 579.8 127.8 579.2 146.5 579.5 153.2 578.8 162.8 576.8 172.2 573.5 176.8 571.2 186.5 565.2 193.5 561.5 200.8 558.5 209.8 555.8 220.5 554.2 230.8 554.2 238.5 555.2 246.8 557.2 255.5 560.2 264.8 564.5 276.8 571.8 280.5 574.5 281.8 576.5 280.5 578.5 273.8 581.8 263.5 586.2 250.8 590.5 236.5 594.2 219.5 596.8 212.2 597.2 211.8 597.5 204.8 597.5 204.5 597.8 194.8 597.8 194.5 597.5 187.5 597.5 187.2 597.2 176.2 596.5 165.5 590.8 161.8 589.5 154.8 597.2 145.8 603.5 144.2 602.3 125.8 610 105.5 617.3 81.8 624.6 54.5 631.9Z"/>
<path fill-rule="evenodd" fill="#4aa8ff" d="M55.2 630.9 53.5 630.4 53.2 629.5 55.8 625.8 64.2 615.5 76.2 603.2 86.8 594.5 95.2 589.2 102.5 585.5 112.5 581.8 121.5 579.8 127.8 579.2 146.5 579.5 153.2 578.8 162.8 576.8 172.2 573.5 176.8 571.2 186.5 565.2 193.5 561.5 200.8 558.5 209.8 555.8 220.5 554.2 230.8 554.2 238.5 555.2 246.8 557.2 255.5 560.2 264.8 564.5 276.8 571.8 280.5 574.5 281.8 576.5 280.5 578.5 273.8 581.8 263.5 586.2 250.8 590.5 236.5 594.2 219.5 596.8 212.2 597.2 211.8 597.5 204.8 597.5 204.5 597.8 194.8 597.8 194.5 597.5 187.5 597.5 187.2 597.2 176.2 596.5 165.5 590.8 161.8 589.5 154.8 597.2 148.5 601.5 146.8 600.4 128.8 608.2 107.8 615.8 83.5 623.3 55.2 630.9Z"/>
<path fill-rule="evenodd" fill="#53bcff" d="M55.8 629.9 54.2 628.5 55.8 625.8 64.2 615.5 76.2 603.2 86.8 594.5 95.2 589.2 102.5 585.5 112.5 581.8 121.5 579.8 127.8 579.2 146.5 579.5 153.2 578.8 162.8 576.8 172.2 573.5 176.8 571.2 186.5 565.2 193.5 561.5 200.8 558.5 209.8 555.8 220.5 554.2 230.8 554.2 238.5 555.2 246.8 557.2 255.5 560.2 264.8 564.5 276.8 571.8 280.5 574.5 281.8 576.5 280.5 578.5 273.8 581.8 263.5 586.2 250.8 590.5 236.5 594.2 219.5 596.8 212.2 597.2 211.8 597.5 204.8 597.5 204.5 597.8 194.8 597.8 194.5 597.5 187.5 597.5 187.2 597.2 176.2 596.5 165.5 590.8 161.8 589.5 154.8 597.2 151.2 599.8 149.5 598.6 130.5 606.9 109.5 614.6 84.8 622.2 55.8 629.9Z"/>
<path fill-rule="evenodd" fill="#5cd0ff" d="M56.2 628.9 54.8 627.6 55.8 625.8 64.2 615.5 76.2 603.2 86.8 594.5 95.2 589.2 102.5 585.5 112.5 581.8 121.5 579.8 127.8 579.2 146.5 579.5 153.2 578.8 162.8 576.8 172.2 573.5 176.8 571.2 186.5 565.2 193.5 561.5 200.8 558.5 209.8 555.8 220.5 554.2 230.8 554.2 238.5 555.2 246.8 557.2 255.5 560.2 264.8 564.5 276.8 571.8 280.5 574.5 281.8 576.5 280.5 578.5 273.8 581.8 263.5 586.2 250.8 590.5 236.5 594.2 219.5 596.8 212.2 597.2 211.8 597.5 204.8 597.5 204.5 597.8 194.8 597.8 194.5 597.5 187.5 597.5 187.2 597.2 176.2 596.5 165.5 590.8 161.8 589.5 157.5 594.5 153.5 598.2 151.8 596.9 129.5 606.7 103.5 615.8 81.5 622.3 56.2 628.9Z"/>
<path fill-rule="evenodd" fill="#65e3ff" d="M56.8 627.9 55.5 627.5 55.2 626.8 58.2 622.8 67.2 612.2 76.2 603.2 86.8 594.5 95.2 589.2 102.5 585.5 112.5 581.8 121.5 579.8 127.8 579.2 146.5 579.5 153.2 578.8 162.8 576.8 172.2 573.5 176.8 571.2 186.5 565.2 193.5 561.5 200.8 558.5 209.8 555.8 220.5 554.2 230.8 554.2 238.5 555.2 246.8 557.2 255.5 560.2 264.8 564.5 276.8 571.8 280.5 574.5 281.8 576.5 280.5 578.5 273.8 581.8 263.5 586.2 250.8 590.5 236.5 594.2 219.5 596.8 212.2 597.2 211.8 597.5 204.8 597.5 204.5 597.8 194.8 597.8 194.5 597.5 187.5 597.5 187.2 597.2 176.2 596.5 165.5 590.8 161.8 589.5 155.5 596.5 154.2 595.2 139.8 601.9 123.5 608.3 93.5 618.1 56.8 627.9Z"/>
<path fill-rule="evenodd" fill="#6becff" d="M57.5 626.9 56.2 626.5 55.8 625.8 58.2 622.8 67.2 612.2 76.2 603.2 86.8 594.5 95.2 589.2 102.5 585.5 112.5 581.8 121.5 579.8 127.8 579.2 146.5 579.5 153.2 578.8 162.8 576.8 172.2 573.5 176.8 571.2 186.5 565.2 193.5 561.5 200.8 558.5 209.8 555.8 220.5 554.2 230.8 554.2 238.5 555.2 246.8 557.2 255.5 560.2 264.8 564.5 276.8 571.8 280.5 574.5 281.8 576.5 280.5 578.5 273.8 581.8 263.5 586.2 250.8 590.5 236.5 594.2 219.5 596.8 212.2 597.2 211.8 597.5 204.8 597.5 204.5 597.8 194.8 597.8 194.5 597.5 187.5 597.5 187.2 597.2 176.2 596.5 165.5 590.8 161.8 589.5 156.8 595.2 155.2 594.2 139.8 601.3 122.5 608.1 93.2 617.5 57.5 626.9Z"/>
<path fill-rule="evenodd" fill="#72f5ff" d="M59.5 625.5 58.2 625.5 57.2 624.7 57.2 624.2 67.2 612.2 76.2 603.2 86.8 594.5 95.2 589.2 102.5 585.5 112.5 581.8 121.5 579.8 127.8 579.2 146.5 579.5 153.2 578.8 162.8 576.8 172.2 573.5 176.8 571.2 186.5 565.2 193.5 561.5 200.8 558.5 209.8 555.8 220.5 554.2 230.8 554.2 238.5 555.2 246.8 557.2 255.5 560.2 264.8 564.5 276.8 571.8 280.5 574.5 281.8 576.5 280.5 578.5 273.8 581.8 263.5 586.2 250.8 590.5 236.5 594.2 219.5 596.8 212.2 597.2 211.8 597.5 204.8 597.5 204.5 597.8 194.8 597.8 194.5 597.5 187.5 597.5 187.2 597.2 176.2 596.5 165.5 590.8 161.8 589.5 157.5 594 155.8 593.3 139.8 600.7 121.8 607.6 93.8 616.5 59.5 625.5Z"/>
<path fill-rule="evenodd" fill="#78ffff" d="M59.8 624.6 58.2 623.5 58.2 622.8 67.2 612.2 76.2 603.2 86.8 594.5 95.2 589.2 102.5 585.5 112.5 581.8 121.5 579.8 127.8 579.2 146.5 579.5 153.2 578.8 162.8 576.8 172.2 573.5 176.8 571.2 186.5 565.2 193.5 561.5 200.8 558.5 209.8 555.8 220.5 554.2 230.8 554.2 238.5 555.2 246.8 557.2 255.5 560.2 264.8 564.5 276.8 571.8 280.5 574.5 281.8 576.5 280.5 578.5 273.8 581.8 263.5 586.2 250.8 590.5 236.5 594.2 219.5 596.8 212.2 597.2 211.8 597.5 204.8 597.5 204.5 597.8 194.8 597.8 194.5 597.5 187.5 597.5 187.2 597.2 176.2 596.5 165.5 590.8 161.8 589.5 158.2 593.5 156.5 592.5 139.8 600.2 120.5 607.5 93.2 615.9 59.8 624.6Z"/>
<path fill-rule="evenodd" fill="#75fef1" d="M60.5 623.5 58.8 622.3 59.5 621.2 67.2 612.2 76.2 603.2 86.8 594.5 95.2 589.2 102.5 585.5 112.5 581.8 121.5 579.8 127.8 579.2 146.5 579.5 153.2 578.8 162.8 576.8 172.2 573.5 176.8 571.2 186.5 565.2 193.5 561.5 200.8 558.5 209.8 555.8 220.5 554.2 230.8 554.2 238.5 555.2 246.8 557.2 255.5 560.2 264.8 564.5 276.8 571.8 280.5 574.5 281.8 576.5 280.5 578.5 273.8 581.8 263.5 586.2 250.8 590.5 236.5 594.2 219.5 596.8 212.2 597.2 211.8 597.5 204.8 597.5 204.5 597.8 194.8 597.8 194.5 597.5 187.5 597.5 187.2 597.2 176.2 596.5 165.5 590.8 161.8 589.5 159.2 592.5 157.5 591.5 139.8 599.6 119.2 607.2 92.5 615.4 60.5 623.5Z"/>
<path fill-rule="evenodd" fill="#72fde3" d="M61.2 622.5 59.8 622 59.5 621.2 67.2 612.2 76.2 603.2 86.8 594.5 95.2 589.2 102.5 585.5 112.5 581.8 121.5 579.8 127.8 579.2 146.5 579.5 153.2 578.8 162.8 576.8 172.2 573.5 176.8 571.2 186.5 565.2 193.5 561.5 200.8 558.5 209.8 555.8 220.5 554.2 230.8 554.2 238.5 555.2 246.8 557.2 255.5 560.2 264.8 564.5 276.8 571.8 280.5 574.5 281.8 576.5 280.5 578.5 273.8 581.8 263.5 586.2 250.8 590.5 236.5 594.2 219.5 596.8 212.2 597.2 211.8 597.5 204.8 597.5 204.5 597.8 194.8 597.8 194.5 597.5 187.5 597.5 187.2 597.2 176.2 596.5 165.5 590.8 161.8 589.5 160.2 591.5 158.5 590.5 139.8 599 117.8 607 92.2 614.7 61.2 622.5Z"/>
<path fill-rule="evenodd" fill="#6ffcd5" d="M61.8 621.5 60.5 620.2 60.8 619.5 67.2 612.2 79.2 600.5 91.8 591.2 102.5 585.5 112.5 581.8 121.5 579.8 127.8 579.2 146.5 579.5 153.2 578.8 162.8 576.8 172.2 573.5 176.8 571.2 186.5 565.2 193.5 561.5 200.8 558.5 209.8 555.8 220.5 554.2 230.8 554.2 238.5 555.2 246.8 557.2 255.5 560.2 264.8 564.5 276.8 571.8 280.5 574.5 281.8 576.5 280.5 578.5 273.8 581.8 263.5 586.2 250.8 590.5 236.5 594.2 219.5 596.8 212.2 597.2 211.8 597.5 204.8 597.5 204.5 597.8 194.8 597.8 194.5 597.5 187.5 597.5 187.2 597.2 176.2 596.5 162.5 589.5 161.8 589.5 160.9 590.5 159.5 589.5 141.2 597.9 119.2 605.9 93.2 613.7 61.8 621.5Z"/>
<path fill-rule="evenodd" fill="#69fbc0" d="M63.8 620.2 62.8 620.4 61.5 618.8 67.2 612.2 76.2 603.2 86.8 594.5 95.2 589.2 102.5 585.5 112.5 581.8 121.5 579.8 127.8 579.2 146.5 579.5 153.2 578.8 162.8 576.8 172.2 573.5 176.8 571.2 186.5 565.2 193.5 561.5 200.8 558.5 209.8 555.8 220.5 554.2 230.8 554.2 238.5 555.2 246.8 557.2 255.5 560.2 264.8 564.5 276.8 571.8 280.5 574.5 281.8 576.5 280.5 578.5 273.8 581.8 263.5 586.2 250.8 590.5 236.5 594.2 219.5 596.8 212.2 597.2 211.8 597.5 204.8 597.5 204.5 597.8 194.8 597.8 194.5 597.5 187.5 597.5 187.2 597.2 176.2 596.5 165.5 590.8 159.8 588.8 141.8 597.1 120.2 604.9 94.5 612.5 63.8 620.2Z"/>
<path fill-rule="evenodd" fill="#62faa8" d="M64.5 619.2 63.6 619.2 62.5 618.1 62.5 617.5 67.2 612.2 79.2 600.5 91.8 591.2 104.8 584.5 112.5 581.8 121.5 579.8 127.8 579.2 146.5 579.5 153.2 578.8 162.8 576.8 172.2 573.5 178.2 570.5 189.5 563.5 196.5 560.2 204.8 557.2 214.8 554.8 220.5 554.2 230.8 554.2 238.5 555.2 246.8 557.2 255.5 560.2 264.8 564.5 276.8 571.8 280.5 574.5 281.8 576.5 280.5 578.5 273.8 581.8 263.5 586.2 250.8 590.5 234.8 594.5 216.2 597.2 204.8 597.5 204.5 597.8 194.8 597.8 194.5 597.5 187.5 597.5 187.2 597.2 176.2 596.5 165.5 590.8 161.8 589.5 160.8 587.9 142.5 596.2 121.2 603.9 95.5 611.5 64.5 619.2Z"/>
<path fill-rule="evenodd" fill="#5cf891" d="M64.8 618.2 63.2 617 64.2 615.5 79.2 600.5 91.8 591.2 104.8 584.5 112.5 581.8 121.5 579.8 127.8 579.2 146.5 579.5 153.2 578.8 162.8 576.8 172.2 573.5 178.2 570.5 189.5 563.5 196.5 560.2 204.8 557.2 214.8 554.8 220.5 554.2 230.8 554.2 238.5 555.2 246.8 557.2 255.5 560.2 264.8 564.5 276.8 571.8 280.5 574.5 281.8 576.5 280.5 578.5 273.8 581.8 263.5 586.2 250.8 590.5 234.8 594.5 216.2 597.2 204.8 597.5 204.5 597.8 194.8 597.8 194.5 597.5 187.5 597.5 187.2 597.2 176.2 596.5 165.5 590.8 161.8 589.5 161.2 587.2 143.2 595.4 121.5 603.2 95.8 610.7 64.8 618.2Z"/>
<path fill-rule="evenodd" fill="#55f779" d="M65.5 617.2 64.2 616.1 64.2 615.5 76.2 603.2 81.2 598.8 91.8 591.2 104.8 584.5 112.5 581.8 121.5 579.8 127.8 579.2 146.5 579.5 153.2 578.8 162.8 576.8 172.2 573.5 178.2 570.5 189.5 563.5 196.5 560.2 204.8 557.2 214.8 554.8 220.5 554.2 230.8 554.2 238.5 555.2 246.8 557.2 255.5 560.2 264.8 564.5 276.8 571.8 280.5 574.5 281.8 576.5 280.5 578.5 273.8 581.8 263.5 586.2 250.8 590.5 234.8 594.5 216.2 597.2 204.8 597.5 204.5 597.8 194.8 597.8 194.5 597.5 187.5 597.5 187.2 597.2 176.2 596.5 165.5 590.8 161.9 589.5 161.5 587.5 160.4 587.2 142.5 595.1 121.5 602.5 96.2 609.8 65.5 617.2Z"/>
<path fill-rule="evenodd" fill="#4ff762" d="M66.2 616.2 64.8 614.8 76.2 603.2 81.2 598.8 91.8 591.2 104.8 584.5 112.5 581.8 121.5 579.8 127.8 579.2 146.5 579.5 153.2 578.8 162.8 576.8 172.2 573.5 178.2 570.5 189.5 563.5 196.5 560.2 204.8 557.2 214.8 554.8 220.5 554.2 230.8 554.2 238.5 555.2 246.8 557.2 255.5 560.2 264.8 564.5 276.8 571.8 280.5 574.5 281.8 576.5 280.5 578.5 273.8 581.8 263.5 586.2 250.8 590.5 234.8 594.5 216.2 597.2 204.8 597.5 204.5 597.8 194.8 597.8 194.5 597.5 187.5 597.5 187.2 597.2 176.2 596.5 165.5 590.8 161.9 589.5 161.5 587.5 160.2 586.8 142.5 594.6 121.5 601.9 96.5 609 66.2 616.2Z"/>
<path fill-rule="evenodd" fill="#49f64b" d="M68.5 614.9 67.5 615.1 66.2 613.5 79.2 600.5 91.8 591.2 104.8 584.5 112.5 581.8 121.5 579.8 127.8 579.2 146.5 579.5 153.2 578.8 162.8 576.8 172.2 573.5 178.2 570.5 189.5 563.5 196.5 560.2 204.8 557.2 214.8 554.8 220.5 554.2 230.8 554.2 238.5 555.2 246.8 557.2 255.5 560.2 264.8 564.5 276.8 571.8 280.5 574.5 281.8 576.5 280.5 578.5 273.8 581.8 263.5 586.2 250.8 590.5 234.8 594.5 216.2 597.2 204.8 597.5 204.5 597.8 194.8 597.8 194.5 597.5 187.5 597.5 187.2 597.2 176.2 596.5 165.5 590.8 161.9 589.5 161.5 587.5 159.5 586.7 142.2 594.2 121.8 601.1 97.5 608 68.5 614.9Z"/>
<path fill-rule="evenodd" fill="#43f533" d="M69.2 613.9 68.3 613.8 67.2 612.8 67.2 612.2 76.2 603.2 81.2 598.8 91.8 591.2 104.8 584.5 112.5 581.8 121.5 579.8 127.8 579.2 146.5 579.5 153.2 578.8 162.8 576.8 172.2 573.5 178.2 570.5 189.5 563.5 196.5 560.2 204.8 557.2 214.8 554.8 220.5 554.2 230.8 554.2 238.5 555.2 246.8 557.2 255.5 560.2 264.8 564.5 276.8 571.8 280.5 574.5 281.8 576.5 280.5 578.5 273.8 581.8 263.5 586.2 250.8 590.5 234.8 594.5 216.2 597.2 204.8 597.5 204.5 597.8 194.8 597.8 194.5 597.5 187.5 597.5 187.2 597.2 176.2 596.5 165.5 590.8 161.9 589.5 161.5 587.5 159 586.5 142.2 593.6 121.8 600.5 97.8 607.1 69.2 613.9Z"/>
<path fill-rule="evenodd" fill="#3ef51e" d="M69.8 612.9 69.2 613 67.8 611.5 76.2 603.2 81.2 598.8 91.8 591.2 104.8 584.5 112.5 581.8 121.5 579.8 127.8 579.2 146.5 579.5 153.2 578.8 162.8 576.8 172.2 573.5 178.2 570.5 189.5 563.5 196.5 560.2 204.8 557.2 214.8 554.8 220.5 554.2 230.8 554.2 238.5 555.2 246.8 557.2 255.5 560.2 264.8 564.5 276.8 571.8 280.5 574.5 281.8 576.5 280.5 578.5 273.8 581.8 263.5 586.2 250.8 590.5 234.8 594.5 216.2 597.2 204.8 597.5 204.5 597.8 194.8 597.8 194.5 597.5 187.5 597.5 187.2 597.2 176.2 596.5 165.5 590.8 161.9 589.5 161.2 587.1 158.5 586.3 141.5 593.3 121.8 599.8 98.2 606.3 69.8 612.9Z"/>
<path fill-rule="evenodd" fill="#3df519" d="M70.5 611.9 68.8 610.5 76.2 603.2 82.8 597.5 95.2 589.2 106.5 583.8 117.8 580.5 124.2 579.5 135.5 579.2 135.8 579.5 146.5 579.5 153.2 578.8 162.8 576.8 172.2 573.5 178.2 570.5 189.5 563.5 196.5 560.2 204.8 557.2 214.8 554.8 220.5 554.2 230.8 554.2 238.5 555.2 246.8 557.2 255.5 560.2 264.8 564.5 276.8 571.8 280.5 574.5 281.8 576.5 280.5 578.5 273.8 581.8 263.5 586.2 250.8 590.5 234.8 594.5 216.2 597.2 204.8 597.5 204.5 597.8 194.8 597.8 194.5 597.5 187.5 597.5 187.2 597.2 176.2 596.5 165.5 590.8 161.9 589.5 161.2 587.1 157.9 586.2 141.2 592.9 121.8 599.2 98.5 605.5 70.5 611.9Z"/>
<path fill-rule="evenodd" fill="#3df514" d="M71.2 610.9 69.8 609.5 76.2 603.2 82.8 597.5 95.2 589.2 106.5 583.8 117.8 580.5 124.2 579.5 135.5 579.2 135.8 579.5 146.5 579.5 153.2 578.8 162.8 576.8 172.2 573.5 178.2 570.5 189.5 563.5 196.5 560.2 204.8 557.2 214.8 554.8 220.5 554.2 230.8 554.2 238.5 555.2 246.8 557.2 255.5 560.2 264.8 564.5 276.8 571.8 280.5 574.5 281.8 576.5 280.5 578.5 273.8 581.8 263.5 586.2 250.8 590.5 239.5 593.5 231.2 595.2 211.8 597.5 194.8 597.8 194.5 597.5 187.5 597.5 187.2 597.2 176.2 596.5 165.5 590.8 161.9 589.5 161.2 587.1 157.5 585.9 141.2 592.4 121.8 598.6 98.8 604.6 71.2 610.9Z"/>
<path fill-rule="evenodd" fill="#3cf50f" d="M73.5 609.5 72.5 609.7 71.2 608.2 76.2 603.2 82.8 597.5 95.2 589.2 106.5 583.8 117.8 580.5 124.2 579.5 135.5 579.2 135.8 579.5 146.5 579.5 153.2 578.8 162.8 576.8 172.2 573.5 178.2 570.5 189.5 563.5 196.5 560.2 204.8 557.2 214.8 554.8 220.5 554.2 230.8 554.2 238.5 555.2 246.8 557.2 255.5 560.2 264.8 564.5 276.8 571.8 280.5 574.5 281.8 576.5 280.5 578.5 270.8 583.2 260.8 587.2 246.2 591.8 227.2 595.8 216.2 597.2 204.8 597.5 204.5 597.8 187.5 597.5 187.2 597.2 176.2 596.5 165.5 590.8 161.9 589.5 161.2 587.1 156.8 585.8 140.8 592 122.2 597.8 99.8 603.6 73.5 609.5Z"/>
<path fill-rule="evenodd" fill="#43f510" d="M74.2 608.6 73.5 608.7 72.2 607.2 82.8 597.5 95.2 589.2 106.5 583.8 117.8 580.5 124.2 579.5 135.5 579.2 135.8 579.5 146.5 579.5 153.2 578.8 162.8 576.8 172.2 573.5 178.2 570.5 189.5 563.5 196.5 560.2 204.8 557.2 214.8 554.8 220.5 554.2 230.8 554.2 238.5 555.2 246.8 557.2 255.5 560.2 264.8 564.5 276.8 571.8 280.5 574.5 281.8 576.5 280.5 578.5 270.8 583.2 260.8 587.2 246.2 591.8 227.2 595.8 216.2 597.2 204.8 597.5 204.5 597.8 187.5 597.5 187.2 597.2 176.2 596.5 165.5 590.8 161.9 589.5 161.2 587.1 156.4 585.5 140.8 591.4 122.2 597.2 100.2 602.8 74.2 608.6Z"/>
<path fill-rule="evenodd" fill="#4bf612" d="M75.2 607.5 74.5 607.6 73.2 606.2 82.8 597.5 95.2 589.2 106.5 583.8 117.8 580.5 124.2 579.5 135.5 579.2 135.8 579.5 146.5 579.5 153.2 578.8 162.8 576.8 172.2 573.5 178.2 570.5 189.5 563.5 196.5 560.2 204.8 557.2 214.8 554.8 220.5 554.2 230.8 554.2 238.5 555.2 246.8 557.2 255.5 560.2 264.8 564.5 276.8 571.8 280.5 574.5 281.8 576.5 280.5 578.5 270.8 583.2 260.8 587.2 246.2 591.8 227.2 595.8 216.2 597.2 204.8 597.5 204.5 597.8 187.5 597.5 187.2 597.2 176.2 596.5 165.5 590.8 161.9 589.5 161.2 587.1 155.8 585.3 140.5 591 122.2 596.5 100.8 601.9 75.2 607.5Z"/>
<path fill-rule="evenodd" fill="#53f613" d="M75.8 606.5 74.2 605.2 79.2 600.5 86.8 594.5 95.2 589.2 106.5 583.8 117.8 580.5 124.2 579.5 135.5 579.2 135.8 579.5 146.5 579.5 153.2 578.8 162.8 576.8 172.2 573.5 178.2 570.5 189.5 563.5 196.5 560.2 204.8 557.2 214.8 554.8 220.5 554.2 230.8 554.2 238.5 555.2 246.8 557.2 255.5 560.2 264.8 564.5 276.8 571.8 280.5 574.5 281.8 576.5 280.5 578.5 270.8 583.2 260.8 587.2 246.2 591.8 227.2 595.8 216.2 597.2 204.8 597.5 204.5 597.8 187.5 597.5 187.2 597.2 176.2 596.5 165.5 590.8 161.9 589.5 161.2 587.1 155.2 585.2 139.8 590.7 122.2 595.9 101.2 601.1 75.8 606.5Z"/>
<path fill-rule="evenodd" fill="#5df616" d="M76.5 605.6 75.2 604.2 86.8 594.5 95.2 589.2 106.5 583.8 117.8 580.5 124.2 579.5 135.5 579.2 135.8 579.5 146.5 579.5 153.2 578.8 162.8 576.8 172.2 573.5 178.2 570.5 189.5 563.5 196.5 560.2 207.2 556.5 217.2 554.5 225.2 554.2 234.2 554.5 244.5 556.5 253.8 559.5 262.2 563.2 271.2 568.2 280.5 574.5 281.8 576.5 280.5 578.5 270.8 583.2 260.8 587.2 250.8 590.5 239.5 593.5 222.5 596.5 212.2 597.2 211.8 597.5 194.8 597.8 194.5 597.5 187.5 597.5 187.2 597.2 176.2 596.5 165.5 590.8 161.9 589.5 161.2 587.1 154.8 584.9 139.5 590.3 122.2 595.3 101.2 600.4 76.5 605.6Z"/>
<path fill-rule="evenodd" fill="#68f719" d="M79.2 604.2 78.2 604.4 76.8 602.8 86.8 594.5 95.2 589.2 106.5 583.8 117.8 580.5 124.2 579.5 135.5 579.2 135.8 579.5 146.5 579.5 153.2 578.8 162.8 576.8 172.2 573.5 178.2 570.5 189.5 563.5 196.5 560.2 207.2 556.5 217.2 554.5 225.2 554.2 234.2 554.5 244.5 556.5 253.8 559.5 262.2 563.2 271.2 568.2 280.5 574.5 281.8 576.5 280.5 578.5 270.8 583.2 260.8 587.2 250.8 590.5 239.5 593.5 222.5 596.5 212.2 597.2 211.8 597.5 194.8 597.8 194.5 597.5 187.5 597.5 187.2 597.2 176.2 596.5 165.5 590.8 162 589.5 161.2 587.1 153.9 584.8 139.5 589.8 122.5 594.6 102.5 599.3 79.2 604.2Z"/>
<path fill-rule="evenodd" fill="#73f81c" d="M80.2 603.2 79.2 603.4 77.8 601.8 86.8 594.5 95.2 589.2 106.5 583.8 117.8 580.5 124.2 579.5 135.5 579.2 135.8 579.5 146.5 579.5 153.2 578.8 162.8 576.8 172.2 573.5 178.2 570.5 189.5 563.5 196.5 560.2 207.2 556.5 217.2 554.5 225.2 554.2 234.2 554.5 244.5 556.5 253.8 559.5 262.2 563.2 271.2 568.2 280.5 574.5 281.8 576.5 280.5 578.5 270.8 583.2 260.8 587.2 250.8 590.5 239.5 593.5 222.5 596.5 212.2 597.2 211.8 597.5 194.8 597.8 194.5 597.5 187.5 597.5 187.2 597.2 176.2 596.5 165.5 590.8 162 589.5 161.2 587 153.5 584.6 139.2 589.4 122.8 593.9 103.2 598.5 80.2 603.2Z"/>
<path fill-rule="evenodd" fill="#7ef820" d="M81.2 602.2 80.2 602.4 78.8 600.8 86.8 594.5 95.2 589.2 106.5 583.8 117.8 580.5 124.2 579.5 135.5 579.2 135.8 579.5 146.5 579.5 153.2 578.8 162.8 576.8 172.2 573.5 178.2 570.5 189.5 563.5 196.5 560.2 207.2 556.5 217.2 554.5 225.2 554.2 234.2 554.5 244.5 556.5 253.8 559.5 262.2 563.2 271.2 568.2 280.5 574.5 281.8 576.5 280.5 578.5 270.8 583.2 260.8 587.2 250.8 590.5 239.5 593.5 222.5 596.5 212.2 597.2 211.8 597.5 194.8 597.8 194.5 597.5 187.5 597.5 187.2 597.2 176.2 596.5 165.5 590.8 162 589.5 161.6 587.5 161.2 587 154.8 584.8 152.6 584.5 138.8 588.9 122.5 593.3 81.2 602.2Z"/>
<path fill-rule="evenodd" fill="#8bf923" d="M81.8 601.2 80.2 599.8 86.8 594.5 95.2 589.2 106.5 583.8 117.8 580.5 124.2 579.5 135.5 579.2 135.8 579.5 146.5 579.5 153.2 578.8 162.8 576.8 172.2 573.5 178.2 570.5 189.5 563.5 196.5 560.2 207.2 556.5 217.2 554.5 225.2 554.2 234.2 554.5 244.5 556.5 253.8 559.5 262.2 563.2 271.2 568.2 280.5 574.5 281.8 576.5 280.5 578.5 270.8 583.2 260.8 587.2 250.8 590.5 239.5 593.5 222.5 596.5 212.2 597.2 211.8 597.5 194.8 597.8 194.5 597.5 187.5 597.5 187.2 597.2 176.2 596.5 165.5 590.8 162 589.5 161.6 587.5 161.2 587 152.4 584.2 138.8 588.4 122.8 592.6 81.8 601.2Z"/>
<path fill-rule="evenodd" fill="#97fa26" d="M82.8 600.2 81.8 598.5 86.8 594.5 95.2 589.2 106.5 583.8 117.8 580.5 124.2 579.5 135.5 579.2 135.8 579.5 146.5 579.5 153.2 578.8 162.8 576.8 172.2 573.5 178.2 570.5 189.5 563.5 196.5 560.2 207.2 556.5 217.2 554.5 225.2 554.2 234.2 554.5 244.5 556.5 253.8 559.5 262.2 563.2 271.2 568.2 280.5 574.5 281.8 576.5 280.5 578.5 270.8 583.2 260.8 587.2 250.8 590.5 239.5 593.5 222.5 596.5 212.2 597.2 211.8 597.5 194.8 597.8 194.5 597.5 187.5 597.5 187.2 597.2 176.2 596.5 165.5 590.8 162 589.5 161.7 587.5 161.2 587 154.8 584.8 151.5 584.1 138.5 588 122.8 592 82.8 600.2Z"/>
<path fill-rule="evenodd" fill="#a5fa29" d="M83.8 599.2 82.5 597.8 86.8 594.5 95.2 589.2 106.5 583.8 117.8 580.5 124.2 579.5 135.5 579.2 135.8 579.5 146.5 579.5 153.2 578.8 162.8 576.8 172.2 573.5 178.2 570.5 189.5 563.5 196.5 560.2 207.2 556.5 217.2 554.5 225.2 554.2 234.2 554.5 244.5 556.5 253.8 559.5 262.2 563.2 271.2 568.2 280.5 574.5 281.8 576.5 280.5 578.5 270.8 583.2 260.8 587.2 250.8 590.5 239.5 593.5 222.5 596.5 212.2 597.2 211.8 597.5 194.8 597.8 194.5 597.5 187.5 597.5 187.2 597.2 176.2 596.5 165.5 590.8 162 589.5 161.7 587.5 161.2 587 151.1 583.8 138.2 587.6 122.8 591.4 97.2 596.7 84.5 599.1 84.2 598.8 83.8 599.2Z"/>
<path fill-rule="evenodd" fill="#b4fa2c" d="M85.2 598.2 83.8 596.8 84.2 596.5 95.2 589.2 104.8 584.5 112.5 581.8 124.2 579.5 135.5 579.2 135.8 579.5 146.5 579.5 153.2 578.8 162.8 576.8 172.2 573.5 178.2 570.5 189.5 563.5 196.5 560.2 207.2 556.5 217.2 554.5 225.2 554.2 234.2 554.5 244.5 556.5 253.8 559.5 262.2 563.2 271.2 568.2 280.5 574.5 281.8 576.5 280.5 578.5 273.8 581.8 263.5 586.2 250.8 590.5 236.5 594.2 219.5 596.8 212.2 597.2 211.8 597.5 204.8 597.5 204.5 597.8 194.8 597.8 194.5 597.5 187.5 597.5 187.2 597.2 176.2 596.5 165.5 590.8 162 589.5 161.7 587.5 161.2 587 154.8 584.7 150.2 583.8 122.8 590.8 96.8 596.1 85.8 598.1 85.5 597.8 85.2 598.2Z"/>
<path fill-rule="evenodd" fill="#c4fa2f" d="M204.5 597.8 187.5 597.5 187.2 597.2 176.2 596.5 165.5 590.8 162 589.5 161.7 587.5 161.2 587 150.2 583.5 128.2 589 102.2 594.3 87.2 597 85.9 595.5 95.2 589.2 104.8 584.5 112.5 581.8 124.2 579.5 135.5 579.2 135.8 579.5 146.5 579.5 153.2 578.8 162.8 576.8 172.2 573.5 180.2 569.2 181.5 570.5 181.6 569.8 180.9 568.8 182.2 567.8 182.8 567.6 184.2 568.9 183.8 566.8 189.5 563.5 198.2 559.5 209.8 555.8 220.5 554.2 230.8 554.2 236.5 554.8 244.5 556.5 253.8 559.5 262.2 563.2 271.2 568.2 280.5 574.5 281.8 576.5 280.5 578.5 270.8 583.2 260.8 587.2 246.2 591.8 227.2 595.8 216.2 597.2 204.8 597.5 204.5 597.8Z"/>
<path fill-rule="evenodd" fill="#d3fa32" d="M204.5 597.8 187.5 597.5 187.2 597.2 176.2 596.5 165.5 590.8 162 589.5 161.7 587.5 161.2 587 154.8 584.7 148.8 583.4 127.5 588.6 100.5 593.9 88.5 596 87.3 594.5 95.2 589.2 102.5 585.5 112.5 581.8 117.8 580.5 127.8 579.2 139.5 579.5 150.5 579.2 158.8 577.8 165.2 576.2 172.2 573.5 178.5 570.2 179.8 571.5 179.5 569.5 180.2 569.4 181.5 570.6 181.8 569.9 182.2 570.2 181.9 568.8 183.2 569.6 183.5 568.8 184.2 569 184.5 568.3 184.9 568.5 184.8 567 185.9 567.8 185.5 565.8 198.2 559.5 209.8 555.8 220.5 554.2 230.8 554.2 236.5 554.8 244.5 556.5 253.8 559.5 262.2 563.2 271.2 568.2 280.5 574.5 281.8 576.5 280.5 578.5 270.8 583.2 260.8 587.2 246.2 591.8 227.2 595.8 216.2 597.2 204.8 597.5 204.5 597.8ZM184.5 567 184.5 566.7 184.5 567ZM181.8 568.8 181.8 568.4 181.8 568.8Z"/>
<path fill-rule="evenodd" fill="#e0fa34" d="M204.5 597.8 187.5 597.5 187.2 597.2 176.2 596.5 165.5 590.8 162 589.5 161.7 587.5 161.2 587 148.8 583.2 125.8 588.4 96.8 593.8 89.8 595 88.5 593.5 95.2 589.2 102.5 585.5 112.5 581.8 117.8 580.5 127.8 579.2 139.5 579.5 150.5 579.2 158.8 577.8 165.2 576.2 172.2 573.5 177.8 570.5 178.5 570.4 179.8 571.7 180.8 570.6 181.5 570.7 182.5 569.7 182.8 569.9 186.5 567.6 186.8 566.8 187.2 567.2 187.7 566.8 187.2 564.8 198.2 559.5 209.8 555.8 220.5 554.2 230.8 554.2 236.5 554.8 244.5 556.5 253.8 559.5 262.2 563.2 271.2 568.2 280.5 574.5 281.8 576.5 280.5 578.5 270.8 583.2 260.8 587.2 246.2 591.8 227.2 595.8 216.2 597.2 204.8 597.5 204.5 597.8Z"/>
<path fill-rule="evenodd" fill="#ecfa36" d="M204.5 597.8 187.5 597.5 187.2 597.2 176.2 596.5 165.5 590.8 162 589.5 161.7 587.5 161.2 587 154.8 584.7 147.5 583.1 124.8 588 95.2 593.3 91.5 593.9 90.4 592.5 95.2 589.2 102.5 585.5 112.5 581.8 117.8 580.5 127.8 579.2 139.5 579.5 150.5 579.2 162.8 576.8 167.2 575.5 173.8 572.5 174.4 572.5 175.5 573.9 175.8 573.3 176.2 573.6 176.5 573 176.8 573.3 177.2 572.7 177.5 572.9 177.8 572.4 178.2 572.6 178.5 572 178.8 572.3 179.2 571.7 179.5 571.9 182.5 570.3 189 566.2 188.5 564.2 189.5 563.5 196.5 560.2 209.8 555.8 220.5 554.2 230.8 554.2 236.5 554.8 244.5 556.5 253.8 559.5 262.2 563.2 271.2 568.2 280.5 574.5 281.8 576.5 280.5 578.5 270.8 583.2 256.8 588.5 256 588.5 254.8 587.1 254.5 588 253.8 587.4 253.5 588.3 253.2 587.7 252.5 587.8 252.5 588.5 252.2 588 250.4 588.5 250.2 589.4 249.9 588.8 249.4 588.8 249.2 589.7 249 589.2 248.4 589.2 248.4 591.2 246.2 591.8 227.2 595.8 216.2 597.2 204.8 597.5 204.5 597.8Z"/>
<path fill-rule="evenodd" fill="#f1f037" d="M204.5 597.8 187.5 597.5 187.2 597.2 176.2 596.5 165.5 590.8 162.1 589.5 161.7 587.5 161.2 587 154.8 584.7 147.5 582.8 123.5 587.7 92.8 592.9 91.5 591.5 95.2 589.2 104.8 584.5 112.5 581.8 119.5 580.2 127.8 579.2 146.5 579.5 158.8 577.8 165.2 576.2 169.2 574.5 169.7 574.5 170.8 575.9 170.8 573.8 172.5 575.3 172.5 573.2 174.2 574.6 174.5 574 174.8 574.3 175.2 573.8 175.5 574 175.8 573.5 176.2 573.7 181.8 570.9 191.4 564.8 190.8 562.8 196.5 560.2 209.8 555.8 220.5 554.2 230.8 554.2 236.5 554.8 244.5 556.5 253.8 559.5 262.2 563.2 271.2 568.2 280.5 574.5 281.8 576.5 280.5 578.5 272.8 582.2 271.9 581.8 271.5 580.8 270.5 580.9 253.8 585 240.8 589.1 231.9 592.8 232.2 594.8 231.2 595.2 216.2 597.2 204.8 597.5 204.5 597.8Z"/>
<path fill-rule="evenodd" fill="#efde37" d="M204.5 597.8 187.5 597.5 187.2 597.2 176.2 596.5 165.5 590.8 162.1 589.5 161.7 587.5 161.2 586.9 154.8 584.7 147.5 582.8 94.5 591.9 93.2 590.5 106.5 583.8 119.5 580.2 127.8 579.2 139.5 579.5 150.5 579.2 158.8 577.8 167.5 575.2 168 575.2 169.2 576.6 169.5 575.6 170.2 576.2 171.5 575.3 171.8 575.6 173.2 574.7 174.2 574.7 185.8 569.1 193.3 563.8 192.8 561.8 196.5 560.2 209.8 555.8 220.5 554.2 230.8 554.2 236.5 554.8 244.5 556.5 253.8 559.5 262.2 563.2 271.2 568.2 280.5 574.5 281.8 576.5 281.5 577.5 279.8 578.8 279.1 578.5 278.5 577.3 274.8 577.9 255.2 582.2 240.2 586.5 231.8 589.6 224.5 593.2 222.4 594.5 222.4 596.5 212.2 597.2 211.8 597.5 204.8 597.5 204.5 597.8Z"/>
<path fill-rule="evenodd" fill="#edc935" d="M204.5 597.8 187.5 597.5 187.2 597.2 176.2 596.5 165.5 590.8 162.1 589.5 161.7 587.5 161.2 586.9 154.8 584.7 145.8 582.5 124.8 586.4 96.2 590.9 94.8 589.5 106.5 583.8 119.5 580.2 127.8 579.2 139.5 579.5 150.5 579.2 158.8 577.8 166.5 575.6 167.5 577.2 167.8 576.3 168.5 576.9 168.8 576.4 169.2 576.7 169.8 576.1 170.2 576.4 174.8 574.7 186.5 569.2 195 563.2 194.5 561.2 196.5 560.2 209.8 555.8 220.5 554.2 230.8 554.2 236.5 554.8 244.5 556.5 253.8 559.5 260.8 562.5 267.8 566.2 276.8 571.8 279.6 574.2 278.5 575.3 255.5 579.7 238.4 584.2 229.2 587.5 221.5 591.2 215.5 595.2 215.5 597.2 204.8 597.5 204.5 597.8Z"/>
<path fill-rule="evenodd" fill="#ecb333" d="M204.5 597.8 187.5 597.5 187.2 597.2 176.2 596.5 165.5 590.8 162.1 589.5 161.7 587.5 161.2 586.9 154.8 584.6 145.8 582.5 108.2 588.4 98.8 589.8 98.5 589.5 98.2 589.9 97.1 588.5 106.5 583.8 112.5 581.8 121.5 579.8 127.8 579.2 146.5 579.5 157.2 578.2 163.2 576.7 163.3 577.5 164.2 578.3 164.5 576.3 164.7 577.2 165.5 577.9 165.8 577.1 166.5 577.6 167.2 577.1 167.5 577.4 168.2 576.8 169.8 576.7 178.5 573.7 187.5 569.4 192.2 566.4 196.5 562.8 197.5 561.8 197.5 559.8 198.2 559.5 209.8 555.8 220.5 554.2 234.2 554.5 246.8 557.2 255.5 560.2 264.8 564.5 273.8 569.8 277.3 572.5 276.2 573.7 249.2 578.7 230.5 583.7 222.5 587 215.6 590.8 209.5 595.5 209.5 597.5 204.8 597.5 204.5 597.8Z"/>
<path fill-rule="evenodd" fill="#eda330" d="M203.8 597.8 187.5 597.5 187.2 597.2 176.2 596.5 165.5 590.8 162.1 589.5 161.8 587.5 161.2 586.9 151.5 583.7 144.2 582.3 111.5 587.3 100.8 588.8 100.5 588.5 100.2 588.9 99.1 587.5 106.5 583.8 112.5 581.8 121.5 579.8 127.8 579.2 146.5 579.5 155.2 578.5 160.5 577.2 161.8 578.9 162.2 577.1 162.3 577.8 163.2 578.6 163.5 578.2 164.2 578.4 165.2 577.8 165.5 578.1 170.8 576.7 181.8 573.1 190.2 568.9 195.2 565.3 199.5 561.2 199.2 559.2 209.8 555.8 220.5 554.2 234.2 554.5 246.8 557.2 253.8 559.5 260.8 562.5 267.8 566.2 274.4 570.5 273.5 572 242.2 577.6 231.5 580.2 222.8 583.1 215.8 586.3 210 590.2 203.9 595.8 203.8 597.8Z"/>
<path fill-rule="evenodd" fill="#ee962d" d="M198.8 597.8 187.5 597.5 187.2 597.2 176.2 596.5 165.5 590.8 162.1 589.5 161.8 587.5 161.2 586.9 151.5 583.6 144.2 582.1 102.2 587.9 101.1 586.5 104.8 584.5 112.5 581.8 121.5 579.8 127.8 579.2 146.5 579.5 153.2 578.8 157.5 577.8 158.5 578.2 159.2 579.5 159.5 577.7 159.6 578.5 160.5 579.3 161 579.2 161.2 578.5 161.8 579.1 162.8 578.5 165.2 578.4 176.8 575.6 186.2 572.4 193.2 568.6 197.2 565.4 201.1 561.2 201.9 560.2 201.8 558.2 209.8 555.8 217.2 554.5 230.8 554.2 238.5 555.2 244.5 556.5 253.8 559.5 260.8 562.5 267.8 566.2 271.8 568.8 270.8 570.4 236.5 576 225.8 578.5 217.5 581.2 210.8 584.5 205.5 588.4 198.9 595.8 198.8 597.8Z"/>
<path fill-rule="evenodd" fill="#ef892a" d="M193.5 597.5 187.5 597.5 187.2 597.2 176.2 596.5 165.5 590.8 162.1 589.5 161.8 587.5 161.2 586.9 151.5 583.6 144.2 582.1 104.5 586.9 103.7 586.2 103.5 585.2 112.5 581.8 121.5 579.8 127.8 579.2 146.5 579.5 154.5 578.5 155.5 580.2 155.6 578.2 156.5 578.3 157.5 579.9 158.2 578.1 158.2 578.8 159.2 579.7 160.1 579.2 160.5 579.5 171.2 577.7 183.5 575 191.2 572.3 196.8 568.7 200.5 564.9 204.2 559.7 203.8 557.5 209.8 555.8 217.2 554.5 230.8 554.2 241.8 555.8 255.5 560.2 264.8 564.5 269 567.2 268.2 568.7 229.2 574.4 218.5 576.6 211.2 578.9 205.8 581.7 201.5 585.4 197.2 591 193.5 597.5Z"/>
<path fill-rule="evenodd" fill="#f17a26" d="M211.8 572.8 205.5 572.9 203.8 572.3 203.2 571.5 203.5 567.8 207.1 558.5 206.2 556.8 217.2 554.5 230.8 554.2 241.8 555.8 255.5 560.2 264.8 564.5 266 565.5 265.2 567 211.8 572.8ZM189.8 597.5 182.8 597.2 175.2 596.2 169.5 592.8 162.1 589.5 161.8 587.5 161.2 586.9 151.5 583.6 144.2 582.1 142 581.8 106.8 586 106 585.2 105.8 584.2 117.8 580.5 127.8 579.2 146.5 579.5 152.5 578.8 153.5 580.5 153.5 578.5 154.5 578.7 154.6 579.5 155.5 580.3 156.4 580.2 156.5 578.5 156.5 579.2 157.5 580.1 184.4 577.2 193.5 577 195.5 578.2 195.6 580.5 189.8 595.5 189.8 597.5Z"/>
<path fill-rule="evenodd" fill="#f36b22" d="M230.2 567.8 218.8 567.7 215.3 567.2 212.7 566.2 211.1 564.8 210.1 562.8 210.1 555.8 220.5 554.2 230.8 554.2 236.5 554.8 244.5 556.5 253.8 559.5 260.8 562.5 262.9 563.8 262.2 565.2 230.2 567.8ZM185.5 597.2 175.2 596.2 169.5 592.8 162.1 589.5 161.8 587.5 161.2 586.9 154.8 584.6 145.8 582.3 140 581.8 109.5 585 108.6 584.2 108.5 583.2 117.8 580.5 127.8 579.2 146.5 579.5 152.3 578.8 153.5 580.7 154.8 580.5 154.8 579.8 155.5 580.5 171.2 579.6 180.5 580.1 184.8 581.8 186.8 584.5 187.1 588.5 185.5 597.2Z"/>
<path fill-rule="evenodd" fill="#f55b1f" d="M241.8 564.5 227.8 564.6 219.5 563.2 216.8 562 214.9 560.2 213.8 557.8 213.5 555.2 220.5 554.2 230.8 554.2 236.5 554.8 246.8 557.2 253.8 559.5 258.8 561.8 257.8 563.5 241.8 564.5ZM181.5 596.8 175.2 596.2 169.5 592.8 162.1 589.5 161.8 587.5 161.2 586.9 154.8 584.6 147.5 582.6 139.5 581.7 112.5 584.1 111.8 583.5 111.5 584.2 110.5 582.5 119.5 580.2 127.8 579.2 139.5 579.5 149.7 579.2 150.8 581 152.6 580.8 152.8 580.2 153.5 580.8 165.5 580.6 173.5 581.5 178.2 583.2 179.8 584.5 181 586.2 181.9 590.2 181.5 596.8Z"/>
<path fill-rule="evenodd" fill="#f84b1b" d="M247.2 561.8 234.2 561.8 225.2 560.7 221.7 559.5 219.2 557.9 217.8 556.5 217.8 554.5 230.8 554.2 236.5 554.8 244.5 556.5 254.5 559.8 253.8 561.6 247.2 561.8ZM177.5 596.5 175.2 596.2 169.5 592.8 162.1 589.5 161.8 587.5 161.2 586.9 154.8 584.6 147.5 582.6 139.5 581.5 115.2 583.3 114 581.5 119.5 580.2 127.8 579.2 145.8 579.5 146.8 581.2 147.5 581.2 147.5 579.2 149.5 579.2 150.8 581.1 160.8 581.3 168.2 582.3 173 584.2 176 586.8 177.4 590.8 177.5 596.5Z"/>
<path fill-rule="evenodd" fill="#fa3c17" d="M247.2 559.5 236.8 559.2 229.2 558.1 223.6 556.2 223.6 554.2 230.8 554.2 241.8 555.8 247.8 557.5 248.1 557.8 247.2 559.5ZM118.2 582.5 117.1 581.8 116.8 580.8 127.8 579.2 136.8 579.5 136 581.5 119.5 582.4 118.5 581.5 118.5 580.8 118.5 582.5 118.2 582.5ZM172.5 594.5 162.1 589.5 161.8 587.5 161.2 586.9 154.8 584.5 147.5 582.6 142.2 581.6 139.8 581.7 139.6 579.5 145.7 579.5 146.8 581.4 159.2 582 163.4 582.8 167.3 584.2 170.4 586.2 172.5 588.8 173.7 593.2 172.5 594.5Z"/>
<path fill-rule="evenodd" fill="#fc2f13" d="M129.2 581.5 124.2 581.7 122.9 579.8 127.8 579.2 136.7 579.5 135.8 581.4 129.2 581.5ZM168.2 592.2 162.2 589.5 161.8 587.5 161.2 586.8 154.8 584.5 147.5 582.6 142.2 581.6 139.8 581.6 139.6 579.5 145.5 579.5 146.8 581.5 156.3 582.5 163.1 584.5 166.3 586.5 168.3 588.8 169.2 590.8 168.2 592.2ZM121.8 581.8 120.8 581.2 120.5 580.2 121.9 579.8 121.8 581.8Z"/>
<path fill-rule="evenodd" fill="#fd2711" d="M135.8 581.3 127.8 581.3 126.7 579.5 135.5 579.2 136.6 579.5 135.8 581.3ZM163.2 589.8 162.2 589.5 161.8 587.5 161.2 586.8 154.8 584.5 147.5 582.5 142.5 581.9 142.2 581.5 139.8 581.6 139.7 579.5 143.1 579.5 143.1 581.5 151.8 582.5 158.8 584.5 161.8 586.2 164 588.2 163.2 589.8Z"/>
<path fill-rule="evenodd" fill="#fe2210" d="M140.5 581.5 139.8 581.5 139.8 579.5 140.8 579.5 140.5 581.5ZM143.8 581.8 142.5 581.8 143.8 581.8ZM154.8 584.5 144.5 581.9 150.5 583 154.8 584.5ZM155.5 584.8 155.2 584.6 155.5 584.8Z"/>
</g>
<path fill="none" stroke="#000" stroke-width="0.9" d="M125.8 613.6 109.8 619.8 91.8 625.9 71.9 631.9 49.7 638M146.8 600.5 128.3 608.5 107.2 616.2 82.8 623.7 54.2 631.3M157.2 592 138.5 600.6 116.7 608.6 90.6 616.5 59.3 624.5M161.5 586.8 143.3 595 121.7 602.7 95.8 610.2 64.8 617.7M157.8 585.8 141.2 592.4 121.8 598.6 98.5 604.7 70.9 610.9M154.4 584.5 139.8 589.5 122.7 594.3 102.4 599.1 77.9 604.1M184.7 568.5 184.2 568.8M183.6 569.2 182.7 569.8M181.9 570.3 181 570.8M150.6 583.3 138.2 586.7 123.6 590.1 86.2 597.4M195.9 562.5 190.4 566.9 184.1 570.7 177.1 573.9 168.6 576.9M167.9 577.1 166.3 577.6M164.6 578 164 578.2M146.1 582.4 124.7 586.3 96.3 590.7M214.1 595.4 218.9 592 224.2 589.1 230.3 586.4 236.9 584.1 253.9 579.6 277.9 574.9M183.1 595.2 183.8 590.4 183.6 586.8 182.4 584.2 179.9 582.3 176.5 581.1 171.2 580.4 155.2 580.6M152.6 580.8 150.9 580.9M139.5 581.7 110.1 584.6M212.1 557.3 212.7 560.4 214.4 562.8 217.1 564.4 221.4 565.4 227.5 565.9 235.6 565.8 259.9 564.2"/>
<line x1="48.1" y1="692.1" x2="41" y2="531.3" stroke="#333" stroke-width="0.9"/>
<line x1="44.2" y1="665.4" x2="46.9" y2="665.4" stroke="#333" stroke-width="0.9"/>
<text transform="matrix(0.741 -0.244 -0.000 1.000 42.3 669.6)" font-size="12" text-anchor="end">0.0</text>
<line x1="42.6" y1="628.4" x2="45.3" y2="628.4" stroke="#333" stroke-width="0.9"/>
<text transform="matrix(0.751 -0.210 -0.000 1.000 40.7 632.6)" font-size="12" text-anchor="end">0.1</text>
<line x1="40.9" y1="590.4" x2="43.6" y2="590.4" stroke="#333" stroke-width="0.9"/>
<text transform="matrix(0.761 -0.173 -0.000 1.000 39 594.6)" font-size="12" text-anchor="end">0.2</text>
<line x1="39.2" y1="551.2" x2="41.9" y2="551.2" stroke="#333" stroke-width="0.9"/>
<text transform="matrix(0.768 -0.135 -0.000 1.000 37.3 555.4)" font-size="12" text-anchor="end">0.3</text>
<line x1="48.1" y1="692.1" x2="43.1" y2="693.9" stroke="#333" stroke-width="0.8"/>
<text transform="matrix(0.846 -0.433 0.275 0.479 41.9 694.4)" font-size="11" text-anchor="end" dy="3">4</text>
<line x1="76.4" y1="701.9" x2="71.4" y2="703.9" stroke="#333" stroke-width="0.8"/>
<text transform="matrix(0.846 -0.433 0.275 0.479 70.1 704.4)" font-size="11" text-anchor="end" dy="3">8</text>
<line x1="106.7" y1="712.5" x2="101.8" y2="714.6" stroke="#333" stroke-width="0.8"/>
<text transform="matrix(0.846 -0.433 0.275 0.479 100.5 715.1)" font-size="11" text-anchor="end" dy="3">12</text>
<line x1="139.5" y1="723.9" x2="134.6" y2="726.2" stroke="#333" stroke-width="0.8"/>
<text transform="matrix(0.846 -0.433 0.275 0.479 133.3 726.7)" font-size="11" text-anchor="end" dy="3">16</text>
<line x1="174.9" y1="736.2" x2="170.1" y2="738.7" stroke="#333" stroke-width="0.8"/>
<text transform="matrix(0.846 -0.433 0.275 0.479 168.9 739.3)" font-size="11" text-anchor="end" dy="3">20</text>
<line x1="174.9" y1="736.2" x2="180.1" y2="738" stroke="#333" stroke-width="0.8"/>
<text transform="matrix(0.897 0.312 0.225 0.445 179.3 737.7)" font-size="11" text-anchor="start" dy="2.6">25</text>
<line x1="197.9" y1="724.4" x2="203.1" y2="726.1" stroke="#333" stroke-width="0.8"/>
<text transform="matrix(0.897 0.312 0.225 0.445 202.3 725.8)" font-size="11" text-anchor="start" dy="2.6">30</text>
<line x1="219.3" y1="713.5" x2="224.4" y2="715" stroke="#333" stroke-width="0.8"/>
<text transform="matrix(0.897 0.312 0.225 0.445 223.7 714.8)" font-size="11" text-anchor="start" dy="2.6">35</text>
<line x1="239.2" y1="703.3" x2="244.2" y2="704.7" stroke="#333" stroke-width="0.8"/>
<text transform="matrix(0.897 0.312 0.225 0.445 243.5 704.5)" font-size="11" text-anchor="start" dy="2.6">40</text>
<line x1="257.8" y1="693.8" x2="262.7" y2="695.1" stroke="#333" stroke-width="0.8"/>
<text transform="matrix(0.897 0.312 0.225 0.445 262 694.9)" font-size="11" text-anchor="start" dy="2.6">45</text>
<line x1="275.2" y1="684.9" x2="280" y2="686.2" stroke="#333" stroke-width="0.8"/>
<text transform="matrix(0.897 0.312 0.225 0.445 279.3 686)" font-size="11" text-anchor="start" dy="2.6">50</text>
<text transform="matrix(0.945 0.328 -0.310 0.539 85.4 722.5)" font-size="13.5" text-anchor="middle" dy="4.3">BTA (g/L)</text>
<text transform="matrix(0.890 -0.455 0.525 0.532 252.3 717.2)" font-size="11.752" text-anchor="middle" dy="3.6">Temperature (°C)</text>
<defs><linearGradient id="cbC" x1="0" y1="0" x2="0" y2="1"><stop offset="0.000" stop-color="#ff1e0f"/><stop offset="0.025" stop-color="#fe2110"/><stop offset="0.050" stop-color="#fd2811"/><stop offset="0.075" stop-color="#fa3715"/><stop offset="0.100" stop-color="#f7501c"/><stop offset="0.125" stop-color="#f46922"/><stop offset="0.150" stop-color="#f08228"/><stop offset="0.175" stop-color="#ee972d"/><stop offset="0.200" stop-color="#ecac32"/><stop offset="0.225" stop-color="#eed036"/><stop offset="0.250" stop-color="#f1ee37"/><stop offset="0.275" stop-color="#e6fa35"/><stop offset="0.300" stop-color="#d2fa32"/><stop offset="0.325" stop-color="#b9fa2d"/><stop offset="0.350" stop-color="#a0fa28"/><stop offset="0.375" stop-color="#8cf923"/><stop offset="0.400" stop-color="#78f81e"/><stop offset="0.425" stop-color="#66f719"/><stop offset="0.450" stop-color="#55f614"/><stop offset="0.475" stop-color="#48f611"/><stop offset="0.500" stop-color="#3cf50e"/><stop offset="0.525" stop-color="#3df516"/><stop offset="0.550" stop-color="#3ef51e"/><stop offset="0.575" stop-color="#48f643"/><stop offset="0.600" stop-color="#51f769"/><stop offset="0.625" stop-color="#5bf88e"/><stop offset="0.650" stop-color="#66fab4"/><stop offset="0.675" stop-color="#6ffcd7"/><stop offset="0.700" stop-color="#74feed"/><stop offset="0.725" stop-color="#76fcff"/><stop offset="0.750" stop-color="#6cedff"/><stop offset="0.775" stop-color="#61daff"/><stop offset="0.800" stop-color="#52baff"/><stop offset="0.825" stop-color="#449aff"/><stop offset="0.850" stop-color="#3a7bff"/><stop offset="0.875" stop-color="#2f5bff"/><stop offset="0.900" stop-color="#293fff"/><stop offset="0.925" stop-color="#2423ff"/><stop offset="0.950" stop-color="#2215ff"/><stop offset="0.975" stop-color="#200bff"/><stop offset="1.000" stop-color="#1e00ff"/></linearGradient></defs>
<rect x="291.2" y="527.6" width="15.8" height="152.8" fill="url(#cbC)" stroke="#444" stroke-width="0.8"/>
<line x1="307" y1="529.4" x2="310.5" y2="529.4" stroke="#333" stroke-width="0.9"/>
<text x="314" y="532.6" font-size="9.3">0.2700</text>
<line x1="307" y1="544.4" x2="310.5" y2="544.4" stroke="#333" stroke-width="0.9"/>
<text x="314" y="547.6" font-size="9.3">0.2486</text>
<line x1="307" y1="559.4" x2="310.5" y2="559.4" stroke="#333" stroke-width="0.9"/>
<text x="314" y="562.6" font-size="9.3">0.2272</text>
<line x1="307" y1="574.4" x2="310.5" y2="574.4" stroke="#333" stroke-width="0.9"/>
<text x="314" y="577.6" font-size="9.3">0.2058</text>
<line x1="307" y1="589.4" x2="310.5" y2="589.4" stroke="#333" stroke-width="0.9"/>
<text x="314" y="592.6" font-size="9.3">0.1844</text>
<line x1="307" y1="604.5" x2="310.5" y2="604.5" stroke="#333" stroke-width="0.9"/>
<text x="314" y="607.6" font-size="9.3">0.1630</text>
<line x1="307" y1="619.5" x2="310.5" y2="619.5" stroke="#333" stroke-width="0.9"/>
<text x="314" y="622.6" font-size="9.3">0.1416</text>
<line x1="307" y1="634.5" x2="310.5" y2="634.5" stroke="#333" stroke-width="0.9"/>
<text x="314" y="637.6" font-size="9.3">0.1202</text>
<line x1="307" y1="649.5" x2="310.5" y2="649.5" stroke="#333" stroke-width="0.9"/>
<text x="314" y="652.6" font-size="9.3">0.09880</text>
<line x1="307" y1="664.5" x2="310.5" y2="664.5" stroke="#333" stroke-width="0.9"/>
<text x="314" y="667.7" font-size="9.3">0.07740</text>
<line x1="307" y1="679.5" x2="310.5" y2="679.5" stroke="#333" stroke-width="0.9"/>
<text x="314" y="682.7" font-size="9.3">0.05600</text>
<text transform="translate(13.2 108.5) rotate(90)" font-size="15" letter-spacing="0.5" text-anchor="middle" class="h"><tspan font-style="italic">E</tspan><tspan font-size="10.5" dy="3.4">pit</tspan><tspan dy="-3.4"> (V vs SCE)</tspan></text>
<text transform="translate(13.2 363) rotate(90)" font-size="15" letter-spacing="0.5" text-anchor="middle" class="h"><tspan font-style="italic">E</tspan><tspan font-size="10.5" dy="3.4">pit</tspan><tspan dy="-3.4"> (V vs SCE)</tspan></text>
<text transform="translate(13.2 617.1) rotate(90)" font-size="15" letter-spacing="0.5" text-anchor="middle" class="h"><tspan font-style="italic">E</tspan><tspan font-size="10.5" dy="3.4">pit</tspan><tspan dy="-3.4"> (V vs SCE)</tspan></text>
<text x="2.2" y="20" font-size="19" class="h">(a<tspan font-size="12.5" dy="3.5">1</tspan><tspan dy="-3.5">)</tspan></text>
<text x="1" y="272.5" font-size="19" class="h">(b<tspan font-size="12.5" dy="3.5">1</tspan><tspan dy="-3.5">)</tspan></text>
<text x="1.8" y="531.5" font-size="19" class="h">(c<tspan font-size="12.5" dy="3.5">1</tspan><tspan dy="-3.5">)</tspan></text>
<text x="364" y="15.7" font-size="19" class="h">(a<tspan font-size="12.5" dy="3.5">2</tspan><tspan dy="-3.5">)</tspan></text>
<text x="362.5" y="263.4" font-size="19" class="h">(b<tspan font-size="12.5" dy="3.5">2</tspan><tspan dy="-3.5">)</tspan></text>
<text x="360.5" y="528" font-size="19" class="h">(c<tspan font-size="12.5" dy="3.5">2</tspan><tspan dy="-3.5">)</tspan></text>
<rect x="412" y="12" width="207.5" height="185" fill="#1f04ff"/>
<path fill-rule="evenodd" fill="#200dff" d="M619.5 197 412 197 412 14.5 413.4 12 619.5 12 619.5 197Z"/>
<path fill-rule="evenodd" fill="#2216ff" d="M619.5 197 412 197 412 18.4 415.7 12 619.5 12 619.5 197Z"/>
<path fill-rule="evenodd" fill="#2421ff" d="M619.5 197 412 197 412 22.5 417.9 12 619.5 12 619.5 197Z"/>
<path fill-rule="evenodd" fill="#2838ff" d="M619.5 197 412 197 412 26.6 420.2 12 619.5 12 619.5 197Z"/>
<path fill-rule="evenodd" fill="#2c4fff" d="M619.5 197 412 197 412 30.8 422.6 12 619.5 12 619.5 197Z"/>
<path fill-rule="evenodd" fill="#3368ff" d="M619.5 197 412 197 412 35.1 424.9 12 619.5 12 619.5 197Z"/>
<path fill-rule="evenodd" fill="#3c82ff" d="M619.5 197 412 197 412 39.4 427.3 12 619.5 12 619.5 197Z"/>
<path fill-rule="evenodd" fill="#459cff" d="M619.5 197 412 197 412 43.9 420.5 28 429.8 12 619.5 12 619.5 197Z"/>
<path fill-rule="evenodd" fill="#51b7ff" d="M619.5 197 412 197 412 48.5 421.8 30 432.2 12 619.5 12 619.5 197Z"/>
<path fill-rule="evenodd" fill="#5dd2ff" d="M619.5 197 412 197 412 53.2 423 32.3 434.7 12 619.5 12 619.5 197Z"/>
<path fill-rule="evenodd" fill="#68e7ff" d="M619.5 197 412 197 412 58.1 424 35 437.3 12 619.5 12 619.5 197Z"/>
<path fill-rule="evenodd" fill="#70f3ff" d="M619.5 197 412 197 412 63.1 425.4 37 439.9 12 619.5 12 619.5 197Z"/>
<path fill-rule="evenodd" fill="#78fffe" d="M619.5 197 412 197 412 68.2 426.5 39.6 442.5 12 619.5 12 619.5 197Z"/>
<path fill-rule="evenodd" fill="#74feeb" d="M619.5 197 412 197 412 73.6 419.5 57.9 427.5 42.5 436 27.3 445.2 12 619.5 12 619.5 197Z"/>
<path fill-rule="evenodd" fill="#6ffcd8" d="M619.5 197 412 197 412 79.1 420 62 429 44.5 438.2 28 447.9 12 619.5 12 619.5 197Z"/>
<path fill-rule="evenodd" fill="#68fbbd" d="M619.5 197 412 197 412 84.8 420.6 66 430 47.5 440 29.6 450.7 12 619.5 12 619.5 197Z"/>
<path fill-rule="evenodd" fill="#60f99e" d="M619.5 197 412 197 412 90.7 421.1 70.5 431.1 50.5 442 30.8 453.5 12 619.5 12 619.5 197Z"/>
<path fill-rule="evenodd" fill="#57f77f" d="M619.5 197 412 197 412 97 421.6 75 432.5 53 444 32.2 456.4 12 619.5 12 619.5 197Z"/>
<path fill-rule="evenodd" fill="#4ff660" d="M619.5 197 412 197 412 103.5 422 80 433.5 56.3 446 33.6 459.4 12 619.5 12 619.5 197Z"/>
<path fill-rule="evenodd" fill="#47f640" d="M619.5 197 412 197 412 110.4 422.5 84.9 434.5 59.8 448 35.1 462.4 12 619.5 12 619.5 197Z"/>
<path fill-rule="evenodd" fill="#3ff521" d="M619.5 197 412 197 412 117.7 423 90 435.5 63.3 449.8 37 465.5 12 619.5 12 619.5 197Z"/>
<path fill-rule="evenodd" fill="#3df518" d="M619.5 197 412 197 412 125.6 417.5 110.5 423.2 96 429.6 81.5 436.5 67 444 52.6 451.9 38.5 460 25.2 468.7 12 619.5 12 619.5 197Z"/>
<path fill-rule="evenodd" fill="#3cf511" d="M619.5 197 412 197 412 134.1 412.5 132.5 418 116.6 424 101 430.7 85.5 438 70 445.7 55 454 40.2 462.7 26 471.9 12 619.5 12 619.5 197Z"/>
<path fill-rule="evenodd" fill="#41f50f" d="M619.5 197 412 197 412 143.4 417.5 126 423 111 429 96 435.5 81.3 442.5 66.9 450 52.7 458 38.7 466.5 25 475.3 12 619.5 12 619.5 197Z"/>
<path fill-rule="evenodd" fill="#4cf612" d="M619.5 197 412 197 412 153.9 417 136.5 422.9 119 428.2 105 434.1 91 440.5 77 447.5 63.1 454.9 49.5 462.5 36.6 470.5 24 478.7 12 619.5 12 619.5 197Z"/>
<path fill-rule="evenodd" fill="#56f614" d="M619.5 197 412 197 412 166.2 419.1 139.5 428.3 112.5 439.4 86 452 60.5 466.5 35.4 482.2 12 619.5 12 619.5 197Z"/>
<path fill-rule="evenodd" fill="#65f719" d="M619.5 197 412 197 412 181.5 416.3 161 420 147 424 133.5 428.6 120 433.9 106 444.9 81 457.2 57 471 33.7 485.9 12 619.5 12 619.5 197Z"/>
<path fill-rule="evenodd" fill="#74f81d" d="M619.5 197 412.9 197 416.7 173.5 422.4 149.5 429.8 125.5 438.9 101.5 449.5 78 461.9 54.5 475.3 32.5 489.7 12 619.5 12 619.5 197Z"/>
<path fill-rule="evenodd" fill="#84f921" d="M619.5 197 416.3 197 420 173.7 425.5 150 433 125.7 442.2 101.5 453 77.7 465.4 54.5 479 32.5 493.6 12 619.5 12 619.5 197Z"/>
<path fill-rule="evenodd" fill="#94f925" d="M619.5 197 419.8 197 423.4 173.5 429 149.5 436.5 125.1 445.7 101 456.5 77.5 469 54.4 482.8 32.5 497.7 12 619.5 12 619.5 197Z"/>
<path fill-rule="evenodd" fill="#a6fa29" d="M619.5 197 423.4 197 426.9 173.5 432.4 149.5 439.9 125 449.2 101 460.3 77 472.9 54 487 32 501.9 12 619.5 12 619.5 197Z"/>
<path fill-rule="evenodd" fill="#bbfa2d" d="M619.5 197 427.2 197 428.5 185.5 430.5 173.5 435.9 149.5 443.4 125 452.9 100.5 464.2 76.5 477 53.6 491.1 32 506.4 12 619.5 12 619.5 197Z"/>
<path fill-rule="evenodd" fill="#d0fa32" d="M619.5 197 431.1 197 432.3 185.5 434.2 173.5 439.5 149.5 447 125 456.6 100.5 468 76.4 481 53.5 495.5 31.8 503 21.9 511.1 12 619.5 12 619.5 197Z"/>
<path fill-rule="evenodd" fill="#e1fa34" d="M619.5 197 435.1 197 436.3 185.5 438.1 173.5 440.5 161.1 443.4 149 447 136.5 450.9 124.5 460.6 100 472.1 76 478.5 64.5 485.5 52.9 492.7 42 500.2 31.5 508 21.5 516.1 12 619.5 12 619.5 197Z"/>
<path fill-rule="evenodd" fill="#f2fa37" d="M619.5 197 439.3 197 440.3 185.5 442.1 173.5 444.4 161 447.4 148.5 451 136.1 455 124 459.7 111.5 464.9 99 470.8 86.5 477 74.6 483.5 63.1 490.4 52 497.9 41 505.5 30.8 513.4 21 521.4 12 619.5 12 619.5 197Z"/>
<path fill-rule="evenodd" fill="#efe237" d="M619.5 197 443.7 197 444.6 185.5 446.2 173.5 448.5 161 451.5 148.5 455 136 459.2 123.5 463.9 111 469.3 98.5 475 86.4 481.5 74.1 488 63 495.3 51.5 503 40.6 510.8 30.5 519 20.8 527.2 12 619.5 12 619.5 197Z"/>
<path fill-rule="evenodd" fill="#edc735" d="M618 197 448.3 197 449.1 185 450.7 173 452.9 160.5 455.8 148 459.4 135.5 463.6 123 468.5 110.1 474 97.5 480 85.2 486.5 73.2 493.5 61.6 500.8 50.5 508.5 40 516.5 30.1 525 20.5 533.5 12 619.5 12 619.5 194.9 618 197Z"/>
<path fill-rule="evenodd" fill="#ecaa32" d="M613 197 453.2 197 453.8 185 455.2 173 457.4 160.5 460.2 148 463.9 135 468.3 122 473.4 109 478.9 96.5 485.2 84 492 71.9 499.4 60 507 49.1 515 38.7 523.3 29 531.9 20 540.5 12 619.5 12 619.5 186.9 613.3 197 613 197Z"/>
<path fill-rule="evenodd" fill="#ee992d" d="M608 197 458.4 197 458.8 185 460.1 173 462.1 160.5 465 147.5 468.7 134.5 473.3 121 478.5 107.9 484.4 95 491 82.3 498 70.3 505.5 58.9 513.5 47.9 522 37.5 530.5 28.3 539.5 19.6 548.6 12 619.5 12 619.5 178.2 613.5 188.5 608 197Z"/>
<path fill-rule="evenodd" fill="#f08729" d="M602 197 464 197 464.2 185 465.3 172.5 467.3 159.5 470.2 146.5 474 133 478.7 119.5 484.3 106 490.5 92.9 497.5 80 505 67.9 513 56.4 521.6 45.5 530.5 35.5 539.5 26.7 549 18.7 558.5 12 619.5 12 619.5 168.7 609.7 186 602.5 197 602 197Z"/>
<path fill-rule="evenodd" fill="#f27324" d="M596 197 470.1 197 469.9 184.5 470.9 171.5 472.9 158 476.1 144 480.4 129.5 485.5 115.5 491.5 101.8 498.6 88 506.5 74.6 514.7 62.5 523.5 51.3 533 40.7 542.5 31.6 552.5 23.6 562.5 17 572.4 12 616.6 12 619.5 14 619.5 157.8 614 168.8 607.9 179.5 600.3 191.5 596.4 197 596 197Z"/>
<path fill-rule="evenodd" fill="#f55f20" d="M589.5 197 476.9 197 476.3 189 476.3 180.5 477.3 167 479.6 153 483.1 138.5 488 123.6 493.9 109 500.7 95 508.5 81.3 517 68.5 526.4 56.5 536 45.9 546 36.7 556 29.1 566 23.2 576 18.8 585.5 16.4 594.5 15.7 601.5 16.5 608 18.6 614 22 619.5 26.7 619.5 145.1 613.2 159 606 172.5 597.6 186 589.5 197Z"/>
<path fill-rule="evenodd" fill="#f84a1a" d="M581.5 197 484.6 197 483.2 185 483.4 171.5 484.7 159 487.2 146.5 490.7 133.5 495.4 120 501 107 507.5 94.2 514.5 82.5 522.5 70.9 531 60.4 540 51 549 43 558 36.5 567 31.5 576 27.9 584.5 26 592.5 25.7 600.5 27.2 604.5 28.8 608 30.8 614.2 36 619.5 43.2 619.5 128.6 612.3 147.5 603.2 166 597.9 175 592 183.9 584.5 193.9 581.9 197 581.5 197Z"/>
<path fill-rule="evenodd" fill="#fb3515" d="M572.5 197 493.7 197 491.9 189 490.9 180.5 490.8 171.5 491.5 161.5 493.1 150.5 495.8 139 499.4 127.5 503.8 116 509 104.7 515 93.7 521.5 83.4 528.5 73.9 536 65 544 57.1 552 50.4 559.9 45 568 40.8 575.5 38.1 583 36.7 590 36.8 594 37.5 597.5 38.6 601 40.3 604.3 42.5 607.2 45 610 48.2 614.4 55.5 617.6 64 619.5 73.8 619.5 98 617.4 111 614.1 124.5 609.5 138 603.7 151.5 596.9 164.5 589 177 580.4 188.5 572.5 197Z"/>
<path fill-rule="evenodd" fill="#fd2912" d="M560.5 197 505.8 197 503.6 192.5 502 188 500.6 182.5 499.7 176.5 499.5 163.5 501.1 149.5 503.2 140 506 130.5 509.4 121 513.5 111.5 518.1 102.5 523.5 93.5 529.3 85 535.5 77.2 542 70.2 548.5 64.2 555.2 59 562 54.8 568.5 51.8 575 49.9 581 49.1 587 49.5 593.5 51.5 596.5 53.2 599.5 55.6 604.4 61.5 608 68.9 610.4 77.5 611.5 87.5 611.3 98.5 609.8 110.5 607 122.6 603 135 597.8 147.5 591.6 159.5 584.5 170.7 576.8 181 568.5 190.1 560.5 197Z"/>
<path fill-rule="evenodd" fill="#fe2210" d="M538.5 195.5 534 196 530 195.7 526 194.6 522.5 192.9 519 190.2 516.3 187 513.9 183 512.1 178.5 510.8 173.5 509.9 168 509.6 162 509.8 155.5 510.6 148.5 511.9 141.5 516 127.5 522 113.2 529.4 100 538 88.2 547.5 78.2 552.5 74 557.5 70.5 562.5 67.7 567 65.8 571.5 64.5 576 63.9 580.5 64 584.5 65 587.5 66.3 590.5 68.4 595 73.3 598.5 80.3 600.6 88.5 601.3 98.5 600.6 109 598.5 120.5 595 132.1 590.4 143.5 584.5 154.9 578 165 570.4 174.5 562.5 182.5 554.5 188.6 546.5 193 538.5 195.5Z"/>
<path fill-rule="evenodd" fill="#ff1f0f" d="M543 176.5 540 176.8 537 176.5 534 175.6 531.5 174.2 529.5 172.5 527.4 170 524.6 164 523.1 156.5 523.1 147.5 524.6 138 527.5 128 531.8 118 537 108.7 543 100.4 550 93 556.5 88 563.5 84.5 570 83.1 573 83.2 576 83.8 580 86 583.5 89.8 585.9 94.5 587.5 100.5 588 107.5 587.5 115 586 123 583.5 131.5 580 140 576 147.7 571.3 155 566 161.6 560.5 167.1 554.5 171.7 548.5 174.9 543 176.5Z"/>
<path fill="none" stroke="#000" stroke-width="0.85" d="M412 35.1 424.9 12"/>
<path fill="none" stroke="#000" stroke-width="0.85" d="M412 63.1 425.4 37 439.9 12"/>
<path fill="none" stroke="#000" stroke-width="0.85" d="M412 97 421.6 75 432.5 53 444 32.2 456.4 12"/>
<path fill="none" stroke="#000" stroke-width="0.85" d="M412 143.4 417.5 126.1 423.7 109 430.7 92 438.5 75 446.8 58.5 455.8 42.5 465.2 27 475.3 12"/>
<path fill="none" stroke="#000" stroke-width="0.85" d="M419.8 197 423.4 173.5 429 149.5 436.5 125.1 445.7 101 456.5 77.5 469 54.4 482.8 32.5 497.7 12"/>
<path fill="none" stroke="#000" stroke-width="0.85" d="M443.7 197 444.6 185.5 446.2 173.5 448.5 161 451.5 148.5 455 136 459.2 123.5 463.9 111 469.3 98.5 475 86.4 481.5 74.1 488 63 495.3 51.5 503 40.6 510.8 30.5 519 20.8 527.2 12"/>
<path fill="none" stroke="#000" stroke-width="0.85" d="M476.9 197 476.3 189 476.2 181 476.7 172.5 477.8 163.5 481.4 145 487 126.4 494.5 107.6 503.7 89.5 514.2 72.5 526 56.9 538.5 43.5 545 37.6 551.5 32.3 558 27.8 564.5 23.9 571 20.8 577.5 18.3 583.5 16.7 589.5 15.8 595.5 15.7 601 16.4 606 17.8 611 20.1 615.5 23.1 619.5 26.7M619.5 145.1 613.2 159 606 172.5 598 185.4 589.6 197"/>
<rect x="411.4" y="260.8" width="204.2" height="181.8" fill="#1f04ff"/>
<path fill-rule="evenodd" fill="#200dff" d="M615.6 442.6 411.4 442.6 411.4 269 412.9 260.8 615.6 260.8 615.6 442.6Z"/>
<path fill-rule="evenodd" fill="#2216ff" d="M615.6 442.6 411.4 442.6 411.4 280.3 415.2 260.8 615.6 260.8 615.6 442.6Z"/>
<path fill-rule="evenodd" fill="#2421ff" d="M615.6 442.6 411.4 442.6 411.4 291.2 417.5 260.8 615.6 260.8 615.6 442.6Z"/>
<path fill-rule="evenodd" fill="#2838ff" d="M615.6 442.6 411.4 442.6 411.4 301.7 419.8 260.8 615.6 260.8 615.6 442.6Z"/>
<path fill-rule="evenodd" fill="#2c4fff" d="M615.6 442.6 411.4 442.6 411.4 311.8 417.1 286.3 422.2 260.8 615.6 260.8 615.6 442.6Z"/>
<path fill-rule="evenodd" fill="#3368ff" d="M615.6 442.6 411.4 442.6 411.4 321.6 418.5 290.8 424.6 260.8 615.6 260.8 615.6 442.6Z"/>
<path fill-rule="evenodd" fill="#3c82ff" d="M615.6 442.6 411.4 442.6 411.4 331 419.8 295.8 427 260.8 615.6 260.8 615.6 442.6Z"/>
<path fill-rule="evenodd" fill="#459cff" d="M615.6 442.6 411.4 442.6 411.4 340.2 421.2 300.3 429.5 260.8 615.6 260.8 615.6 442.6Z"/>
<path fill-rule="evenodd" fill="#51b7ff" d="M615.6 442.6 411.4 442.6 411.4 349.2 422.7 304.3 432 260.8 615.6 260.8 615.6 442.6Z"/>
<path fill-rule="evenodd" fill="#5dd2ff" d="M615.6 442.6 411.4 442.6 411.4 357.9 424.2 308.7 429.6 284.8 434.6 260.8 615.6 260.8 615.6 442.6Z"/>
<path fill-rule="evenodd" fill="#68e7ff" d="M615.6 442.6 411.4 442.6 411.4 366.4 419.1 338.7 425.7 312.7 431.8 286.8 437.2 260.8 615.6 260.8 615.6 442.6Z"/>
<path fill-rule="evenodd" fill="#70f3ff" d="M615.6 442.6 411.4 442.6 411.4 374.7 419.7 345.7 427.3 316.7 434.1 288.3 439.9 260.8 615.6 260.8 615.6 442.6Z"/>
<path fill-rule="evenodd" fill="#78fffe" d="M615.6 442.6 411.4 442.6 411.4 382.8 420.7 351.2 429 320.2 436.3 290.3 442.6 260.8 615.6 260.8 615.6 442.6Z"/>
<path fill-rule="evenodd" fill="#74feeb" d="M615.6 442.6 411.4 442.6 411.4 390.8 421.7 356.7 430.8 323.7 438.7 291.8 445.4 260.8 615.6 260.8 615.6 442.6Z"/>
<path fill-rule="evenodd" fill="#6ffcd8" d="M615.6 442.6 411.4 442.6 411.4 398.6 422.7 362.2 432.6 327.2 441.1 293.3 448.2 260.8 615.6 260.8 615.6 442.6Z"/>
<path fill-rule="evenodd" fill="#68fbbd" d="M615.6 442.6 411.4 442.6 411.4 406.2 423.7 367.7 434.4 330.7 443.6 294.8 451.1 260.8 615.6 260.8 615.6 442.6Z"/>
<path fill-rule="evenodd" fill="#60f99e" d="M615.6 442.6 411.4 442.6 411.4 413.7 424.6 373.2 436.2 334.2 446 296.8 454.1 260.8 615.6 260.8 615.6 442.6Z"/>
<path fill-rule="evenodd" fill="#57f77f" d="M615.6 442.6 411.4 442.6 411.4 421 425.8 378.2 438.2 337.2 448.6 298.3 457.1 260.8 615.6 260.8 615.6 442.6Z"/>
<path fill-rule="evenodd" fill="#4ff660" d="M615.6 442.6 411.4 442.6 411.4 428.3 427.1 382.7 440.2 340.2 451.3 299.8 460.3 260.8 615.6 260.8 615.6 442.6Z"/>
<path fill-rule="evenodd" fill="#47f640" d="M615.6 442.6 411.4 442.6 411.4 435.4 430.7 380.2 438.8 354.7 446.1 330.2 455.6 294.8 463.5 260.8 615.6 260.8 615.6 442.6Z"/>
<path fill-rule="evenodd" fill="#3ff521" d="M615.6 442.6 411.4 442.6 430.1 390.2 444.7 345.2 457 301.8 466.8 260.8 615.6 260.8 615.6 442.6Z"/>
<path fill-rule="evenodd" fill="#3df518" d="M615.6 442.6 413.9 442.6 432.5 391.7 447.8 345.2 460.2 302.3 470.2 260.8 615.6 260.8 615.6 442.6Z"/>
<path fill-rule="evenodd" fill="#3cf511" d="M615.6 442.6 416.6 442.6 435.6 391.2 451.1 344.7 463.7 301.8 473.8 260.8 615.6 260.8 615.6 442.6Z"/>
<path fill-rule="evenodd" fill="#41f50f" d="M615.6 442.6 419.3 442.6 438.6 391.2 454.6 344.2 467.4 301.3 477.5 260.8 615.6 260.8 615.6 442.6Z"/>
<path fill-rule="evenodd" fill="#4cf612" d="M615.6 442.6 422.1 442.6 441.7 391.2 458.1 343.7 471.1 300.8 481.3 260.8 615.6 260.8 615.6 442.6Z"/>
<path fill-rule="evenodd" fill="#56f614" d="M615.6 442.6 425 442.6 445.1 390.7 461.6 343.7 474.8 301.3 480.4 280.8 485.3 260.8 615.6 260.8 615.6 442.6Z"/>
<path fill-rule="evenodd" fill="#65f719" d="M615.6 442.6 427.9 442.6 448.7 389.7 465.6 342.7 479.2 299.8 484.7 279.8 489.5 260.8 615.6 260.8 615.6 442.6Z"/>
<path fill-rule="evenodd" fill="#74f81d" d="M615.6 442.6 430.9 442.6 452.1 389.7 469.5 342.2 483.3 299.8 488.9 280.3 493.9 260.8 615.6 260.8 615.6 442.6Z"/>
<path fill-rule="evenodd" fill="#84f921" d="M615.6 442.6 433.9 442.6 455.8 389.2 473.6 341.7 487.8 299.3 493.6 279.3 498.5 260.8 615.6 260.8 615.6 442.6Z"/>
<path fill-rule="evenodd" fill="#94f925" d="M615.6 442.6 437.1 442.6 459.8 388.2 478.1 340.7 492.7 298.3 498.6 278.8 503.5 260.8 615.6 260.8 615.6 442.6Z"/>
<path fill-rule="evenodd" fill="#a6fa29" d="M615.6 442.6 440.3 442.6 464.2 386.7 482.9 339.7 497.8 297.8 503.7 278.8 508.9 260.8 615.6 260.8 615.6 442.6Z"/>
<path fill-rule="evenodd" fill="#bbfa2d" d="M615.6 442.6 443.6 442.6 468.6 385.7 488.3 337.7 503.2 297.3 509.3 278.8 514.7 260.8 615.6 260.8 615.6 442.6Z"/>
<path fill-rule="evenodd" fill="#d0fa32" d="M615.6 442.6 447.1 442.6 473.2 384.7 493.8 336.2 509.7 295.3 521.2 260.8 615.6 260.8 615.6 442.6Z"/>
<path fill-rule="evenodd" fill="#e1fa34" d="M615.6 442.6 450.6 442.6 478.8 382.2 500.3 333.7 516.7 293.8 528.6 260.8 615.6 260.8 615.6 442.6Z"/>
<path fill-rule="evenodd" fill="#f2fa37" d="M615.6 442.6 454.3 442.6 485.1 378.7 508.3 329.2 525.2 291.3 537.6 260.8 608.9 260.8 611.8 280.8 615.6 303.3 615.6 442.6Z"/>
<path fill-rule="evenodd" fill="#efe237" d="M615.6 442.6 458.2 442.6 549.7 260.8 596.8 260.8 615.6 336.9 615.6 442.6Z"/>
<path fill-rule="evenodd" fill="#edc735" d="M615.6 442.6 462.2 442.6 506 359.7 522 330.9 535 309 545.5 292.9 554.5 281.1 562 273.7 565.6 271.3 569.1 269.8 572.1 269.3 574.6 269.6 577.1 270.6 579.6 272.3 584.6 277.8 589.6 286.2 595.1 298.5 601.1 314.8 607.6 334.9 615.6 362.1 615.6 442.6Z"/>
<path fill-rule="evenodd" fill="#ecaa32" d="M615.6 442.6 466.4 442.6 485.5 407.6 501.5 379.2 515.5 355.7 527.5 336.9 538 322.2 547 311.5 555 304.2 559 301.5 562.5 299.8 568.1 298.7 573.1 299.5 578.1 302.3 583.1 307.2 588.1 314.1 593.1 323.1 598.6 335.2 604.1 349.2 615.6 383.2 615.6 442.6Z"/>
<path fill-rule="evenodd" fill="#ee992d" d="M615.6 442.6 470.8 442.6 489 410.9 504.5 385.2 518 364.5 529.5 348.7 540 336.4 549 328.2 553.5 325.1 557.5 323.1 561.5 321.9 565.6 321.5 570.6 322.2 575.1 324.3 579.6 327.7 584.1 332.6 588.6 338.9 593.1 346.5 598.1 356.5 603.1 367.9 609.1 383.3 615.6 401.7 615.6 442.6Z"/>
<path fill-rule="evenodd" fill="#f08729" d="M615.6 442.6 475.5 442.6 491 416.9 505 395.2 517 378 528 364.2 538 353.6 547 346.3 551.5 343.7 555.5 342 559.5 341 563 340.7 567.6 341.2 571.6 342.6 576.1 345.3 580.1 348.7 584.1 353.1 588.1 358.4 592.1 364.7 596.6 372.9 605.6 392.4 615.6 418.3 615.6 442.6Z"/>
<path fill-rule="evenodd" fill="#f27324" d="M615.6 442.6 480.5 442.6 494 421.6 506 404.1 517 389.6 527 378 536.5 368.8 545 362.6 549 360.5 553 358.9 557 357.9 560.5 357.6 564.5 358 568.1 358.9 572.1 360.7 575.6 363 579.6 366.3 583.1 370 590.6 380.1 595.6 388.5 600.6 398.2 611.1 422.1 615.6 433.7 615.6 442.6Z"/>
<path fill-rule="evenodd" fill="#f55f20" d="M613.1 442.6 485.9 442.6 497.5 425.7 508.5 411 518.5 398.9 527.5 389.5 536 382.2 544 377.1 551.5 374 558.5 373 562 373.2 565.6 374 569.1 375.3 572.6 377.2 579.6 382.7 586.1 390 593.1 400.3 600.1 412.8 608.6 430.9 613.5 442.6 613.1 442.6Z"/>
<path fill-rule="evenodd" fill="#f84a1a" d="M607.6 442.6 491.8 442.6 502 429 511 417.9 520 408.1 528 400.6 535.5 394.8 543 390.5 550 388 557 387.1 563.5 388 569.6 390.3 576.1 394.7 582.1 400.4 588.1 407.7 594.6 417.5 601.1 429.2 607.6 442.6Z"/>
<path fill-rule="evenodd" fill="#fb3515" d="M600.6 442.6 498.4 442.6 507 432.2 515 423.5 522.5 416.3 529.5 410.6 536 406.2 542.5 403 549 400.9 555 400.3 561 400.9 567.1 402.9 573.1 406.4 578.6 410.9 584.6 417.3 590.6 425.2 597.6 436.4 601 442.6 600.6 442.6Z"/>
<path fill-rule="evenodd" fill="#fd2912" d="M593.1 442.6 506 442.6 513 435.2 519.5 429.1 525.5 424.2 531.5 420 537.5 416.7 543 414.4 548.5 413.1 553.5 412.7 559 413.2 564 414.6 569.1 416.9 574.1 420.2 579.1 424.5 584.1 429.9 590.1 437.6 593.5 442.6 593.1 442.6Z"/>
<path fill-rule="evenodd" fill="#fe2210" d="M584.1 442.6 515.1 442.6 525 434.6 534.5 428.9 539 426.9 543.5 425.5 548 424.6 552 424.4 556.5 424.7 560.5 425.5 564.5 427 568.6 428.9 576.6 434.7 581.1 439 584.1 442.6Z"/>
<path fill-rule="evenodd" fill="#ff1f0f" d="M571.1 442.6 527.9 442.6 534 439.4 539.5 437.3 545 436 550.5 435.5 556 436 561.5 437.4 567.6 440.1 571.5 442.6 571.1 442.6Z"/>
<path fill="none" stroke="#000" stroke-width="0.85" d="M411.4 321.6 418.5 290.8 424.6 260.8"/>
<path fill="none" stroke="#000" stroke-width="0.85" d="M411.4 374.7 419.7 345.7 427.3 316.7 434.1 288.3 439.9 260.8"/>
<path fill="none" stroke="#000" stroke-width="0.85" d="M411.4 421 425.8 378.2 438.2 337.2 448.6 298.3 457.1 260.8"/>
<path fill="none" stroke="#000" stroke-width="0.85" d="M419.3 442.6 438.6 391.2 454.6 344.2 467.4 301.3 477.5 260.8"/>
<path fill="none" stroke="#000" stroke-width="0.85" d="M437.1 442.6 459.8 388.2 478.1 340.7 492.7 298.3 498.6 278.8 503.5 260.8"/>
<path fill="none" stroke="#000" stroke-width="0.85" d="M458.2 442.6 549.7 260.8M596.8 260.8 615.6 336.9"/>
<path fill="none" stroke="#000" stroke-width="0.85" d="M485.9 442.6 497.5 425.7 508.5 411 518.5 398.9 527.5 389.5 536 382.2 544 377.1 551.5 374 558.5 373 562 373.2 565.6 374 572.1 376.9 579.1 382.2 585.6 389.4 592.1 398.7 599.1 410.9 606.1 425.3 613.5 442.6"/>
<rect x="412.1" y="524.2" width="206.1" height="182.9" fill="#1f04ff"/>
<path fill-rule="evenodd" fill="#200dff" d="M618.2 707.1 412.7 707.1 413.6 688.6 413.9 670.1 413.4 649.6 412.1 629.5 412.1 524.2 618.2 524.2 618.2 707.1Z"/>
<path fill-rule="evenodd" fill="#2216ff" d="M618.2 707.1 414.5 707.1 415.5 685.6 415.7 664.6 414.6 638.1 412.1 611.5 412.1 524.2 618.2 524.2 618.2 707.1Z"/>
<path fill-rule="evenodd" fill="#2421ff" d="M618.2 707.1 416.2 707.1 417.4 682.6 417.4 659.1 416.8 643.6 415.7 628.1 412.1 597.8 412.1 524.2 618.2 524.2 618.2 707.1Z"/>
<path fill-rule="evenodd" fill="#2838ff" d="M618.2 707.1 418 707.1 419.3 680.1 419.2 653.6 418.3 636.6 416.8 619.6 414.8 603.2 412.1 586.2 412.1 524.2 618.2 524.2 618.2 707.1Z"/>
<path fill-rule="evenodd" fill="#2c4fff" d="M618.2 707.1 419.8 707.1 421.2 677.1 420.9 648.1 419.8 630.1 417.9 612.2 415.4 594.2 412.1 576 412.1 524.2 618.2 524.2 618.2 707.1Z"/>
<path fill-rule="evenodd" fill="#3368ff" d="M618.2 707.1 421.7 707.1 422.7 690.6 423.2 674.6 423.1 658.6 422.6 643.1 421.2 623.6 418.9 604.7 415.9 585.7 412.1 566.7 412.1 524.2 618.2 524.2 618.2 707.1Z"/>
<path fill-rule="evenodd" fill="#3c82ff" d="M618.2 707.1 423.5 707.1 424.6 689.6 425.1 672.1 425 655.1 424.3 638.1 422.6 618.1 420 598.2 416.5 578.2 412.1 558.2 412.1 524.2 618.2 524.2 618.2 707.1Z"/>
<path fill-rule="evenodd" fill="#459cff" d="M618.2 707.1 425.4 707.1 426.6 688.1 427.1 669.6 426.9 651.1 426 633.1 423.9 612.2 421 591.7 417.1 571.2 412.1 550.3 412.1 524.2 618.2 524.2 618.2 707.1Z"/>
<path fill-rule="evenodd" fill="#51b7ff" d="M618.2 707.1 427.3 707.1 428.6 686.6 429.1 666.6 428.8 647.1 427.6 628.1 425.4 607.2 422 585.7 417.5 564.2 412.1 542.9 412.1 524.2 618.2 524.2 618.2 707.1Z"/>
<path fill-rule="evenodd" fill="#5dd2ff" d="M618.2 707.1 429.2 707.1 430.7 685.1 431.2 664.1 430.7 643.6 429.3 623.1 426.7 601.7 422.9 579.7 418.2 558.2 412.1 535.9 412.1 524.2 618.2 524.2 618.2 707.1Z"/>
<path fill-rule="evenodd" fill="#68e7ff" d="M618.2 707.1 431.2 707.1 432.7 684.1 433.2 662.1 432.6 640.1 430.9 618.6 428.4 598.7 424.9 579.2 419.4 554.7 412.1 529.2 412.1 524.2 618.2 524.2 618.2 707.1Z"/>
<path fill-rule="evenodd" fill="#70f3ff" d="M618.2 707.1 433.2 707.1 434.8 683.1 435.3 660.1 434.6 637.6 432.7 615.2 429.6 592.7 425.2 570.2 419.5 547.2 412.5 524.2 618.2 524.2 618.2 707.1Z"/>
<path fill-rule="evenodd" fill="#78fffe" d="M618.2 707.1 435.2 707.1 436.9 683.1 437.5 659.6 436.8 637.1 434.9 614.7 431.8 592.7 427.4 570.2 421.7 547.7 414.6 524.2 618.2 524.2 618.2 707.1Z"/>
<path fill-rule="evenodd" fill="#74feeb" d="M618.2 707.1 437.2 707.1 439 683.1 439.6 660.1 439 637.6 437.2 615.2 434 592.7 429.7 570.7 423.9 547.7 416.7 524.2 618.2 524.2 618.2 707.1Z"/>
<path fill-rule="evenodd" fill="#6ffcd8" d="M618.2 707.1 439.3 707.1 441.2 683.1 441.8 659.6 441.2 637.1 439.4 614.7 436.3 592.7 431.8 570.2 426 547.2 418.8 524.2 618.2 524.2 618.2 707.1Z"/>
<path fill-rule="evenodd" fill="#68fbbd" d="M618.2 707.1 441.4 707.1 443.4 683.1 444.1 659.6 443.5 637.1 441.7 614.7 438.5 592.2 434.1 570.2 428.3 547.7 421 524.2 618.2 524.2 618.2 707.1Z"/>
<path fill-rule="evenodd" fill="#60f99e" d="M618.2 707.1 443.5 707.1 445.6 683.1 446.4 659.6 445.9 637.1 444 614.7 440.9 592.7 436.4 570.2 430.5 547.2 423.2 524.2 618.2 524.2 618.2 707.1Z"/>
<path fill-rule="evenodd" fill="#57f77f" d="M618.2 707.1 445.7 707.1 447.8 683.1 448.7 659.6 448.2 637.1 446.5 614.7 443.4 592.7 438.8 570.2 432.9 547.7 425.5 524.2 618.2 524.2 618.2 707.1Z"/>
<path fill-rule="evenodd" fill="#4ff660" d="M618.2 707.1 447.9 707.1 450.2 682.6 451.1 659.6 450.7 637.1 448.9 614.7 445.8 592.7 441.2 570.2 435.3 547.7 427.8 524.2 618.2 524.2 618.2 707.1Z"/>
<path fill-rule="evenodd" fill="#47f640" d="M618.2 707.1 450.1 707.1 452.5 683.1 453.5 659.6 453.2 637.1 451.4 614.7 448.3 592.7 443.7 570.2 437.7 547.7 430.1 524.2 618.2 524.2 618.2 707.1Z"/>
<path fill-rule="evenodd" fill="#3ff521" d="M618.2 707.1 452.4 707.1 454.9 682.6 456 659.6 455.7 637.1 454 614.7 450.9 592.7 446.2 570.2 440.2 547.7 432.5 524.2 618.2 524.2 618.2 707.1Z"/>
<path fill-rule="evenodd" fill="#3df518" d="M618.2 707.1 454.7 707.1 457.3 682.6 458.5 659.6 458.3 637.1 456.6 614.7 453.5 592.7 448.8 570.2 442.7 547.7 434.9 524.2 618.2 524.2 618.2 707.1Z"/>
<path fill-rule="evenodd" fill="#3cf511" d="M618.2 707.1 457.1 707.1 459.8 682.6 461.1 659.1 460.9 636.6 459.3 614.7 456.2 592.7 451.5 570.2 445.3 547.7 437.4 524.2 618.2 524.2 618.2 707.1Z"/>
<path fill-rule="evenodd" fill="#41f50f" d="M618.2 707.1 459.5 707.1 462.4 682.6 463.8 659.1 463.7 636.6 462.1 614.7 459 592.7 454.3 570.7 447.9 547.7 439.9 524.2 618.2 524.2 618.2 707.1Z"/>
<path fill-rule="evenodd" fill="#4cf612" d="M618.2 707.1 461.9 707.1 465 682.6 466.5 659.1 466.5 636.6 464.9 614.7 461.8 592.7 457.1 570.7 450.8 548.2 442.5 524.2 618.2 524.2 618.2 707.1Z"/>
<path fill-rule="evenodd" fill="#56f614" d="M618.2 707.1 464.5 707.1 467.7 682.1 469.3 658.6 469.4 636.1 467.8 614.2 464.7 592.2 459.9 570.2 453.4 547.7 445.1 524.2 618.2 524.2 618.2 707.1Z"/>
<path fill-rule="evenodd" fill="#65f719" d="M618.2 707.1 467 707.1 470.5 682.1 472.2 658.6 472.3 636.1 470.9 614.2 467.7 592.2 462.9 570.2 456.3 547.7 447.9 524.2 618.2 524.2 618.2 707.1Z"/>
<path fill-rule="evenodd" fill="#74f81d" d="M618.2 707.1 469.7 707.1 473.3 682.1 475.2 658.6 475.4 636.1 474 614.2 470.8 592.2 465.9 570.2 459.2 547.7 450.6 524.2 618.2 524.2 618.2 707.1Z"/>
<path fill-rule="evenodd" fill="#84f921" d="M618.2 707.1 472.4 707.1 476.2 682.1 478.3 658.6 478.6 636.1 477.2 614.2 474.2 592.7 469.2 570.7 462.5 548.2 453.5 524.2 618.2 524.2 618.2 707.1Z"/>
<path fill-rule="evenodd" fill="#94f925" d="M618.2 707.1 475.2 707.1 479.3 681.6 481.5 658.1 481.9 635.6 480.6 614.2 477.5 592.7 472.5 570.7 465.4 547.7 456.5 524.2 618.2 524.2 618.2 707.1Z"/>
<path fill-rule="evenodd" fill="#a6fa29" d="M618.2 707.1 478.1 707.1 482.4 681.6 484.8 657.6 485.4 635.1 484.1 613.7 480.9 592.2 475.9 570.7 468.9 548.2 459.5 524.2 618.2 524.2 618.2 707.1Z"/>
<path fill-rule="evenodd" fill="#bbfa2d" d="M618.2 707.1 481 707.1 485.6 681.6 488.3 657.6 489 635.1 487.8 613.7 484.6 592.2 479.5 570.7 472.3 548.2 462.7 524.2 618.2 524.2 618.2 707.1Z"/>
<path fill-rule="evenodd" fill="#d0fa32" d="M618.2 707.1 484.1 707.1 489 681.1 491.9 657.1 492.7 635.1 492.4 624.1 491.6 613.7 488.6 592.7 483.4 571.2 476 548.7 466 524.2 618.2 524.2 618.2 707.1Z"/>
<path fill-rule="evenodd" fill="#e1fa34" d="M618.2 707.1 487.2 707.1 492.5 681.1 495.7 657.1 496.7 635.1 496.5 624.1 495.7 613.7 494.5 603.2 492.7 592.7 490.3 582.2 487.4 571.2 479.7 548.7 469.4 524.2 618.2 524.2 618.2 707.1Z"/>
<path fill-rule="evenodd" fill="#f2fa37" d="M618.2 707.1 490.5 707.1 496.2 680.6 499.7 656.6 500.6 645.1 501 634.1 500.8 623.6 500.1 613.2 498.8 602.7 496.9 592.2 494.5 581.7 491.6 571.2 483.7 548.7 473 524.2 618.2 524.2 618.2 707.1Z"/>
<path fill-rule="evenodd" fill="#efe237" d="M618.2 707.1 493.9 707.1 500.2 680.1 504 656.1 505 645.1 505.5 634.1 505.4 623.6 504.8 613.2 503.5 602.7 501.6 592.2 499.1 581.7 496 571.2 492.3 560.2 487.8 548.7 476.7 524.2 618.2 524.2 618.2 707.1Z"/>
<path fill-rule="evenodd" fill="#edc735" d="M618.2 707.1 497.4 707.1 504.4 679.6 506.8 667.1 508.7 655.1 509.9 644.1 510.5 633.1 510.4 622.6 509.8 612.7 508.6 602.7 506.8 592.7 504.2 582.2 501 571.7 497.1 560.7 492.5 549.2 480.7 524.2 618.2 524.2 618.2 535.8 615.9 548.2 614.3 560.2 613.3 571.2 613 582.2 613.3 592.7 614.3 603.2 615.9 613.7 618.2 624.2 618.2 707.1Z"/>
<path fill-rule="evenodd" fill="#ecaa32" d="M618.2 707.1 501.1 707.1 508.9 678.6 511.8 665.6 513.8 654.1 515.2 642.6 515.9 632.1 516 622.1 515.4 612.2 514.3 602.7 512.4 592.7 509.8 582.7 506.5 572.2 502.4 561.2 497.5 549.7 484.8 524.2 616.6 524.2 612.5 541.7 609.6 557.7 608 572.2 607.5 586.2 608.3 600.2 610.2 613.7 613.4 627.1 618.2 641.8 618.2 707.1Z"/>
<path fill-rule="evenodd" fill="#ee992d" d="M618.2 707.1 505 707.1 513.9 677.6 517.1 664.6 519.5 652.6 521.2 641.6 522.1 631.1 522.3 621.1 521.8 611.7 520.7 602.2 518.8 592.7 516 582.7 512.5 572.2 508.2 561.7 503 550.2 489.3 524.2 612.1 524.2 606.9 544.2 603.4 561.7 601.6 577.7 601.3 592.2 602.7 607.2 605.8 622.1 610.9 638.1 618.2 655.4 618.2 707.1Z"/>
<path fill-rule="evenodd" fill="#f08729" d="M618.2 707.1 509.2 707.1 519.8 675.1 523.4 662.1 526.3 650.1 528.3 639.1 529.4 629.1 529.8 619.6 529.4 610.7 528.3 601.7 526.3 592.7 523.5 583.2 519.9 573.7 515.3 563.2 509.3 551.2 494.1 524.2 607.3 524.2 600.6 546.7 596.3 565.7 594 582.7 593.9 597.7 594.7 605.2 596 612.7 597.9 620.6 600.4 628.6 607.6 646.1 618.2 667 618.2 707.1Z"/>
<path fill-rule="evenodd" fill="#f27324" d="M618.2 707.1 513.6 707.1 526.9 671.6 531.5 657.6 535 645.6 537.5 635.1 539 626.1 539.7 617.6 539.5 609.7 538.4 601.7 536.5 593.7 533.7 585.7 529.9 576.7 524.9 566.7 517.9 554.2 499.4 524.2 602.1 524.2 592.8 550.7 587 571.2 585.3 579.7 584.3 587.2 583.9 594.7 584.1 601.7 585 608.7 586.8 616.1 589.5 624.1 592.8 632.1 602.8 651.6 618.2 677.1 618.2 707.1Z"/>
<path fill-rule="evenodd" fill="#f55f20" d="M561.2 592.8 558.7 592.7 556.2 591.3 552.7 588.1 548.2 583 533.7 563.9 505.2 524.2 596.2 524.2 580.2 560.3 571.2 579.4 565.7 588.8 563.2 591.6 561.2 592.8ZM618.2 707.1 518.3 707.1 538.7 660.8 549.7 636.8 556.7 623.6 559.2 620.2 561.2 618.5 563.7 617.8 566.7 618.9 570.2 621.9 574.2 626.3 589.2 645.9 618.2 686.3 618.2 707.1Z"/>
<path fill-rule="evenodd" fill="#f84a1a" d="M558.7 561.3 554.7 561.5 550.2 560.5 545.2 558 540.2 554.5 534.7 549.7 528.2 543.1 511.9 524.2 589.5 524.2 580.2 540.3 572.2 551.5 568.7 555.3 565.2 558.3 561.7 560.3 558.7 561.3ZM618.2 707.1 523.5 707.1 538.2 679.1 544.2 669.1 549.2 661.9 554.2 656.1 558.7 652.2 563.2 649.9 567.7 649.1 570.7 649.4 574.2 650.5 577.7 652.2 581.7 654.9 590.7 662.8 601.2 674.1 618.2 694.8 618.2 707.1Z"/>
<path fill-rule="evenodd" fill="#fb3515" d="M553.7 544.7 550.2 544.4 546.7 543.6 542.7 542 538.7 539.8 530.2 533.5 520.1 524.2 581.3 524.2 574.2 533.1 567.2 539.6 563.7 541.9 560.7 543.3 557.2 544.3 553.7 544.7ZM618.2 707.1 529.3 707.1 535.7 696.4 541.2 688 546.2 681.3 551.2 675.7 556.2 671.2 560.7 668.4 565.2 666.6 570.2 666 575.7 666.8 581.2 668.9 587.2 672.4 594.2 677.8 605.2 688.3 618.2 702.6 618.2 707.1Z"/>
<path fill-rule="evenodd" fill="#fd2912" d="M555.7 531.3 550.2 531.5 544.2 530.4 538.2 528.1 531.5 524.2 569.9 524.2 562.7 528.9 559.2 530.4 555.7 531.3ZM615.2 707.1 535.9 707.1 545.7 694.3 550.2 689.6 554.7 685.7 559.2 682.7 563.2 680.8 567.2 679.6 571.7 679.1 576.2 679.5 581.2 680.8 586.2 683 591.2 685.9 596.7 689.9 602.7 694.8 610.2 701.8 615.2 707.1Z"/>
<path fill-rule="evenodd" fill="#fe2210" d="M607.2 707.1 543.8 707.1 551.2 699.8 558.7 694.4 565.7 691.3 569.2 690.5 573.2 690.2 577.2 690.5 581.2 691.3 589.2 694.4 598.7 700.2 607.5 707.1 607.2 707.1Z"/>
<path fill-rule="evenodd" fill="#ff1f0f" d="M596.7 707.1 554.5 707.1 559.7 703.9 564.7 701.7 569.7 700.4 574.7 700 579.7 700.4 585.2 701.7 591.2 704.1 596.7 707.1Z"/>
<path fill="none" stroke="#000" stroke-width="0.85" d="M421.7 707.1 422.8 688.6 423.2 670.6 423 653.1 422.1 635.6 420.7 618.6 418.4 601.2 415.6 584.2 412.1 566.7"/>
<path fill="none" stroke="#000" stroke-width="0.85" d="M433.2 707.1 434.8 683.1 435.3 660.1 434.6 637.6 432.7 615.2 429.6 592.7 425.2 570.2 419.5 547.2 412.5 524.2"/>
<path fill="none" stroke="#000" stroke-width="0.85" d="M445.7 707.1 447.8 683.1 448.7 659.6 448.2 637.1 446.5 614.7 443.4 592.7 438.8 570.2 432.9 547.7 425.5 524.2"/>
<path fill="none" stroke="#000" stroke-width="0.85" d="M459.5 707.1 462.4 682.6 463.8 659.1 463.7 636.6 462.1 614.7 459 592.7 454.3 570.7 447.9 547.7 439.9 524.2"/>
<path fill="none" stroke="#000" stroke-width="0.85" d="M475.2 707.1 479.3 681.6 481.5 658.1 481.9 635.6 480.6 614.2 477.5 592.7 472.5 570.7 465.4 547.7 456.5 524.2"/>
<path fill="none" stroke="#000" stroke-width="0.85" d="M493.9 707.1 500.2 680.1 504 656.1 505 645.1 505.5 634.1 505.4 623.6 504.8 613.2 503.5 602.7 501.6 592.2 499.1 581.7 496 571.2 492.3 560.2 487.8 548.7 476.7 524.2M618.2 570.8 618.2 589.1"/>
<path fill="none" stroke="#000" stroke-width="0.85" d="M596.2 524.2 579.7 561.4 570.2 581.3 567.2 586.6 564.7 590.1 562.2 592.3 560.2 592.9 557.7 592.3 555.2 590.5 551.7 587.1 546.7 581.1 532.2 561.8 505.2 524.2M518.3 707.1 539.7 658.6 551.2 633.7 557.7 622.1 560.2 619.2 562.7 617.9 565.2 618.1 567.7 619.6 571.2 622.9 575.7 628.1 590.2 647.2 618.2 686.3"/>
<rect x="412" y="12" width="207.5" height="185" fill="none" stroke="#222" stroke-width="1"/>
<line x1="412" y1="197" x2="412" y2="200.2" stroke="#222" stroke-width="0.9"/>
<text x="412" y="212.8" font-size="11.5" text-anchor="middle" class="m">4</text>
<line x1="463.9" y1="197" x2="463.9" y2="200.2" stroke="#222" stroke-width="0.9"/>
<text x="463.9" y="212.8" font-size="11.5" text-anchor="middle" class="m">8</text>
<line x1="515.8" y1="197" x2="515.8" y2="200.2" stroke="#222" stroke-width="0.9"/>
<text x="515.8" y="212.8" font-size="11.5" text-anchor="middle" class="m">12</text>
<line x1="567.6" y1="197" x2="567.6" y2="200.2" stroke="#222" stroke-width="0.9"/>
<text x="567.6" y="212.8" font-size="11.5" text-anchor="middle" class="m">16</text>
<line x1="619.5" y1="197" x2="619.5" y2="200.2" stroke="#222" stroke-width="0.9"/>
<text x="619.5" y="212.8" font-size="11.5" text-anchor="middle" class="m">20</text>
<line x1="437.9" y1="197" x2="437.9" y2="198.8" stroke="#222" stroke-width="0.9"/>
<line x1="489.8" y1="197" x2="489.8" y2="198.8" stroke="#222" stroke-width="0.9"/>
<line x1="541.7" y1="197" x2="541.7" y2="198.8" stroke="#222" stroke-width="0.9"/>
<line x1="593.6" y1="197" x2="593.6" y2="198.8" stroke="#222" stroke-width="0.9"/>
<line x1="408.8" y1="197" x2="412" y2="197" stroke="#222" stroke-width="0.9"/>
<text x="406.8" y="200.9" font-size="11.5" text-anchor="end" class="m">1</text>
<line x1="408.8" y1="150.8" x2="412" y2="150.8" stroke="#222" stroke-width="0.9"/>
<text x="406.8" y="154.7" font-size="11.5" text-anchor="end" class="m">2</text>
<line x1="408.8" y1="104.5" x2="412" y2="104.5" stroke="#222" stroke-width="0.9"/>
<text x="406.8" y="108.4" font-size="11.5" text-anchor="end" class="m">3</text>
<line x1="408.8" y1="58.2" x2="412" y2="58.2" stroke="#222" stroke-width="0.9"/>
<text x="406.8" y="62.1" font-size="11.5" text-anchor="end" class="m">4</text>
<line x1="408.8" y1="12" x2="412" y2="12" stroke="#222" stroke-width="0.9"/>
<text x="406.8" y="15.9" font-size="11.5" text-anchor="end" class="m">5</text>
<line x1="410.2" y1="173.9" x2="412" y2="173.9" stroke="#222" stroke-width="0.9"/>
<line x1="410.2" y1="127.6" x2="412" y2="127.6" stroke="#222" stroke-width="0.9"/>
<line x1="410.2" y1="81.4" x2="412" y2="81.4" stroke="#222" stroke-width="0.9"/>
<line x1="410.2" y1="35.1" x2="412" y2="35.1" stroke="#222" stroke-width="0.9"/>
<text x="522.9" y="228" font-size="16" text-anchor="middle" letter-spacing="0.35" class="h">BTA (g/L)</text>
<text transform="translate(385 108) rotate(-90)" font-size="16" text-anchor="middle" class="h">Sulfosalicylic acid (g/L)</text>
<polyline fill="none" points="615.6,260.8 615.6,442.6 411.4,442.6 411.4,260.8" stroke="#222" stroke-width="1"/>
<line x1="411.4" y1="260.8" x2="615.6" y2="260.8" stroke="#e8d8d8" stroke-width="0.8"/>
<line x1="411.4" y1="442.6" x2="411.4" y2="445.8" stroke="#222" stroke-width="0.9"/>
<text x="411.4" y="458.4" font-size="11.5" text-anchor="middle" class="m">4</text>
<line x1="462.4" y1="442.6" x2="462.4" y2="445.8" stroke="#222" stroke-width="0.9"/>
<text x="462.4" y="458.4" font-size="11.5" text-anchor="middle" class="m">8</text>
<line x1="513.5" y1="442.6" x2="513.5" y2="445.8" stroke="#222" stroke-width="0.9"/>
<text x="513.5" y="458.4" font-size="11.5" text-anchor="middle" class="m">12</text>
<line x1="564.5" y1="442.6" x2="564.5" y2="445.8" stroke="#222" stroke-width="0.9"/>
<text x="564.5" y="458.4" font-size="11.5" text-anchor="middle" class="m">16</text>
<line x1="615.6" y1="442.6" x2="615.6" y2="445.8" stroke="#222" stroke-width="0.9"/>
<text x="615.6" y="458.4" font-size="11.5" text-anchor="middle" class="m">20</text>
<line x1="436.9" y1="442.6" x2="436.9" y2="444.4" stroke="#222" stroke-width="0.9"/>
<line x1="488" y1="442.6" x2="488" y2="444.4" stroke="#222" stroke-width="0.9"/>
<line x1="539" y1="442.6" x2="539" y2="444.4" stroke="#222" stroke-width="0.9"/>
<line x1="590.1" y1="442.6" x2="590.1" y2="444.4" stroke="#222" stroke-width="0.9"/>
<line x1="408.2" y1="442.6" x2="411.4" y2="442.6" stroke="#222" stroke-width="0.9"/>
<text x="406.2" y="446.5" font-size="11.5" text-anchor="end" class="m">10</text>
<line x1="408.2" y1="397.2" x2="411.4" y2="397.2" stroke="#222" stroke-width="0.9"/>
<text x="406.2" y="401.1" font-size="11.5" text-anchor="end" class="m">15</text>
<line x1="408.2" y1="351.7" x2="411.4" y2="351.7" stroke="#222" stroke-width="0.9"/>
<text x="406.2" y="355.6" font-size="11.5" text-anchor="end" class="m">20</text>
<line x1="408.2" y1="306.2" x2="411.4" y2="306.2" stroke="#222" stroke-width="0.9"/>
<text x="406.2" y="310.1" font-size="11.5" text-anchor="end" class="m">25</text>
<line x1="408.2" y1="260.8" x2="411.4" y2="260.8" stroke="#222" stroke-width="0.9"/>
<text x="406.2" y="264.7" font-size="11.5" text-anchor="end" class="m">30</text>
<line x1="409.6" y1="419.9" x2="411.4" y2="419.9" stroke="#222" stroke-width="0.9"/>
<line x1="409.6" y1="374.4" x2="411.4" y2="374.4" stroke="#222" stroke-width="0.9"/>
<line x1="409.6" y1="329" x2="411.4" y2="329" stroke="#222" stroke-width="0.9"/>
<line x1="409.6" y1="283.5" x2="411.4" y2="283.5" stroke="#222" stroke-width="0.9"/>
<text x="520.9" y="475.5" font-size="16" text-anchor="middle" letter-spacing="0.35" class="h">BTA (g/L)</text>
<text transform="translate(382 351.2) rotate(-90)" font-size="16" text-anchor="middle" class="h">H<tspan font-size="11" dy="3.5">2</tspan><tspan dy="-3.5">O</tspan><tspan font-size="11" dy="3.5">2</tspan><tspan dy="-3.5"> (ml)</tspan></text>
<rect x="412.1" y="524.2" width="206.1" height="182.9" fill="none" stroke="#222" stroke-width="1"/>
<line x1="412.1" y1="707.1" x2="412.1" y2="710.3" stroke="#222" stroke-width="0.9"/>
<text x="412.1" y="722.9" font-size="11.5" text-anchor="middle" class="m">4</text>
<line x1="463.6" y1="707.1" x2="463.6" y2="710.3" stroke="#222" stroke-width="0.9"/>
<text x="463.6" y="722.9" font-size="11.5" text-anchor="middle" class="m">8</text>
<line x1="515.2" y1="707.1" x2="515.2" y2="710.3" stroke="#222" stroke-width="0.9"/>
<text x="515.2" y="722.9" font-size="11.5" text-anchor="middle" class="m">12</text>
<line x1="566.7" y1="707.1" x2="566.7" y2="710.3" stroke="#222" stroke-width="0.9"/>
<text x="566.7" y="722.9" font-size="11.5" text-anchor="middle" class="m">16</text>
<line x1="618.2" y1="707.1" x2="618.2" y2="710.3" stroke="#222" stroke-width="0.9"/>
<text x="618.2" y="722.9" font-size="11.5" text-anchor="middle" class="m">20</text>
<line x1="437.9" y1="707.1" x2="437.9" y2="708.9" stroke="#222" stroke-width="0.9"/>
<line x1="489.4" y1="707.1" x2="489.4" y2="708.9" stroke="#222" stroke-width="0.9"/>
<line x1="540.9" y1="707.1" x2="540.9" y2="708.9" stroke="#222" stroke-width="0.9"/>
<line x1="592.4" y1="707.1" x2="592.4" y2="708.9" stroke="#222" stroke-width="0.9"/>
<line x1="408.9" y1="707.1" x2="412.1" y2="707.1" stroke="#222" stroke-width="0.9"/>
<text x="406.9" y="711" font-size="11.5" text-anchor="end" class="m">25</text>
<line x1="408.9" y1="670.5" x2="412.1" y2="670.5" stroke="#222" stroke-width="0.9"/>
<text x="406.9" y="674.4" font-size="11.5" text-anchor="end" class="m">30</text>
<line x1="408.9" y1="633.9" x2="412.1" y2="633.9" stroke="#222" stroke-width="0.9"/>
<text x="406.9" y="637.8" font-size="11.5" text-anchor="end" class="m">35</text>
<line x1="408.9" y1="597.4" x2="412.1" y2="597.4" stroke="#222" stroke-width="0.9"/>
<text x="406.9" y="601.3" font-size="11.5" text-anchor="end" class="m">40</text>
<line x1="408.9" y1="560.8" x2="412.1" y2="560.8" stroke="#222" stroke-width="0.9"/>
<text x="406.9" y="564.7" font-size="11.5" text-anchor="end" class="m">45</text>
<line x1="408.9" y1="524.2" x2="412.1" y2="524.2" stroke="#222" stroke-width="0.9"/>
<text x="406.9" y="528.1" font-size="11.5" text-anchor="end" class="m">50</text>
<line x1="410.3" y1="688.8" x2="412.1" y2="688.8" stroke="#222" stroke-width="0.9"/>
<line x1="410.3" y1="652.2" x2="412.1" y2="652.2" stroke="#222" stroke-width="0.9"/>
<line x1="410.3" y1="615.7" x2="412.1" y2="615.7" stroke="#222" stroke-width="0.9"/>
<line x1="410.3" y1="579.1" x2="412.1" y2="579.1" stroke="#222" stroke-width="0.9"/>
<line x1="410.3" y1="542.5" x2="412.1" y2="542.5" stroke="#222" stroke-width="0.9"/>
<text x="518.6" y="739.5" font-size="16" text-anchor="middle" letter-spacing="0.35" class="h">BTA (g/L)</text>
<text transform="translate(379.5 614.7) rotate(-90)" font-size="16" text-anchor="middle" class="h">Temperature (°C)</text>
<rect x="628.3" y="13.1" width="16.7" height="7.9" fill="#ff1f0f"/>
<rect x="628.3" y="20.7" width="16.7" height="4" fill="#fe2210"/>
<rect x="628.3" y="24.4" width="16.7" height="4" fill="#fd2912"/>
<rect x="628.3" y="28.1" width="16.7" height="4" fill="#fb3515"/>
<rect x="628.3" y="31.7" width="16.7" height="4" fill="#f84a1a"/>
<rect x="628.3" y="35.4" width="16.7" height="4" fill="#f55f20"/>
<rect x="628.3" y="39.1" width="16.7" height="4" fill="#f27324"/>
<rect x="628.3" y="42.8" width="16.7" height="4" fill="#f08729"/>
<rect x="628.3" y="46.5" width="16.7" height="4" fill="#ee992d"/>
<rect x="628.3" y="50.2" width="16.7" height="4" fill="#ecaa32"/>
<rect x="628.3" y="53.8" width="16.7" height="4" fill="#edc735"/>
<rect x="628.3" y="57.5" width="16.7" height="4" fill="#efe237"/>
<rect x="628.3" y="61.2" width="16.7" height="4" fill="#f2fa37"/>
<rect x="628.3" y="64.9" width="16.7" height="4" fill="#e1fa34"/>
<rect x="628.3" y="68.6" width="16.7" height="4" fill="#d0fa32"/>
<rect x="628.3" y="72.2" width="16.7" height="4" fill="#bbfa2d"/>
<rect x="628.3" y="75.9" width="16.7" height="4" fill="#a6fa29"/>
<rect x="628.3" y="79.6" width="16.7" height="4" fill="#94f925"/>
<rect x="628.3" y="83.3" width="16.7" height="4" fill="#84f921"/>
<rect x="628.3" y="87" width="16.7" height="4" fill="#74f81d"/>
<rect x="628.3" y="90.7" width="16.7" height="4" fill="#65f719"/>
<rect x="628.3" y="94.4" width="16.7" height="4" fill="#56f614"/>
<rect x="628.3" y="98" width="16.7" height="4" fill="#4cf612"/>
<rect x="628.3" y="101.7" width="16.7" height="4" fill="#41f50f"/>
<rect x="628.3" y="105.4" width="16.7" height="4" fill="#3cf511"/>
<rect x="628.3" y="109.1" width="16.7" height="4" fill="#3df518"/>
<rect x="628.3" y="112.8" width="16.7" height="4" fill="#3ff521"/>
<rect x="628.3" y="116.5" width="16.7" height="4" fill="#47f640"/>
<rect x="628.3" y="120.1" width="16.7" height="4" fill="#4ff660"/>
<rect x="628.3" y="123.8" width="16.7" height="4" fill="#57f77f"/>
<rect x="628.3" y="127.5" width="16.7" height="4" fill="#60f99e"/>
<rect x="628.3" y="131.2" width="16.7" height="4" fill="#68fbbd"/>
<rect x="628.3" y="134.9" width="16.7" height="4" fill="#6ffcd8"/>
<rect x="628.3" y="138.6" width="16.7" height="4" fill="#74feeb"/>
<rect x="628.3" y="142.2" width="16.7" height="4" fill="#78fffe"/>
<rect x="628.3" y="145.9" width="16.7" height="4" fill="#70f3ff"/>
<rect x="628.3" y="149.6" width="16.7" height="4" fill="#68e7ff"/>
<rect x="628.3" y="153.3" width="16.7" height="4" fill="#5dd2ff"/>
<rect x="628.3" y="157" width="16.7" height="4" fill="#51b7ff"/>
<rect x="628.3" y="160.7" width="16.7" height="4" fill="#459cff"/>
<rect x="628.3" y="164.3" width="16.7" height="4" fill="#3c82ff"/>
<rect x="628.3" y="168" width="16.7" height="4" fill="#3368ff"/>
<rect x="628.3" y="171.7" width="16.7" height="4" fill="#2c4fff"/>
<rect x="628.3" y="175.4" width="16.7" height="4" fill="#2838ff"/>
<rect x="628.3" y="179.1" width="16.7" height="4" fill="#2421ff"/>
<rect x="628.3" y="182.8" width="16.7" height="4" fill="#2216ff"/>
<rect x="628.3" y="186.4" width="16.7" height="4" fill="#200dff"/>
<rect x="628.3" y="190.1" width="16.7" height="7.3" fill="#1f04ff"/>
<rect x="628.3" y="13.1" width="16.7" height="184" fill="none" stroke="#333" stroke-width="0.9"/>
<line x1="645" y1="17" x2="648.5" y2="17" stroke="#333" stroke-width="0.9"/>
<text x="652" y="20.1" font-size="9">0.2450</text>
<line x1="645" y1="39.1" x2="648.5" y2="39.1" stroke="#333" stroke-width="0.9"/>
<text x="652" y="42.2" font-size="9">0.2075</text>
<line x1="645" y1="61.2" x2="648.5" y2="61.2" stroke="#333" stroke-width="0.9"/>
<text x="652" y="64.3" font-size="9">0.1700</text>
<line x1="645" y1="83.3" x2="648.5" y2="83.3" stroke="#333" stroke-width="0.9"/>
<text x="652" y="86.4" font-size="9">0.1325</text>
<line x1="645" y1="105.4" x2="648.5" y2="105.4" stroke="#333" stroke-width="0.9"/>
<text x="652" y="108.5" font-size="9">0.09500</text>
<line x1="645" y1="127.5" x2="648.5" y2="127.5" stroke="#333" stroke-width="0.9"/>
<text x="652" y="130.6" font-size="9">0.05750</text>
<line x1="645" y1="149.6" x2="648.5" y2="149.6" stroke="#333" stroke-width="0.9"/>
<text x="652" y="152.7" font-size="9">0.02000</text>
<line x1="645" y1="171.7" x2="648.5" y2="171.7" stroke="#333" stroke-width="0.9"/>
<text x="652" y="174.8" font-size="9">-0.01750</text>
<line x1="645" y1="193.8" x2="648.5" y2="193.8" stroke="#333" stroke-width="0.9"/>
<text x="652" y="196.9" font-size="9">-0.05500</text>
<rect x="626.3" y="258.6" width="16.4" height="7.4" fill="#ff1f0f"/>
<rect x="626.3" y="265.7" width="16.4" height="3.9" fill="#fe2210"/>
<rect x="626.3" y="269.4" width="16.4" height="3.9" fill="#fd2912"/>
<rect x="626.3" y="273" width="16.4" height="3.9" fill="#fb3515"/>
<rect x="626.3" y="276.7" width="16.4" height="3.9" fill="#f84a1a"/>
<rect x="626.3" y="280.3" width="16.4" height="3.9" fill="#f55f20"/>
<rect x="626.3" y="284" width="16.4" height="3.9" fill="#f27324"/>
<rect x="626.3" y="287.6" width="16.4" height="3.9" fill="#f08729"/>
<rect x="626.3" y="291.3" width="16.4" height="3.9" fill="#ee992d"/>
<rect x="626.3" y="294.9" width="16.4" height="3.9" fill="#ecaa32"/>
<rect x="626.3" y="298.6" width="16.4" height="3.9" fill="#edc735"/>
<rect x="626.3" y="302.2" width="16.4" height="3.9" fill="#efe237"/>
<rect x="626.3" y="305.9" width="16.4" height="3.9" fill="#f2fa37"/>
<rect x="626.3" y="309.5" width="16.4" height="3.9" fill="#e1fa34"/>
<rect x="626.3" y="313.2" width="16.4" height="3.9" fill="#d0fa32"/>
<rect x="626.3" y="316.8" width="16.4" height="3.9" fill="#bbfa2d"/>
<rect x="626.3" y="320.5" width="16.4" height="3.9" fill="#a6fa29"/>
<rect x="626.3" y="324.1" width="16.4" height="3.9" fill="#94f925"/>
<rect x="626.3" y="327.8" width="16.4" height="3.9" fill="#84f921"/>
<rect x="626.3" y="331.4" width="16.4" height="3.9" fill="#74f81d"/>
<rect x="626.3" y="335.1" width="16.4" height="3.9" fill="#65f719"/>
<rect x="626.3" y="338.7" width="16.4" height="3.9" fill="#56f614"/>
<rect x="626.3" y="342.4" width="16.4" height="3.9" fill="#4cf612"/>
<rect x="626.3" y="346" width="16.4" height="3.9" fill="#41f50f"/>
<rect x="626.3" y="349.6" width="16.4" height="3.9" fill="#3cf511"/>
<rect x="626.3" y="353.3" width="16.4" height="3.9" fill="#3df518"/>
<rect x="626.3" y="356.9" width="16.4" height="3.9" fill="#3ff521"/>
<rect x="626.3" y="360.6" width="16.4" height="3.9" fill="#47f640"/>
<rect x="626.3" y="364.2" width="16.4" height="3.9" fill="#4ff660"/>
<rect x="626.3" y="367.9" width="16.4" height="3.9" fill="#57f77f"/>
<rect x="626.3" y="371.5" width="16.4" height="3.9" fill="#60f99e"/>
<rect x="626.3" y="375.2" width="16.4" height="3.9" fill="#68fbbd"/>
<rect x="626.3" y="378.8" width="16.4" height="3.9" fill="#6ffcd8"/>
<rect x="626.3" y="382.5" width="16.4" height="3.9" fill="#74feeb"/>
<rect x="626.3" y="386.1" width="16.4" height="3.9" fill="#78fffe"/>
<rect x="626.3" y="389.8" width="16.4" height="3.9" fill="#70f3ff"/>
<rect x="626.3" y="393.4" width="16.4" height="3.9" fill="#68e7ff"/>
<rect x="626.3" y="397.1" width="16.4" height="3.9" fill="#5dd2ff"/>
<rect x="626.3" y="400.7" width="16.4" height="3.9" fill="#51b7ff"/>
<rect x="626.3" y="404.4" width="16.4" height="3.9" fill="#459cff"/>
<rect x="626.3" y="408" width="16.4" height="3.9" fill="#3c82ff"/>
<rect x="626.3" y="411.7" width="16.4" height="3.9" fill="#3368ff"/>
<rect x="626.3" y="415.3" width="16.4" height="3.9" fill="#2c4fff"/>
<rect x="626.3" y="419" width="16.4" height="3.9" fill="#2838ff"/>
<rect x="626.3" y="422.6" width="16.4" height="3.9" fill="#2421ff"/>
<rect x="626.3" y="426.3" width="16.4" height="3.9" fill="#2216ff"/>
<rect x="626.3" y="429.9" width="16.4" height="3.9" fill="#200dff"/>
<rect x="626.3" y="433.6" width="16.4" height="7.9" fill="#1f04ff"/>
<rect x="626.3" y="258.6" width="16.4" height="182.6" fill="none" stroke="#333" stroke-width="0.9"/>
<line x1="642.7" y1="262.1" x2="646.2" y2="262.1" stroke="#333" stroke-width="0.9"/>
<text x="649.7" y="265.2" font-size="9">0.2850</text>
<line x1="642.7" y1="284" x2="646.2" y2="284" stroke="#333" stroke-width="0.9"/>
<text x="649.7" y="287" font-size="9">0.2509</text>
<line x1="642.7" y1="305.9" x2="646.2" y2="305.9" stroke="#333" stroke-width="0.9"/>
<text x="649.7" y="308.9" font-size="9">0.2168</text>
<line x1="642.7" y1="327.8" x2="646.2" y2="327.8" stroke="#333" stroke-width="0.9"/>
<text x="649.7" y="330.8" font-size="9">0.1826</text>
<line x1="642.7" y1="349.6" x2="646.2" y2="349.6" stroke="#333" stroke-width="0.9"/>
<text x="649.7" y="352.7" font-size="9">0.1485</text>
<line x1="642.7" y1="371.5" x2="646.2" y2="371.5" stroke="#333" stroke-width="0.9"/>
<text x="649.7" y="374.6" font-size="9">0.1144</text>
<line x1="642.7" y1="393.4" x2="646.2" y2="393.4" stroke="#333" stroke-width="0.9"/>
<text x="649.7" y="396.5" font-size="9">0.08025</text>
<line x1="642.7" y1="415.3" x2="646.2" y2="415.3" stroke="#333" stroke-width="0.9"/>
<text x="649.7" y="418.4" font-size="9">0.04613</text>
<line x1="642.7" y1="437.2" x2="646.2" y2="437.2" stroke="#333" stroke-width="0.9"/>
<text x="649.7" y="440.3" font-size="9">0.01200</text>
<rect x="625.4" y="524.2" width="16.4" height="7.4" fill="#ff1f0f"/>
<rect x="625.4" y="531.3" width="16.4" height="4" fill="#fe2210"/>
<rect x="625.4" y="534.9" width="16.4" height="4" fill="#fd2912"/>
<rect x="625.4" y="538.6" width="16.4" height="4" fill="#fb3515"/>
<rect x="625.4" y="542.3" width="16.4" height="4" fill="#f84a1a"/>
<rect x="625.4" y="545.9" width="16.4" height="4" fill="#f55f20"/>
<rect x="625.4" y="549.6" width="16.4" height="4" fill="#f27324"/>
<rect x="625.4" y="553.3" width="16.4" height="4" fill="#f08729"/>
<rect x="625.4" y="556.9" width="16.4" height="4" fill="#ee992d"/>
<rect x="625.4" y="560.6" width="16.4" height="4" fill="#ecaa32"/>
<rect x="625.4" y="564.2" width="16.4" height="4" fill="#edc735"/>
<rect x="625.4" y="567.9" width="16.4" height="4" fill="#efe237"/>
<rect x="625.4" y="571.6" width="16.4" height="4" fill="#f2fa37"/>
<rect x="625.4" y="575.2" width="16.4" height="4" fill="#e1fa34"/>
<rect x="625.4" y="578.9" width="16.4" height="4" fill="#d0fa32"/>
<rect x="625.4" y="582.6" width="16.4" height="4" fill="#bbfa2d"/>
<rect x="625.4" y="586.2" width="16.4" height="4" fill="#a6fa29"/>
<rect x="625.4" y="589.9" width="16.4" height="4" fill="#94f925"/>
<rect x="625.4" y="593.6" width="16.4" height="4" fill="#84f921"/>
<rect x="625.4" y="597.2" width="16.4" height="4" fill="#74f81d"/>
<rect x="625.4" y="600.9" width="16.4" height="4" fill="#65f719"/>
<rect x="625.4" y="604.6" width="16.4" height="4" fill="#56f614"/>
<rect x="625.4" y="608.2" width="16.4" height="4" fill="#4cf612"/>
<rect x="625.4" y="611.9" width="16.4" height="4" fill="#41f50f"/>
<rect x="625.4" y="615.5" width="16.4" height="4" fill="#3cf511"/>
<rect x="625.4" y="619.2" width="16.4" height="4" fill="#3df518"/>
<rect x="625.4" y="622.9" width="16.4" height="4" fill="#3ff521"/>
<rect x="625.4" y="626.5" width="16.4" height="4" fill="#47f640"/>
<rect x="625.4" y="630.2" width="16.4" height="4" fill="#4ff660"/>
<rect x="625.4" y="633.9" width="16.4" height="4" fill="#57f77f"/>
<rect x="625.4" y="637.5" width="16.4" height="4" fill="#60f99e"/>
<rect x="625.4" y="641.2" width="16.4" height="4" fill="#68fbbd"/>
<rect x="625.4" y="644.9" width="16.4" height="4" fill="#6ffcd8"/>
<rect x="625.4" y="648.5" width="16.4" height="4" fill="#74feeb"/>
<rect x="625.4" y="652.2" width="16.4" height="4" fill="#78fffe"/>
<rect x="625.4" y="655.9" width="16.4" height="4" fill="#70f3ff"/>
<rect x="625.4" y="659.5" width="16.4" height="4" fill="#68e7ff"/>
<rect x="625.4" y="663.2" width="16.4" height="4" fill="#5dd2ff"/>
<rect x="625.4" y="666.9" width="16.4" height="4" fill="#51b7ff"/>
<rect x="625.4" y="670.5" width="16.4" height="4" fill="#459cff"/>
<rect x="625.4" y="674.2" width="16.4" height="4" fill="#3c82ff"/>
<rect x="625.4" y="677.8" width="16.4" height="4" fill="#3368ff"/>
<rect x="625.4" y="681.5" width="16.4" height="4" fill="#2c4fff"/>
<rect x="625.4" y="685.2" width="16.4" height="4" fill="#2838ff"/>
<rect x="625.4" y="688.8" width="16.4" height="4" fill="#2421ff"/>
<rect x="625.4" y="692.5" width="16.4" height="4" fill="#2216ff"/>
<rect x="625.4" y="696.2" width="16.4" height="4" fill="#200dff"/>
<rect x="625.4" y="699.8" width="16.4" height="8" fill="#1f04ff"/>
<rect x="625.4" y="524.2" width="16.4" height="183.3" fill="none" stroke="#333" stroke-width="0.9"/>
<line x1="641.8" y1="527.6" x2="645.3" y2="527.6" stroke="#333" stroke-width="0.9"/>
<text x="648.8" y="530.7" font-size="9">0.2700</text>
<line x1="641.8" y1="549.6" x2="645.3" y2="549.6" stroke="#333" stroke-width="0.9"/>
<text x="648.8" y="552.6" font-size="9">0.2433</text>
<line x1="641.8" y1="571.6" x2="645.3" y2="571.6" stroke="#333" stroke-width="0.9"/>
<text x="648.8" y="574.6" font-size="9">0.2165</text>
<line x1="641.8" y1="593.6" x2="645.3" y2="593.6" stroke="#333" stroke-width="0.9"/>
<text x="648.8" y="596.6" font-size="9">0.1898</text>
<line x1="641.8" y1="615.5" x2="645.3" y2="615.5" stroke="#333" stroke-width="0.9"/>
<text x="648.8" y="618.6" font-size="9">0.1630</text>
<line x1="641.8" y1="637.5" x2="645.3" y2="637.5" stroke="#333" stroke-width="0.9"/>
<text x="648.8" y="640.6" font-size="9">0.1363</text>
<line x1="641.8" y1="659.5" x2="645.3" y2="659.5" stroke="#333" stroke-width="0.9"/>
<text x="648.8" y="662.6" font-size="9">0.1095</text>
<line x1="641.8" y1="681.5" x2="645.3" y2="681.5" stroke="#333" stroke-width="0.9"/>
<text x="648.8" y="684.6" font-size="9">0.08275</text>
<line x1="641.8" y1="703.5" x2="645.3" y2="703.5" stroke="#333" stroke-width="0.9"/>
<text x="648.8" y="706.6" font-size="9">0.05600</text>
</svg>
</body></html>
